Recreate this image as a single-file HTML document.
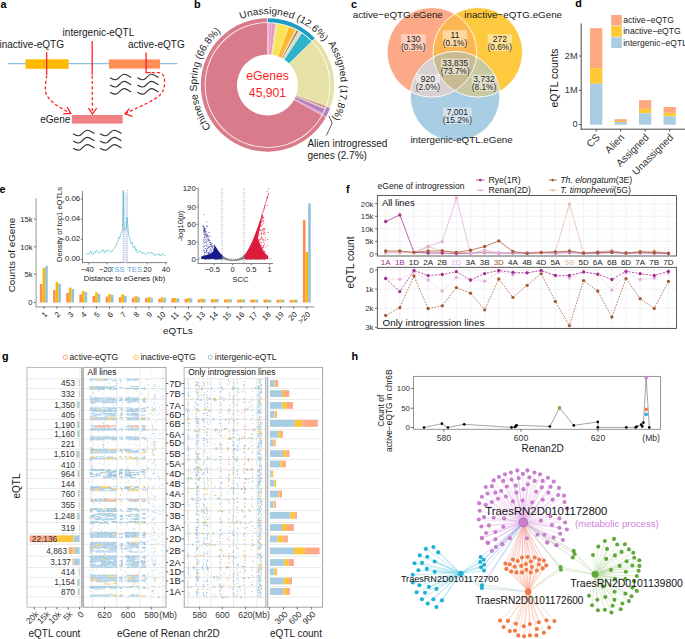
<!DOCTYPE html>
<html><head><meta charset="utf-8"><style>
html,body{margin:0;padding:0;background:#fff;}
svg{display:block;font-family:"Liberation Sans", sans-serif;}
</style></head><body>
<svg width="685" height="639" viewBox="0 0 685 639">
<rect width="685" height="639" fill="#fff"/>
<text x="0.60" y="7.90" font-size="10.8" font-weight="bold" fill="#000">a</text>
<line x1="8.00" y1="63.70" x2="177.50" y2="63.70" stroke="#8fbfdf" stroke-width="1.2"/>
<rect x="25.50" y="59.30" width="43.10" height="9.50" fill="#ffb901"/>
<rect x="109.00" y="59.40" width="51.00" height="9.20" fill="#ff8d55"/>
<text x="-0.50" y="48.00" font-size="10" fill="#1a1a1a">inactive-eQTG</text>
<text x="62.60" y="36.20" font-size="10" fill="#1a1a1a">intergenic-eQTL</text>
<text x="128.00" y="48.30" font-size="10" fill="#1a1a1a">active-eQTG</text>
<rect x="71.80" y="115.00" width="50.90" height="8.60" fill="#f08283"/>
<text x="70.30" y="122.80" font-size="10" text-anchor="end" fill="#1a1a1a">eGene</text>
<line x1="46.70" y1="52.30" x2="46.70" y2="74.80" stroke="#ff2222" stroke-width="1.3"/>
<line x1="92.20" y1="41.00" x2="92.20" y2="74.80" stroke="#ff2222" stroke-width="1.3"/>
<path d="M146.1,52.5 L146.1,72.6 L150.5,72.6" stroke="#ff2222" fill="none" stroke-width="1.3"/>
<path d="M46.7,75.5 C46.2,80 44.8,87 45.6,92 C47.5,100 58,107 70.2,113.2" stroke="#ff2222" fill="none" stroke-width="1.3" stroke-dasharray="3.2,2.2"/>
<path d="M63.2,113.8 L70.8,113.5 L67.1,107.0" stroke="#ff2222" fill="none" stroke-width="1.3"/>
<path d="M92.2,75.5 L92.4,113.5" stroke="#ff2222" fill="none" stroke-width="1.3" stroke-dasharray="3.2,2.2"/>
<path d="M88.4,108.0 L92.5,114.2 L96.7,108.0" stroke="#ff2222" fill="none" stroke-width="1.3"/>
<path d="M151.5,72.6 L158,72.6 C163,72.8 164.6,76 164.6,82 C164.6,88 163.5,92 159,96 C150,103 136,108 125.5,113.6" stroke="#ff2222" fill="none" stroke-width="1.3" stroke-dasharray="3.2,2.2"/>
<path d="M129.4,108.7 L125.0,113.8 L132.5,116.3" stroke="#ff2222" fill="none" stroke-width="1.3"/>
<path d="M110.00,77.80 C112.94,79.30 114.91,81.30 117.85,78.80 C119.81,76.80 121.78,74.20 124.23,74.20 C126.69,74.20 128.65,76.20 131.20,77.60" stroke="#333" fill="none" stroke-width="1.15"/>
<path d="M110.00,85.00 C112.94,86.50 114.91,88.50 117.85,86.00 C119.81,84.00 121.78,81.40 124.23,81.40 C126.69,81.40 128.65,83.40 131.20,84.80" stroke="#333" fill="none" stroke-width="1.15"/>
<path d="M110.00,92.20 C112.94,93.70 114.91,95.70 117.85,93.20 C119.81,91.20 121.78,88.60 124.23,88.60 C126.69,88.60 128.65,90.60 131.20,92.00" stroke="#333" fill="none" stroke-width="1.15"/>
<path d="M137.30,77.80 C140.24,79.30 142.21,81.30 145.15,78.80 C147.11,76.80 149.08,74.20 151.53,74.20 C153.99,74.20 155.95,76.20 158.50,77.60" stroke="#333" fill="none" stroke-width="1.15"/>
<path d="M137.30,85.00 C140.24,86.50 142.21,88.50 145.15,86.00 C147.11,84.00 149.08,81.40 151.53,81.40 C153.99,81.40 155.95,83.40 158.50,84.80" stroke="#333" fill="none" stroke-width="1.15"/>
<path d="M137.30,92.20 C140.24,93.70 142.21,95.70 145.15,93.20 C147.11,91.20 149.08,88.60 151.53,88.60 C153.99,88.60 155.95,90.60 158.50,92.00" stroke="#333" fill="none" stroke-width="1.15"/>
<path d="M73.00,133.80 C75.99,135.30 77.98,137.30 80.96,134.80 C82.95,132.80 84.94,130.20 87.43,130.20 C89.92,130.20 91.91,132.20 94.50,133.60" stroke="#333" fill="none" stroke-width="1.15"/>
<path d="M73.00,141.00 C75.99,142.50 77.98,144.50 80.96,142.00 C82.95,140.00 84.94,137.40 87.43,137.40 C89.92,137.40 91.91,139.40 94.50,140.80" stroke="#333" fill="none" stroke-width="1.15"/>
<path d="M73.00,148.20 C75.99,149.70 77.98,151.70 80.96,149.20 C82.95,147.20 84.94,144.60 87.43,144.60 C89.92,144.60 91.91,146.60 94.50,148.00" stroke="#333" fill="none" stroke-width="1.15"/>
<path d="M100.00,133.80 C102.99,135.30 104.98,137.30 107.96,134.80 C109.95,132.80 111.94,130.20 114.43,130.20 C116.92,130.20 118.91,132.20 121.50,133.60" stroke="#333" fill="none" stroke-width="1.15"/>
<path d="M100.00,141.00 C102.99,142.50 104.98,144.50 107.96,142.00 C109.95,140.00 111.94,137.40 114.43,137.40 C116.92,137.40 118.91,139.40 121.50,140.80" stroke="#333" fill="none" stroke-width="1.15"/>
<path d="M100.00,148.20 C102.99,149.70 104.98,151.70 107.96,149.20 C109.95,147.20 111.94,144.60 114.43,144.60 C116.92,144.60 118.91,146.60 121.50,148.00" stroke="#333" fill="none" stroke-width="1.15"/>
<text x="193.90" y="7.90" font-size="10.8" font-weight="bold" fill="#000">b</text>
<path d="M267.50,23.00 A62.0,62.0 0 0 1 269.23,23.02 L268.35,54.51 A30.5,30.5 0 0 0 267.50,54.50 Z" fill="#e9b7d3"/>
<path d="M269.23,23.02 A62.0,62.0 0 0 1 272.04,23.17 L269.73,54.58 A30.5,30.5 0 0 0 268.35,54.51 Z" fill="#f29bd0"/>
<path d="M272.04,23.17 A62.0,62.0 0 0 1 275.27,23.49 L271.32,54.74 A30.5,30.5 0 0 0 269.73,54.58 Z" fill="#e39ab6"/>
<path d="M275.27,23.49 A62.0,62.0 0 0 1 277.09,23.75 L272.22,54.87 A30.5,30.5 0 0 0 271.32,54.74 Z" fill="#e6d3b8"/>
<path d="M277.09,23.75 A62.0,62.0 0 0 1 288.81,26.78 L277.98,56.36 A30.5,30.5 0 0 0 272.22,54.87 Z" fill="#f8e45b"/>
<path d="M288.81,26.78 A62.0,62.0 0 0 1 295.45,29.66 L281.25,57.78 A30.5,30.5 0 0 0 277.98,56.36 Z" fill="#fdb92a"/>
<path d="M295.45,29.66 A62.0,62.0 0 0 1 296.61,30.26 L281.82,58.07 A30.5,30.5 0 0 0 281.25,57.78 Z" fill="#f3e2c2"/>
<path d="M296.61,30.26 A62.0,62.0 0 0 1 298.50,31.31 L282.75,58.59 A30.5,30.5 0 0 0 281.82,58.07 Z" fill="#a9793f"/>
<path d="M298.50,31.31 A62.0,62.0 0 0 1 301.72,33.30 L284.33,59.57 A30.5,30.5 0 0 0 282.75,58.59 Z" fill="#dcdcca"/>
<path d="M301.72,33.30 A62.0,62.0 0 0 1 311.65,41.47 L289.22,63.58 A30.5,30.5 0 0 0 284.33,59.57 Z" fill="#2cb3c7"/>
<path d="M311.65,41.47 A62.0,62.0 0 0 1 326.12,105.19 L296.34,94.93 A30.5,30.5 0 0 0 289.22,63.58 Z" fill="#e6e1a7"/>
<path d="M326.12,105.19 A62.0,62.0 0 0 1 325.54,106.81 L296.05,95.73 A30.5,30.5 0 0 0 296.34,94.93 Z" fill="#e4b7a3"/>
<path d="M325.54,106.81 A62.0,62.0 0 0 1 325.15,107.82 L295.86,96.23 A30.5,30.5 0 0 0 296.05,95.73 Z" fill="#a47b5c"/>
<path d="M325.15,107.82 A62.0,62.0 0 0 1 324.74,108.83 L295.66,96.72 A30.5,30.5 0 0 0 295.86,96.23 Z" fill="#e8c7b8"/>
<path d="M324.74,108.83 A62.0,62.0 0 0 1 322.74,113.15 L294.68,98.85 A30.5,30.5 0 0 0 295.66,96.72 Z" fill="#b681b8"/>
<path d="M322.74,113.15 A62.0,62.0 0 0 1 321.78,114.96 L294.20,99.74 A30.5,30.5 0 0 0 294.68,98.85 Z" fill="#d9a5d8"/>
<path d="M321.78,114.96 A62.0,62.0 0 1 1 267.50,23.00 L267.50,54.50 A30.5,30.5 0 1 0 294.20,99.74 Z" fill="#d97b8a"/>
<line x1="267.50" y1="54.50" x2="267.50" y2="23.00" stroke="#fff" stroke-width="0.35"/>
<line x1="272.22" y1="54.87" x2="277.09" y2="23.75" stroke="#fff" stroke-width="0.35"/>
<line x1="277.98" y1="56.36" x2="288.81" y2="26.78" stroke="#fff" stroke-width="0.35"/>
<line x1="281.82" y1="58.07" x2="296.61" y2="30.26" stroke="#fff" stroke-width="0.35"/>
<line x1="282.75" y1="58.59" x2="298.50" y2="31.31" stroke="#fff" stroke-width="0.35"/>
<line x1="284.33" y1="59.57" x2="301.72" y2="33.30" stroke="#fff" stroke-width="0.35"/>
<line x1="289.22" y1="63.58" x2="311.65" y2="41.47" stroke="#fff" stroke-width="0.35"/>
<line x1="296.34" y1="94.93" x2="326.12" y2="105.19" stroke="#fff" stroke-width="0.35"/>
<line x1="295.66" y1="96.72" x2="324.74" y2="108.83" stroke="#fff" stroke-width="0.35"/>
<line x1="294.20" y1="99.74" x2="321.78" y2="114.96" stroke="#fff" stroke-width="0.35"/>
<path d="M267.50,18.30 A66.7,66.7 0 0 1 314.99,38.17 L312.22,40.90 A62.8,62.8 0 0 0 267.50,22.20 Z" fill="#1c9dc5"/>
<path d="M314.99,38.17 A66.7,66.7 0 0 1 330.18,107.81 L326.51,106.48 A62.8,62.8 0 0 0 312.22,40.90 Z" fill="#e6e1a7"/>
<path d="M330.18,107.81 A66.7,66.7 0 0 1 325.89,117.23 L322.48,115.35 A62.8,62.8 0 0 0 326.51,106.48 Z" fill="#b681b8"/>
<path d="M325.89,117.23 A66.7,66.7 0 1 1 267.50,18.30 L267.50,22.20 A62.8,62.8 0 1 0 322.48,115.35 Z" fill="#d97b8a"/>
<line x1="267.50" y1="22.50" x2="267.50" y2="17.50" stroke="#fff" stroke-width="0.6"/>
<line x1="312.00" y1="41.12" x2="315.56" y2="37.60" stroke="#fff" stroke-width="0.6"/>
<line x1="326.23" y1="106.38" x2="330.93" y2="108.09" stroke="#fff" stroke-width="0.6"/>
<line x1="322.22" y1="115.21" x2="326.59" y2="117.62" stroke="#fff" stroke-width="0.6"/>
<text x="267.50" y="80.00" font-size="12.2" text-anchor="middle" fill="#ff1f1f">eGenes</text>
<text x="267.50" y="97.00" font-size="12.2" text-anchor="middle" fill="#ff1f1f">45,901</text>
<text x="0" y="0" font-size="10" text-anchor="middle" fill="#1a1a1a" transform="translate(208.86,124.67) rotate(235.92)">C</text><text x="0" y="0" font-size="10" text-anchor="middle" fill="#1a1a1a" transform="translate(205.52,119.22) rotate(241.09)">h</text><text x="0" y="0" font-size="10" text-anchor="middle" fill="#1a1a1a" transform="translate(203.73,115.77) rotate(244.24)">i</text><text x="0" y="0" font-size="10" text-anchor="middle" fill="#1a1a1a" transform="translate(202.14,112.22) rotate(247.39)">n</text><text x="0" y="0" font-size="10" text-anchor="middle" fill="#1a1a1a" transform="translate(200.21,107.00) rotate(251.89)">e</text><text x="0" y="0" font-size="10" text-anchor="middle" fill="#1a1a1a" transform="translate(198.75,101.93) rotate(256.17)">s</text><text x="0" y="0" font-size="10" text-anchor="middle" fill="#1a1a1a" transform="translate(197.68,96.76) rotate(260.44)">e</text><text x="0" y="0" font-size="10" text-anchor="middle" fill="#1a1a1a" transform="translate(196.76,87.92) rotate(267.64)">S</text><text x="0" y="0" font-size="10" text-anchor="middle" fill="#1a1a1a" transform="translate(196.77,81.81) rotate(272.59)">p</text><text x="0" y="0" font-size="10" text-anchor="middle" fill="#1a1a1a" transform="translate(197.11,77.37) rotate(276.18)">r</text><text x="0" y="0" font-size="10" text-anchor="middle" fill="#1a1a1a" transform="translate(197.46,74.62) rotate(278.43)">i</text><text x="0" y="0" font-size="10" text-anchor="middle" fill="#1a1a1a" transform="translate(198.14,70.79) rotate(281.58)">n</text><text x="0" y="0" font-size="10" text-anchor="middle" fill="#1a1a1a" transform="translate(199.47,65.39) rotate(286.08)">g</text><text x="0" y="0" font-size="10" text-anchor="middle" fill="#1a1a1a" transform="translate(201.82,58.56) rotate(291.93)">(</text><text x="0" y="0" font-size="10" text-anchor="middle" fill="#1a1a1a" transform="translate(203.61,54.49) rotate(295.52)">6</text><text x="0" y="0" font-size="10" text-anchor="middle" fill="#1a1a1a" transform="translate(206.20,49.58) rotate(300.02)">6</text><text x="0" y="0" font-size="10" text-anchor="middle" fill="#1a1a1a" transform="translate(208.39,46.03) rotate(303.40)">.</text><text x="0" y="0" font-size="10" text-anchor="middle" fill="#1a1a1a" transform="translate(210.79,42.62) rotate(306.77)">8</text><text x="0" y="0" font-size="10" text-anchor="middle" fill="#1a1a1a" transform="translate(215.40,37.06) rotate(312.62)">%</text><text x="0" y="0" font-size="10" text-anchor="middle" fill="#1a1a1a" transform="translate(219.73,32.75) rotate(317.56)">)</text>
<text x="0" y="0" font-size="10" text-anchor="middle" fill="#1a1a1a" transform="translate(244.13,18.17) rotate(340.72)">U</text><text x="0" y="0" font-size="10" text-anchor="middle" fill="#1a1a1a" transform="translate(250.34,16.31) rotate(345.98)">n</text><text x="0" y="0" font-size="10" text-anchor="middle" fill="#1a1a1a" transform="translate(255.88,15.16) rotate(350.56)">a</text><text x="0" y="0" font-size="10" text-anchor="middle" fill="#1a1a1a" transform="translate(261.22,14.48) rotate(354.91)">s</text><text x="0" y="0" font-size="10" text-anchor="middle" fill="#1a1a1a" transform="translate(266.31,14.21) rotate(359.04)">s</text><text x="0" y="0" font-size="10" text-anchor="middle" fill="#1a1a1a" transform="translate(270.02,14.24) rotate(362.04)">i</text><text x="0" y="0" font-size="10" text-anchor="middle" fill="#1a1a1a" transform="translate(274.00,14.50) rotate(365.27)">g</text><text x="0" y="0" font-size="10" text-anchor="middle" fill="#1a1a1a" transform="translate(279.61,15.24) rotate(369.85)">n</text><text x="0" y="0" font-size="10" text-anchor="middle" fill="#1a1a1a" transform="translate(285.15,16.43) rotate(374.43)">e</text><text x="0" y="0" font-size="10" text-anchor="middle" fill="#1a1a1a" transform="translate(290.57,18.06) rotate(379.01)">d</text><text x="0" y="0" font-size="10" text-anchor="middle" fill="#1a1a1a" transform="translate(297.45,20.85) rotate(385.02)">(</text><text x="0" y="0" font-size="10" text-anchor="middle" fill="#1a1a1a" transform="translate(301.50,22.90) rotate(388.70)">1</text><text x="0" y="0" font-size="10" text-anchor="middle" fill="#1a1a1a" transform="translate(306.35,25.81) rotate(393.28)">2</text><text x="0" y="0" font-size="10" text-anchor="middle" fill="#1a1a1a" transform="translate(309.85,28.26) rotate(396.74)">.</text><text x="0" y="0" font-size="10" text-anchor="middle" fill="#1a1a1a" transform="translate(313.19,30.92) rotate(400.19)">6</text><text x="0" y="0" font-size="10" text-anchor="middle" fill="#1a1a1a" transform="translate(318.53,35.93) rotate(406.12)">%</text><text x="0" y="0" font-size="10" text-anchor="middle" fill="#1a1a1a" transform="translate(322.64,40.59) rotate(411.15)">)</text>
<text x="0" y="0" font-size="10" text-anchor="middle" fill="#1a1a1a" transform="translate(329.72,46.44) rotate(58.21)">A</text><text x="0" y="0" font-size="10" text-anchor="middle" fill="#1a1a1a" transform="translate(332.59,51.52) rotate(62.78)">s</text><text x="0" y="0" font-size="10" text-anchor="middle" fill="#1a1a1a" transform="translate(334.73,56.04) rotate(66.69)">s</text><text x="0" y="0" font-size="10" text-anchor="middle" fill="#1a1a1a" transform="translate(336.07,59.39) rotate(69.52)">i</text><text x="0" y="0" font-size="10" text-anchor="middle" fill="#1a1a1a" transform="translate(337.34,63.07) rotate(72.56)">g</text><text x="0" y="0" font-size="10" text-anchor="middle" fill="#1a1a1a" transform="translate(338.80,68.43) rotate(76.92)">n</text><text x="0" y="0" font-size="10" text-anchor="middle" fill="#1a1a1a" transform="translate(339.85,73.89) rotate(81.27)">e</text><text x="0" y="0" font-size="10" text-anchor="middle" fill="#1a1a1a" transform="translate(340.49,79.41) rotate(85.62)">d</text><text x="0" y="0" font-size="10" text-anchor="middle" fill="#1a1a1a" transform="translate(340.68,86.63) rotate(91.28)">(</text><text x="0" y="0" font-size="10" text-anchor="middle" fill="#1a1a1a" transform="translate(340.45,91.07) rotate(94.76)">1</text><text x="0" y="0" font-size="10" text-anchor="middle" fill="#1a1a1a" transform="translate(339.78,96.59) rotate(99.11)">7</text><text x="0" y="0" font-size="10" text-anchor="middle" fill="#1a1a1a" transform="translate(339.00,100.68) rotate(102.37)">.</text><text x="0" y="0" font-size="10" text-anchor="middle" fill="#1a1a1a" transform="translate(337.99,104.73) rotate(105.64)">8</text><text x="0" y="0" font-size="10" text-anchor="middle" fill="#1a1a1a" transform="translate(335.70,111.58) rotate(111.29)">%</text><text x="0" y="0" font-size="10" text-anchor="middle" fill="#1a1a1a" transform="translate(333.25,117.17) rotate(116.08)">)</text>
<path d="M328.9,115.9 L332.2,123.1 L326.3,135.6" stroke="#333" fill="none" stroke-width="0.8"/>
<text x="307.40" y="147.00" font-size="10" fill="#1a1a1a">Alien introgressed</text>
<text x="307.40" y="158.80" font-size="10" fill="#1a1a1a">genes (2.7%)</text>
<text x="351.00" y="7.90" font-size="10.8" font-weight="bold" fill="#000">c</text>
<defs><clipPath id="cO"><circle cx="431.9" cy="52.3" r="44.8"/></clipPath><clipPath id="cY"><circle cx="477.8" cy="52.3" r="44.8"/></clipPath><clipPath id="cB"><circle cx="455.1" cy="96.2" r="44.8"/></clipPath></defs>
<circle cx="431.90" cy="52.30" r="44.80" fill="#fca987"/>
<circle cx="477.80" cy="52.30" r="44.80" fill="#fdc93f"/>
<circle cx="455.10" cy="96.20" r="44.80" fill="#a9cde3"/>
<g clip-path="url(#cO)"><circle cx="477.80" cy="52.30" r="44.80" fill="#fcb752"/></g>
<g clip-path="url(#cO)"><circle cx="455.10" cy="96.20" r="44.80" fill="#d7cfd0"/></g>
<g clip-path="url(#cY)"><circle cx="455.10" cy="96.20" r="44.80" fill="#c9c9a1"/></g>
<g clip-path="url(#cO)"><g clip-path="url(#cY)"><circle cx="455.10" cy="96.20" r="44.80" fill="#c8bb91"/></g></g>
<circle cx="431.90" cy="52.30" r="44.80" fill="none" stroke="#fff" stroke-width="0.9"/>
<circle cx="477.80" cy="52.30" r="44.80" fill="none" stroke="#fff" stroke-width="0.9"/>
<circle cx="455.10" cy="96.20" r="44.80" fill="none" stroke="#fff" stroke-width="0.9"/>
<rect x="401.05" y="34.30" width="24.50" height="16.60" fill="#ffffff" fill-opacity="0.45" rx="1.2"/><text x="413.30" y="41.70" font-size="8.5" text-anchor="middle" fill="#222">130</text><text x="413.30" y="49.50" font-size="8.3" text-anchor="middle" fill="#222">(0.3%)</text>
<rect x="442.75" y="30.30" width="24.50" height="16.60" fill="#ffffff" fill-opacity="0.45" rx="1.2"/><text x="455.00" y="37.70" font-size="8.5" text-anchor="middle" fill="#222">11</text><text x="455.00" y="45.50" font-size="8.3" text-anchor="middle" fill="#222">(0.1%)</text>
<rect x="487.55" y="34.30" width="24.50" height="16.60" fill="#ffffff" fill-opacity="0.45" rx="1.2"/><text x="499.80" y="41.70" font-size="8.5" text-anchor="middle" fill="#222">272</text><text x="499.80" y="49.50" font-size="8.3" text-anchor="middle" fill="#222">(0.6%)</text>
<rect x="440.95" y="58.50" width="28.50" height="16.60" fill="#ffffff" fill-opacity="0.45" rx="1.2"/><text x="455.20" y="65.90" font-size="8.5" text-anchor="middle" fill="#222">33,835</text><text x="455.20" y="73.70" font-size="8.3" text-anchor="middle" fill="#222">(73.7%)</text>
<rect x="415.65" y="74.30" width="24.50" height="16.60" fill="#ffffff" fill-opacity="0.45" rx="1.2"/><text x="427.90" y="81.70" font-size="8.5" text-anchor="middle" fill="#222">920</text><text x="427.90" y="89.50" font-size="8.3" text-anchor="middle" fill="#222">(2.0%)</text>
<rect x="471.75" y="74.40" width="24.50" height="16.60" fill="#ffffff" fill-opacity="0.45" rx="1.2"/><text x="484.00" y="81.80" font-size="8.5" text-anchor="middle" fill="#222">3,732</text><text x="484.00" y="89.60" font-size="8.3" text-anchor="middle" fill="#222">(8.1%)</text>
<rect x="443.15" y="107.50" width="28.50" height="16.60" fill="#ffffff" fill-opacity="0.45" rx="1.2"/><text x="457.40" y="114.90" font-size="8.5" text-anchor="middle" fill="#222">7,001</text><text x="457.40" y="122.70" font-size="8.3" text-anchor="middle" fill="#222">(15.2%)</text>
<text x="352.70" y="17.50" font-size="9.8" fill="#1a1a1a">active−eQTG.eGene</text>
<text x="464.30" y="17.50" font-size="9.8" fill="#1a1a1a">inactive−eQTG.eGene</text>
<text x="410.40" y="142.80" font-size="9.8" fill="#1a1a1a">intergenic-eQTL.eGene</text>
<text x="575.20" y="7.20" font-size="10.8" font-weight="bold" fill="#000">d</text>
<line x1="581.20" y1="23.50" x2="581.20" y2="129.50" stroke="#333" stroke-width="0.9"/>
<line x1="580.80" y1="129.20" x2="685.00" y2="129.20" stroke="#333" stroke-width="0.9"/>
<line x1="578.80" y1="124.60" x2="581.20" y2="124.60" stroke="#333" stroke-width="0.8"/>
<text x="577.60" y="127.30" font-size="9.2" text-anchor="end" fill="#333">0</text>
<line x1="578.80" y1="90.30" x2="581.20" y2="90.30" stroke="#333" stroke-width="0.8"/>
<text x="577.60" y="93.00" font-size="9.2" text-anchor="end" fill="#333">1M</text>
<line x1="578.80" y1="56.00" x2="581.20" y2="56.00" stroke="#333" stroke-width="0.8"/>
<text x="577.60" y="58.70" font-size="9.2" text-anchor="end" fill="#333">2M</text>
<rect x="590.00" y="28.20" width="12.30" height="40.00" fill="#fca880"/>
<rect x="590.00" y="68.20" width="12.30" height="15.60" fill="#fdca35"/>
<rect x="590.00" y="83.80" width="12.30" height="40.90" fill="#a8cde2"/>
<rect x="614.50" y="119.20" width="12.30" height="1.80" fill="#fca880"/>
<rect x="614.50" y="121.00" width="12.30" height="1.00" fill="#fdca35"/>
<rect x="614.50" y="122.00" width="12.30" height="2.70" fill="#a8cde2"/>
<rect x="639.00" y="100.20" width="12.30" height="8.60" fill="#fca880"/>
<rect x="639.00" y="108.80" width="12.30" height="4.50" fill="#fdca35"/>
<rect x="639.00" y="113.30" width="12.30" height="11.40" fill="#a8cde2"/>
<rect x="663.50" y="107.00" width="12.30" height="5.80" fill="#fca880"/>
<rect x="663.50" y="112.80" width="12.30" height="3.60" fill="#fdca35"/>
<rect x="663.50" y="116.40" width="12.30" height="8.30" fill="#a8cde2"/>
<line x1="596.20" y1="129.20" x2="596.20" y2="131.60" stroke="#333" stroke-width="0.8"/>
<line x1="620.60" y1="129.20" x2="620.60" y2="131.60" stroke="#333" stroke-width="0.8"/>
<line x1="645.10" y1="129.20" x2="645.10" y2="131.60" stroke="#333" stroke-width="0.8"/>
<line x1="669.60" y1="129.20" x2="669.60" y2="131.60" stroke="#333" stroke-width="0.8"/>
<text x="0" y="0" font-size="10.1" text-anchor="end" fill="#333" transform="translate(600.60,138.00) rotate(-45)">CS</text>
<text x="0" y="0" font-size="10.1" text-anchor="end" fill="#333" transform="translate(625.00,138.00) rotate(-45)">Alien</text>
<text x="0" y="0" font-size="10.1" text-anchor="end" fill="#333" transform="translate(649.50,138.00) rotate(-45)">Assigned</text>
<text x="0" y="0" font-size="10.1" text-anchor="end" fill="#333" transform="translate(674.00,138.00) rotate(-45)">Unassigned</text>
<text x="0" y="0" font-size="10.4" text-anchor="middle" fill="#1a1a1a" transform="translate(557.80,78.00) rotate(-90)">eQTL counts</text>
<rect x="611.20" y="15.00" width="10.60" height="10.60" fill="#fca880"/>
<text x="623.20" y="23.20" font-size="8.6" fill="#222">active−eQTG</text>
<rect x="611.20" y="26.20" width="10.60" height="10.60" fill="#fdca35"/>
<text x="623.20" y="34.40" font-size="8.6" fill="#222">inactive−eQTG</text>
<rect x="611.20" y="37.40" width="10.60" height="10.60" fill="#a8cde2"/>
<text x="623.20" y="45.60" font-size="8.6" fill="#222">intergenic−eQTL</text>
<text x="-0.60" y="192.60" font-size="10.8" font-weight="bold" fill="#000">e</text>
<line x1="36.10" y1="198.20" x2="36.10" y2="307.40" stroke="#a8a8a8" stroke-width="1.2"/>
<line x1="35.40" y1="306.90" x2="314.50" y2="306.90" stroke="#a8a8a8" stroke-width="1.2"/>
<line x1="34.00" y1="302.40" x2="35.50" y2="302.40" stroke="#333" stroke-width="0.8"/>
<text x="32.60" y="305.20" font-size="7.6" text-anchor="end" fill="#222">0</text>
<line x1="34.00" y1="274.40" x2="35.50" y2="274.40" stroke="#333" stroke-width="0.8"/>
<text x="32.60" y="277.20" font-size="7.6" text-anchor="end" fill="#222">5k</text>
<line x1="34.00" y1="246.90" x2="35.50" y2="246.90" stroke="#333" stroke-width="0.8"/>
<text x="32.60" y="249.70" font-size="7.6" text-anchor="end" fill="#222">10k</text>
<line x1="34.00" y1="219.10" x2="35.50" y2="219.10" stroke="#333" stroke-width="0.8"/>
<text x="32.60" y="221.90" font-size="7.6" text-anchor="end" fill="#222">15k</text>
<text x="0" y="0" font-size="9.9" text-anchor="middle" fill="#1a1a1a" transform="translate(14.90,255.00) rotate(-90)">Counts of eGene</text>
<rect x="39.90" y="283.90" width="2.62" height="18.60" fill="#fd8e4f"/>
<rect x="42.52" y="268.10" width="2.62" height="34.40" fill="#fdb701"/>
<rect x="45.14" y="265.90" width="2.62" height="36.60" fill="#90c2dd"/>
<line x1="43.83" y1="306.60" x2="43.83" y2="308.60" stroke="#333" stroke-width="0.8"/>
<text x="0" y="0" font-size="7.8" text-anchor="end" fill="#222" transform="translate(47.73,315.00) rotate(-45)">1</text>
<rect x="53.05" y="290.20" width="2.62" height="12.30" fill="#fd8e4f"/>
<rect x="55.67" y="282.00" width="2.62" height="20.50" fill="#fdb701"/>
<rect x="58.29" y="283.90" width="2.62" height="18.60" fill="#90c2dd"/>
<line x1="56.98" y1="306.60" x2="56.98" y2="308.60" stroke="#333" stroke-width="0.8"/>
<text x="0" y="0" font-size="7.8" text-anchor="end" fill="#222" transform="translate(60.88,315.00) rotate(-45)">2</text>
<rect x="66.20" y="293.00" width="2.62" height="9.50" fill="#fd8e4f"/>
<rect x="68.82" y="287.60" width="2.62" height="14.90" fill="#fdb701"/>
<rect x="71.44" y="289.00" width="2.62" height="13.50" fill="#90c2dd"/>
<line x1="70.13" y1="306.60" x2="70.13" y2="308.60" stroke="#333" stroke-width="0.8"/>
<text x="0" y="0" font-size="7.8" text-anchor="end" fill="#222" transform="translate(74.03,315.00) rotate(-45)">3</text>
<rect x="79.35" y="294.40" width="2.62" height="8.10" fill="#fd8e4f"/>
<rect x="81.97" y="290.80" width="2.62" height="11.70" fill="#fdb701"/>
<rect x="84.59" y="291.90" width="2.62" height="10.60" fill="#90c2dd"/>
<line x1="83.28" y1="306.60" x2="83.28" y2="308.60" stroke="#333" stroke-width="0.8"/>
<text x="0" y="0" font-size="7.8" text-anchor="end" fill="#222" transform="translate(87.18,315.00) rotate(-45)">4</text>
<rect x="92.50" y="295.90" width="2.62" height="6.60" fill="#fd8e4f"/>
<rect x="95.12" y="292.20" width="2.62" height="10.30" fill="#fdb701"/>
<rect x="97.74" y="294.00" width="2.62" height="8.50" fill="#90c2dd"/>
<line x1="96.43" y1="306.60" x2="96.43" y2="308.60" stroke="#333" stroke-width="0.8"/>
<text x="0" y="0" font-size="7.8" text-anchor="end" fill="#222" transform="translate(100.33,315.00) rotate(-45)">5</text>
<rect x="105.65" y="296.60" width="2.62" height="5.90" fill="#fd8e4f"/>
<rect x="108.27" y="294.00" width="2.62" height="8.50" fill="#fdb701"/>
<rect x="110.89" y="294.90" width="2.62" height="7.60" fill="#90c2dd"/>
<line x1="109.58" y1="306.60" x2="109.58" y2="308.60" stroke="#333" stroke-width="0.8"/>
<text x="0" y="0" font-size="7.8" text-anchor="end" fill="#222" transform="translate(113.48,315.00) rotate(-45)">6</text>
<rect x="118.80" y="297.00" width="2.62" height="5.50" fill="#fd8e4f"/>
<rect x="121.42" y="294.40" width="2.62" height="8.10" fill="#fdb701"/>
<rect x="124.04" y="295.90" width="2.62" height="6.60" fill="#90c2dd"/>
<line x1="122.73" y1="306.60" x2="122.73" y2="308.60" stroke="#333" stroke-width="0.8"/>
<text x="0" y="0" font-size="7.8" text-anchor="end" fill="#222" transform="translate(126.63,315.00) rotate(-45)">7</text>
<rect x="131.95" y="297.80" width="2.62" height="4.70" fill="#fd8e4f"/>
<rect x="134.57" y="296.00" width="2.62" height="6.50" fill="#fdb701"/>
<rect x="137.19" y="297.00" width="2.62" height="5.50" fill="#90c2dd"/>
<line x1="135.88" y1="306.60" x2="135.88" y2="308.60" stroke="#333" stroke-width="0.8"/>
<text x="0" y="0" font-size="7.8" text-anchor="end" fill="#222" transform="translate(139.78,315.00) rotate(-45)">8</text>
<rect x="145.10" y="298.20" width="2.62" height="4.30" fill="#fd8e4f"/>
<rect x="147.72" y="297.00" width="2.62" height="5.50" fill="#fdb701"/>
<rect x="150.34" y="297.80" width="2.62" height="4.70" fill="#90c2dd"/>
<line x1="149.03" y1="306.60" x2="149.03" y2="308.60" stroke="#333" stroke-width="0.8"/>
<text x="0" y="0" font-size="7.8" text-anchor="end" fill="#222" transform="translate(152.93,315.00) rotate(-45)">9</text>
<rect x="158.25" y="298.70" width="2.62" height="3.80" fill="#fd8e4f"/>
<rect x="160.87" y="297.20" width="2.62" height="5.30" fill="#fdb701"/>
<rect x="163.49" y="297.80" width="2.62" height="4.70" fill="#90c2dd"/>
<line x1="162.18" y1="306.60" x2="162.18" y2="308.60" stroke="#333" stroke-width="0.8"/>
<text x="0" y="0" font-size="7.8" text-anchor="end" fill="#222" transform="translate(166.08,315.00) rotate(-45)">10</text>
<rect x="171.40" y="298.30" width="2.62" height="4.20" fill="#fd8e4f"/>
<rect x="174.02" y="298.00" width="2.62" height="4.50" fill="#fdb701"/>
<rect x="176.64" y="298.30" width="2.62" height="4.20" fill="#90c2dd"/>
<line x1="175.33" y1="306.60" x2="175.33" y2="308.60" stroke="#333" stroke-width="0.8"/>
<text x="0" y="0" font-size="7.8" text-anchor="end" fill="#222" transform="translate(179.23,315.00) rotate(-45)">11</text>
<rect x="184.55" y="299.00" width="2.62" height="3.50" fill="#fd8e4f"/>
<rect x="187.17" y="298.00" width="2.62" height="4.50" fill="#fdb701"/>
<rect x="189.79" y="298.30" width="2.62" height="4.20" fill="#90c2dd"/>
<line x1="188.48" y1="306.60" x2="188.48" y2="308.60" stroke="#333" stroke-width="0.8"/>
<text x="0" y="0" font-size="7.8" text-anchor="end" fill="#222" transform="translate(192.38,315.00) rotate(-45)">12</text>
<rect x="197.70" y="299.40" width="2.62" height="3.10" fill="#fd8e4f"/>
<rect x="200.32" y="298.50" width="2.62" height="4.00" fill="#fdb701"/>
<rect x="202.94" y="299.00" width="2.62" height="3.50" fill="#90c2dd"/>
<line x1="201.63" y1="306.60" x2="201.63" y2="308.60" stroke="#333" stroke-width="0.8"/>
<text x="0" y="0" font-size="7.8" text-anchor="end" fill="#222" transform="translate(205.53,315.00) rotate(-45)">13</text>
<rect x="210.85" y="299.40" width="2.62" height="3.10" fill="#fd8e4f"/>
<rect x="213.47" y="299.00" width="2.62" height="3.50" fill="#fdb701"/>
<rect x="216.09" y="299.00" width="2.62" height="3.50" fill="#90c2dd"/>
<line x1="214.78" y1="306.60" x2="214.78" y2="308.60" stroke="#333" stroke-width="0.8"/>
<text x="0" y="0" font-size="7.8" text-anchor="end" fill="#222" transform="translate(218.68,315.00) rotate(-45)">14</text>
<rect x="224.00" y="299.60" width="2.62" height="2.90" fill="#fd8e4f"/>
<rect x="226.62" y="299.10" width="2.62" height="3.40" fill="#fdb701"/>
<rect x="229.24" y="299.30" width="2.62" height="3.20" fill="#90c2dd"/>
<line x1="227.93" y1="306.60" x2="227.93" y2="308.60" stroke="#333" stroke-width="0.8"/>
<text x="0" y="0" font-size="7.8" text-anchor="end" fill="#222" transform="translate(231.83,315.00) rotate(-45)">15</text>
<rect x="237.15" y="299.70" width="2.62" height="2.80" fill="#fd8e4f"/>
<rect x="239.77" y="299.30" width="2.62" height="3.20" fill="#fdb701"/>
<rect x="242.39" y="299.40" width="2.62" height="3.10" fill="#90c2dd"/>
<line x1="241.08" y1="306.60" x2="241.08" y2="308.60" stroke="#333" stroke-width="0.8"/>
<text x="0" y="0" font-size="7.8" text-anchor="end" fill="#222" transform="translate(244.98,315.00) rotate(-45)">16</text>
<rect x="250.30" y="299.80" width="2.62" height="2.70" fill="#fd8e4f"/>
<rect x="252.92" y="299.40" width="2.62" height="3.10" fill="#fdb701"/>
<rect x="255.54" y="299.60" width="2.62" height="2.90" fill="#90c2dd"/>
<line x1="254.23" y1="306.60" x2="254.23" y2="308.60" stroke="#333" stroke-width="0.8"/>
<text x="0" y="0" font-size="7.8" text-anchor="end" fill="#222" transform="translate(258.13,315.00) rotate(-45)">17</text>
<rect x="263.45" y="299.80" width="2.62" height="2.70" fill="#fd8e4f"/>
<rect x="266.07" y="299.50" width="2.62" height="3.00" fill="#fdb701"/>
<rect x="268.69" y="299.70" width="2.62" height="2.80" fill="#90c2dd"/>
<line x1="267.38" y1="306.60" x2="267.38" y2="308.60" stroke="#333" stroke-width="0.8"/>
<text x="0" y="0" font-size="7.8" text-anchor="end" fill="#222" transform="translate(271.28,315.00) rotate(-45)">18</text>
<rect x="276.60" y="299.90" width="2.62" height="2.60" fill="#fd8e4f"/>
<rect x="279.22" y="299.60" width="2.62" height="2.90" fill="#fdb701"/>
<rect x="281.84" y="299.70" width="2.62" height="2.80" fill="#90c2dd"/>
<line x1="280.53" y1="306.60" x2="280.53" y2="308.60" stroke="#333" stroke-width="0.8"/>
<text x="0" y="0" font-size="7.8" text-anchor="end" fill="#222" transform="translate(284.43,315.00) rotate(-45)">19</text>
<rect x="289.75" y="300.00" width="2.62" height="2.50" fill="#fd8e4f"/>
<rect x="292.37" y="299.70" width="2.62" height="2.80" fill="#fdb701"/>
<rect x="294.99" y="299.80" width="2.62" height="2.70" fill="#90c2dd"/>
<line x1="293.68" y1="306.60" x2="293.68" y2="308.60" stroke="#333" stroke-width="0.8"/>
<text x="0" y="0" font-size="7.8" text-anchor="end" fill="#222" transform="translate(297.58,315.00) rotate(-45)">20</text>
<rect x="302.90" y="219.80" width="2.62" height="82.70" fill="#fd8e4f"/>
<rect x="305.52" y="252.10" width="2.62" height="50.40" fill="#fdb701"/>
<rect x="308.14" y="203.40" width="2.62" height="99.10" fill="#90c2dd"/>
<line x1="306.83" y1="306.60" x2="306.83" y2="308.60" stroke="#333" stroke-width="0.8"/>
<text x="0" y="0" font-size="7.8" text-anchor="end" fill="#222" transform="translate(310.73,315.00) rotate(-45)">&gt;20</text>
<text x="177.90" y="334.20" font-size="9.9" text-anchor="middle" fill="#1a1a1a">eQTLs</text>
<line x1="82.50" y1="191.00" x2="82.50" y2="263.20" stroke="#777" stroke-width="0.9"/>
<line x1="82.00" y1="262.60" x2="167.20" y2="262.60" stroke="#777" stroke-width="0.9"/>
<line x1="80.80" y1="259.50" x2="82.00" y2="259.50" stroke="#333" stroke-width="0.7"/>
<text x="80.20" y="261.20" font-size="7.8" text-anchor="end" fill="#222">0.00</text>
<line x1="80.80" y1="239.30" x2="82.00" y2="239.30" stroke="#333" stroke-width="0.7"/>
<text x="80.20" y="241.00" font-size="7.8" text-anchor="end" fill="#222">0.02</text>
<line x1="80.80" y1="219.20" x2="82.00" y2="219.20" stroke="#333" stroke-width="0.7"/>
<text x="80.20" y="220.90" font-size="7.8" text-anchor="end" fill="#222">0.04</text>
<line x1="80.80" y1="199.00" x2="82.00" y2="199.00" stroke="#333" stroke-width="0.7"/>
<text x="80.20" y="200.70" font-size="7.8" text-anchor="end" fill="#222">0.06</text>
<line x1="88.80" y1="263.20" x2="88.80" y2="264.40" stroke="#333" stroke-width="0.7"/>
<text x="87.20" y="272.40" font-size="7.6" text-anchor="middle" fill="#222">−40</text>
<line x1="107.00" y1="263.20" x2="107.00" y2="264.40" stroke="#333" stroke-width="0.7"/>
<text x="105.40" y="272.40" font-size="7.6" text-anchor="middle" fill="#222">−20</text>
<line x1="147.40" y1="263.20" x2="147.40" y2="264.40" stroke="#333" stroke-width="0.7"/>
<text x="147.40" y="272.40" font-size="7.6" text-anchor="middle" fill="#222">20</text>
<line x1="165.90" y1="263.20" x2="165.90" y2="264.40" stroke="#333" stroke-width="0.7"/>
<text x="165.90" y="272.40" font-size="7.6" text-anchor="middle" fill="#222">40</text>
<text x="117.20" y="272.40" font-size="7.6" text-anchor="middle" fill="#5d9fd3">TSS</text>
<text x="134.60" y="272.40" font-size="7.6" text-anchor="middle" fill="#5d9fd3">TES</text>
<text x="124.50" y="280.60" font-size="7.55" text-anchor="middle" fill="#1a1a1a">Distance to eGenes (kb)</text>
<text x="0" y="0" font-size="7.55" text-anchor="middle" fill="#1a1a1a" transform="translate(61.90,224.50) rotate(-90)">Density of top1 eQTLs</text>
<rect x="123.30" y="193.00" width="3.90" height="69.60" fill="#e9ebf2"/>
<path d="M86.50,253.79 L87.85,254.34 L89.31,253.96 L90.76,250.96 L91.94,254.49 L93.23,254.18 L94.20,252.35 L95.25,252.54 L96.49,250.28 L97.52,251.24 L98.97,253.03 L99.97,253.05 L100.95,252.22 L101.93,249.65 L103.35,250.33 L104.38,253.31 L105.80,250.39 L107.28,251.23 L108.59,249.75 L110.05,251.54 L111.53,252.19 L112.61,249.95 L113.61,248.98 L115.00,247.60 L116.00,246.00 L117.00,242.50 L118.00,241.50 L118.80,237.60 L119.60,238.50 L120.50,234.00 L121.30,233.50 L121.90,231.40 L122.60,228.50 L123.20,191.00 L123.80,222.00 L124.40,229.00 L125.00,230.50 L125.70,229.00 L126.30,227.50 L127.00,217.00 L127.60,222.00 L128.20,231.00 L129.00,236.00 L129.60,237.60 L130.40,240.00 L131.20,243.50 L132.00,242.00 L133.00,246.50 L133.80,247.60 L134.60,246.00 L135.60,250.50 L136.60,249.00 L137.60,252.70 L138.60,251.66 L139.92,250.88 L141.30,252.13 L142.41,253.81 L143.65,252.37 L144.89,253.77 L145.83,254.76 L146.74,254.15 L148.23,252.01 L149.69,253.31 L150.99,252.34 L151.92,253.01 L153.49,253.26 L154.92,255.79 L156.48,254.12 L157.63,254.85 L159.07,253.70 L160.50,256.09 L162.00,253.85 L163.56,254.23 L164.70,256.04" stroke="#62c4dc" fill="none" stroke-width="0.8"/>
<line x1="123.30" y1="190.00" x2="123.30" y2="262.60" stroke="#4a78b0" stroke-width="0.6" stroke-dasharray="1.0,1.3"/>
<line x1="127.20" y1="190.00" x2="127.20" y2="262.60" stroke="#4a78b0" stroke-width="0.6" stroke-dasharray="1.0,1.3"/>
<line x1="198.20" y1="187.50" x2="198.20" y2="264.00" stroke="#777" stroke-width="0.9"/>
<line x1="197.70" y1="263.50" x2="273.20" y2="263.50" stroke="#777" stroke-width="0.9"/>
<line x1="196.50" y1="259.70" x2="197.70" y2="259.70" stroke="#333" stroke-width="0.7"/>
<text x="195.80" y="262.30" font-size="7.8" text-anchor="end" fill="#222">0</text>
<line x1="196.50" y1="242.00" x2="197.70" y2="242.00" stroke="#333" stroke-width="0.7"/>
<text x="195.80" y="244.60" font-size="7.8" text-anchor="end" fill="#222">30</text>
<line x1="196.50" y1="224.40" x2="197.70" y2="224.40" stroke="#333" stroke-width="0.7"/>
<text x="195.80" y="227.00" font-size="7.8" text-anchor="end" fill="#222">60</text>
<line x1="196.50" y1="207.00" x2="197.70" y2="207.00" stroke="#333" stroke-width="0.7"/>
<text x="195.80" y="209.60" font-size="7.8" text-anchor="end" fill="#222">90</text>
<line x1="196.50" y1="188.60" x2="197.70" y2="188.60" stroke="#333" stroke-width="0.7"/>
<text x="195.80" y="191.20" font-size="7.8" text-anchor="end" fill="#222">120</text>
<line x1="214.20" y1="264.00" x2="214.20" y2="265.20" stroke="#333" stroke-width="0.7"/>
<text x="212.40" y="272.40" font-size="7.6" text-anchor="middle" fill="#222">−0.5</text>
<line x1="232.70" y1="264.00" x2="232.70" y2="265.20" stroke="#333" stroke-width="0.7"/>
<text x="232.70" y="272.40" font-size="7.6" text-anchor="middle" fill="#222">0</text>
<line x1="251.20" y1="264.00" x2="251.20" y2="265.20" stroke="#333" stroke-width="0.7"/>
<text x="251.20" y="272.40" font-size="7.6" text-anchor="middle" fill="#222">0.5</text>
<line x1="269.70" y1="264.00" x2="269.70" y2="265.20" stroke="#333" stroke-width="0.7"/>
<text x="269.70" y="272.40" font-size="7.6" text-anchor="middle" fill="#222">1</text>
<text x="240.40" y="282.40" font-size="7.6" text-anchor="middle" fill="#1a1a1a">SCC</text>
<text x="0" y="0" font-size="7.6" text-anchor="middle" fill="#1a1a1a" transform="translate(182.80,226.00) rotate(-90)">-log10(<tspan font-style="italic">p</tspan>)</text>
<path d="M222.4,255.2 C226,258.6 230,259.6 233.6,259.6 C237,259.6 241,258.4 244.4,254.6 L244.4,259.0 C240,260.4 237,261.0 233.6,261.0 C230,261.0 226,260.4 222.4,259.0 Z" stroke="none" fill="#8c8c8c" stroke-width="1"/>
<path d="M244.2,259.0 L244.2,255.2 C247,252 250,246.5 253,239.5 C255.5,233.5 257.5,228 259.5,222 C260.5,219 261.5,215 262.2,212 C262.0,220 259.5,230 257.8,238 C259.5,243 261.5,247 262.5,249.5 C264,252 265.5,254 268.2,256.0 L268.2,259.0 Z" stroke="none" fill="#dc1a3c" stroke-width="1"/>
<path d="M222.5,259.0 L222.5,255.6 C220.8,254.0 219.0,252.0 217.2,249.0 C216.0,247.2 215.0,245.5 214.2,244.0 C214.6,247.5 214.0,250.5 212.2,252.6 C209.5,254.6 205.0,255.6 201.2,256.4 L201.2,259.0 Z" stroke="none" fill="#17188a" stroke-width="1"/>
<path d="M259.1,250.6h0.8v0.8h-0.8zM264.5,205.2h0.8v0.8h-0.8zM260.0,247.7h0.8v0.8h-0.8zM256.2,258.2h0.8v0.8h-0.8zM263.3,239.2h0.8v0.8h-0.8zM251.4,258.9h0.8v0.8h-0.8zM261.6,258.9h0.8v0.8h-0.8zM255.9,233.5h0.8v0.8h-0.8zM267.4,196.0h0.8v0.8h-0.8zM261.4,237.1h0.8v0.8h-0.8zM245.1,258.5h0.8v0.8h-0.8zM251.8,246.4h0.8v0.8h-0.8zM250.6,258.1h0.8v0.8h-0.8zM254.6,259.0h0.8v0.8h-0.8zM263.7,251.2h0.8v0.8h-0.8zM260.9,247.0h0.8v0.8h-0.8zM261.1,248.1h0.8v0.8h-0.8zM254.4,250.4h0.8v0.8h-0.8zM268.1,193.4h0.8v0.8h-0.8zM262.4,217.0h0.8v0.8h-0.8zM251.6,255.7h0.8v0.8h-0.8zM247.8,256.4h0.8v0.8h-0.8zM260.6,226.0h0.8v0.8h-0.8zM261.8,216.2h0.8v0.8h-0.8zM266.2,200.0h0.8v0.8h-0.8zM249.2,259.0h0.8v0.8h-0.8zM263.9,207.3h0.8v0.8h-0.8zM267.0,196.3h0.8v0.8h-0.8zM258.0,258.9h0.8v0.8h-0.8zM260.1,224.6h0.8v0.8h-0.8zM252.0,258.9h0.8v0.8h-0.8zM266.5,199.0h0.8v0.8h-0.8zM250.3,258.7h0.8v0.8h-0.8zM245.9,258.8h0.8v0.8h-0.8zM260.0,222.4h0.8v0.8h-0.8zM258.5,244.4h0.8v0.8h-0.8zM260.5,258.1h0.8v0.8h-0.8zM258.5,258.7h0.8v0.8h-0.8zM254.0,258.8h0.8v0.8h-0.8zM251.4,257.8h0.8v0.8h-0.8zM266.8,197.9h0.8v0.8h-0.8zM263.9,256.0h0.8v0.8h-0.8zM254.0,257.8h0.8v0.8h-0.8zM262.2,215.2h0.8v0.8h-0.8zM265.1,258.8h0.8v0.8h-0.8zM251.2,257.8h0.8v0.8h-0.8zM260.3,225.2h0.8v0.8h-0.8zM248.0,256.2h0.8v0.8h-0.8zM257.2,258.9h0.8v0.8h-0.8zM258.3,257.3h0.8v0.8h-0.8zM256.5,254.0h0.8v0.8h-0.8zM266.1,199.8h0.8v0.8h-0.8zM264.2,243.4h0.8v0.8h-0.8zM248.7,258.2h0.8v0.8h-0.8zM264.0,207.6h0.8v0.8h-0.8zM250.0,257.2h0.8v0.8h-0.8zM264.1,228.9h0.8v0.8h-0.8zM264.7,258.0h0.8v0.8h-0.8zM262.8,211.4h0.8v0.8h-0.8zM250.5,252.0h0.8v0.8h-0.8zM264.5,259.0h0.8v0.8h-0.8zM260.3,257.4h0.8v0.8h-0.8zM262.6,257.1h0.8v0.8h-0.8zM256.9,241.8h0.8v0.8h-0.8zM260.2,258.3h0.8v0.8h-0.8zM249.7,258.9h0.8v0.8h-0.8zM264.0,244.4h0.8v0.8h-0.8zM257.0,240.4h0.8v0.8h-0.8zM264.1,206.3h0.8v0.8h-0.8zM250.5,259.0h0.8v0.8h-0.8zM250.1,250.9h0.8v0.8h-0.8zM253.2,258.3h0.8v0.8h-0.8zM254.0,243.5h0.8v0.8h-0.8zM264.3,254.3h0.8v0.8h-0.8zM267.2,196.3h0.8v0.8h-0.8zM261.3,233.7h0.8v0.8h-0.8zM245.5,258.6h0.8v0.8h-0.8zM263.4,259.0h0.8v0.8h-0.8zM264.7,232.8h0.8v0.8h-0.8zM258.1,259.0h0.8v0.8h-0.8zM262.1,249.1h0.8v0.8h-0.8zM266.0,255.6h0.8v0.8h-0.8zM256.4,258.9h0.8v0.8h-0.8zM263.9,229.1h0.8v0.8h-0.8zM262.5,229.1h0.8v0.8h-0.8zM263.4,222.9h0.8v0.8h-0.8zM260.6,254.6h0.8v0.8h-0.8zM263.7,208.7h0.8v0.8h-0.8zM262.8,252.2h0.8v0.8h-0.8zM262.2,213.9h0.8v0.8h-0.8zM258.5,239.6h0.8v0.8h-0.8zM260.9,242.8h0.8v0.8h-0.8zM258.3,258.9h0.8v0.8h-0.8zM267.9,194.1h0.8v0.8h-0.8zM260.0,230.1h0.8v0.8h-0.8zM261.6,229.4h0.8v0.8h-0.8zM263.6,251.2h0.8v0.8h-0.8zM260.5,258.9h0.8v0.8h-0.8zM257.4,259.0h0.8v0.8h-0.8zM253.9,249.2h0.8v0.8h-0.8zM260.6,233.1h0.8v0.8h-0.8zM264.8,240.4h0.8v0.8h-0.8zM245.9,257.1h0.8v0.8h-0.8zM260.1,256.1h0.8v0.8h-0.8zM249.2,258.0h0.8v0.8h-0.8zM263.8,208.0h0.8v0.8h-0.8zM264.5,251.1h0.8v0.8h-0.8zM260.1,255.4h0.8v0.8h-0.8zM254.6,258.0h0.8v0.8h-0.8zM263.2,221.3h0.8v0.8h-0.8zM262.6,211.6h0.8v0.8h-0.8zM257.0,242.8h0.8v0.8h-0.8zM255.6,258.6h0.8v0.8h-0.8zM262.7,217.4h0.8v0.8h-0.8zM264.5,231.8h0.8v0.8h-0.8zM249.9,256.7h0.8v0.8h-0.8zM254.3,250.7h0.8v0.8h-0.8zM254.4,257.8h0.8v0.8h-0.8zM259.8,239.5h0.8v0.8h-0.8zM263.2,255.7h0.8v0.8h-0.8zM267.1,196.0h0.8v0.8h-0.8zM245.1,258.9h0.8v0.8h-0.8zM262.1,212.7h0.8v0.8h-0.8zM261.3,232.0h0.8v0.8h-0.8zM262.3,255.9h0.8v0.8h-0.8zM247.5,259.0h0.8v0.8h-0.8zM249.5,250.5h0.8v0.8h-0.8zM261.1,218.4h0.8v0.8h-0.8zM245.8,258.6h0.8v0.8h-0.8zM259.3,239.2h0.8v0.8h-0.8zM261.7,239.1h0.8v0.8h-0.8zM263.4,221.2h0.8v0.8h-0.8zM257.4,234.4h0.8v0.8h-0.8zM252.9,249.5h0.8v0.8h-0.8zM254.8,259.0h0.8v0.8h-0.8zM257.9,231.5h0.8v0.8h-0.8zM253.5,256.8h0.8v0.8h-0.8zM260.8,233.2h0.8v0.8h-0.8zM262.9,240.4h0.8v0.8h-0.8zM262.7,253.2h0.8v0.8h-0.8zM263.5,207.9h0.8v0.8h-0.8zM265.0,204.0h0.8v0.8h-0.8zM254.7,258.7h0.8v0.8h-0.8zM264.6,239.5h0.8v0.8h-0.8zM258.7,253.8h0.8v0.8h-0.8zM262.8,211.8h0.8v0.8h-0.8zM265.4,202.1h0.8v0.8h-0.8zM256.8,237.4h0.8v0.8h-0.8zM263.4,230.7h0.8v0.8h-0.8zM262.5,238.2h0.8v0.8h-0.8zM263.8,257.8h0.8v0.8h-0.8zM267.3,196.3h0.8v0.8h-0.8zM263.2,245.9h0.8v0.8h-0.8zM264.4,255.6h0.8v0.8h-0.8zM261.8,215.0h0.8v0.8h-0.8zM254.3,258.9h0.8v0.8h-0.8zM262.9,245.0h0.8v0.8h-0.8zM250.3,248.8h0.8v0.8h-0.8zM259.8,220.9h0.8v0.8h-0.8zM260.1,222.1h0.8v0.8h-0.8zM262.3,255.2h0.8v0.8h-0.8zM248.2,258.6h0.8v0.8h-0.8zM262.1,247.2h0.8v0.8h-0.8zM262.3,217.1h0.8v0.8h-0.8zM265.5,201.9h0.8v0.8h-0.8zM265.4,201.4h0.8v0.8h-0.8zM256.7,257.7h0.8v0.8h-0.8zM261.0,256.4h0.8v0.8h-0.8zM260.3,238.4h0.8v0.8h-0.8zM262.1,216.6h0.8v0.8h-0.8zM254.6,255.8h0.8v0.8h-0.8zM262.7,216.4h0.8v0.8h-0.8zM262.9,257.9h0.8v0.8h-0.8zM266.5,198.3h0.8v0.8h-0.8zM255.1,243.5h0.8v0.8h-0.8zM259.0,246.0h0.8v0.8h-0.8zM253.2,241.1h0.8v0.8h-0.8zM266.6,198.1h0.8v0.8h-0.8zM262.9,252.9h0.8v0.8h-0.8zM259.1,244.2h0.8v0.8h-0.8zM256.1,233.8h0.8v0.8h-0.8zM257.7,245.8h0.8v0.8h-0.8zM266.2,200.1h0.8v0.8h-0.8zM256.0,256.8h0.8v0.8h-0.8zM254.3,258.7h0.8v0.8h-0.8zM263.1,220.1h0.8v0.8h-0.8zM255.4,249.4h0.8v0.8h-0.8zM258.3,258.1h0.8v0.8h-0.8zM264.3,205.1h0.8v0.8h-0.8zM258.6,224.5h0.8v0.8h-0.8zM250.4,258.1h0.8v0.8h-0.8zM258.8,234.1h0.8v0.8h-0.8zM259.4,254.5h0.8v0.8h-0.8zM260.1,258.8h0.8v0.8h-0.8zM255.8,258.7h0.8v0.8h-0.8zM250.2,257.2h0.8v0.8h-0.8zM258.0,246.3h0.8v0.8h-0.8zM255.8,253.8h0.8v0.8h-0.8zM253.6,246.4h0.8v0.8h-0.8zM258.7,257.9h0.8v0.8h-0.8zM260.4,238.4h0.8v0.8h-0.8zM262.2,215.6h0.8v0.8h-0.8zM261.7,214.8h0.8v0.8h-0.8zM263.2,228.8h0.8v0.8h-0.8zM263.5,208.4h0.8v0.8h-0.8zM264.7,255.7h0.8v0.8h-0.8zM265.7,257.7h0.8v0.8h-0.8zM262.7,210.6h0.8v0.8h-0.8zM260.7,257.4h0.8v0.8h-0.8zM248.1,257.0h0.8v0.8h-0.8zM261.6,218.1h0.8v0.8h-0.8zM259.5,223.2h0.8v0.8h-0.8zM260.9,252.8h0.8v0.8h-0.8zM249.0,259.0h0.8v0.8h-0.8zM264.4,234.6h0.8v0.8h-0.8zM266.3,198.3h0.8v0.8h-0.8zM262.6,247.8h0.8v0.8h-0.8zM261.5,248.0h0.8v0.8h-0.8zM246.8,258.1h0.8v0.8h-0.8zM245.4,258.8h0.8v0.8h-0.8zM259.4,244.9h0.8v0.8h-0.8zM254.2,243.8h0.8v0.8h-0.8zM249.8,258.2h0.8v0.8h-0.8zM262.9,217.0h0.8v0.8h-0.8zM264.4,204.8h0.8v0.8h-0.8zM264.3,259.0h0.8v0.8h-0.8zM262.5,250.1h0.8v0.8h-0.8zM256.4,255.4h0.8v0.8h-0.8zM257.7,247.2h0.8v0.8h-0.8zM252.8,241.4h0.8v0.8h-0.8zM263.7,232.8h0.8v0.8h-0.8zM255.0,258.2h0.8v0.8h-0.8zM260.3,228.9h0.8v0.8h-0.8zM249.0,258.1h0.8v0.8h-0.8zM250.6,247.4h0.8v0.8h-0.8zM263.4,209.8h0.8v0.8h-0.8zM263.8,232.4h0.8v0.8h-0.8zM258.8,239.2h0.8v0.8h-0.8zM259.7,241.5h0.8v0.8h-0.8zM267.3,195.9h0.8v0.8h-0.8zM264.2,257.0h0.8v0.8h-0.8zM263.0,228.4h0.8v0.8h-0.8zM261.4,220.3h0.8v0.8h-0.8zM263.5,209.3h0.8v0.8h-0.8zM263.0,233.4h0.8v0.8h-0.8zM260.7,226.1h0.8v0.8h-0.8zM257.1,230.6h0.8v0.8h-0.8zM256.5,255.0h0.8v0.8h-0.8zM252.3,259.0h0.8v0.8h-0.8zM261.4,238.4h0.8v0.8h-0.8zM264.7,257.5h0.8v0.8h-0.8zM258.6,236.1h0.8v0.8h-0.8zM261.0,236.6h0.8v0.8h-0.8zM257.3,246.1h0.8v0.8h-0.8zM268.1,193.0h0.8v0.8h-0.8zM262.9,232.8h0.8v0.8h-0.8zM266.7,196.4h0.8v0.8h-0.8zM262.7,240.3h0.8v0.8h-0.8zM254.5,257.1h0.8v0.8h-0.8zM248.9,259.0h0.8v0.8h-0.8zM249.7,253.8h0.8v0.8h-0.8zM264.1,257.2h0.8v0.8h-0.8zM259.2,245.0h0.8v0.8h-0.8zM266.5,198.5h0.8v0.8h-0.8zM267.8,193.8h0.8v0.8h-0.8zM259.9,220.9h0.8v0.8h-0.8zM262.9,241.7h0.8v0.8h-0.8zM263.9,259.0h0.8v0.8h-0.8zM255.2,258.4h0.8v0.8h-0.8zM255.8,258.4h0.8v0.8h-0.8zM253.8,240.7h0.8v0.8h-0.8zM265.4,202.0h0.8v0.8h-0.8zM260.3,246.5h0.8v0.8h-0.8zM253.3,254.2h0.8v0.8h-0.8zM260.8,237.0h0.8v0.8h-0.8zM260.7,256.5h0.8v0.8h-0.8zM246.5,256.2h0.8v0.8h-0.8zM246.6,257.3h0.8v0.8h-0.8zM260.8,258.5h0.8v0.8h-0.8zM264.5,253.3h0.8v0.8h-0.8zM257.7,227.9h0.8v0.8h-0.8zM267.7,194.9h0.8v0.8h-0.8zM263.4,258.9h0.8v0.8h-0.8zM257.5,251.7h0.8v0.8h-0.8zM266.6,197.5h0.8v0.8h-0.8zM265.2,246.7h0.8v0.8h-0.8zM260.6,230.6h0.8v0.8h-0.8zM267.2,196.6h0.8v0.8h-0.8zM254.5,241.2h0.8v0.8h-0.8zM259.3,239.6h0.8v0.8h-0.8zM246.4,257.9h0.8v0.8h-0.8zM253.0,246.5h0.8v0.8h-0.8zM260.9,251.1h0.8v0.8h-0.8zM254.1,250.5h0.8v0.8h-0.8zM258.4,242.8h0.8v0.8h-0.8zM261.5,224.6h0.8v0.8h-0.8zM268.1,193.4h0.8v0.8h-0.8zM258.9,229.4h0.8v0.8h-0.8zM263.3,258.8h0.8v0.8h-0.8zM262.1,223.9h0.8v0.8h-0.8zM253.0,254.4h0.8v0.8h-0.8zM261.1,234.3h0.8v0.8h-0.8zM261.3,242.1h0.8v0.8h-0.8zM259.0,227.4h0.8v0.8h-0.8zM265.4,257.2h0.8v0.8h-0.8zM264.4,206.5h0.8v0.8h-0.8zM245.7,259.0h0.8v0.8h-0.8zM255.1,256.8h0.8v0.8h-0.8zM254.8,239.7h0.8v0.8h-0.8zM252.4,245.6h0.8v0.8h-0.8zM259.0,258.9h0.8v0.8h-0.8zM261.0,245.0h0.8v0.8h-0.8zM257.0,253.9h0.8v0.8h-0.8zM252.9,257.8h0.8v0.8h-0.8zM263.4,228.3h0.8v0.8h-0.8zM247.3,258.9h0.8v0.8h-0.8zM262.1,220.9h0.8v0.8h-0.8zM259.5,225.7h0.8v0.8h-0.8zM253.6,251.9h0.8v0.8h-0.8zM261.1,220.9h0.8v0.8h-0.8zM265.3,237.1h0.8v0.8h-0.8zM257.9,255.4h0.8v0.8h-0.8zM263.9,228.2h0.8v0.8h-0.8zM255.6,251.7h0.8v0.8h-0.8zM262.9,258.8h0.8v0.8h-0.8zM246.4,258.9h0.8v0.8h-0.8zM259.1,244.1h0.8v0.8h-0.8zM258.5,234.3h0.8v0.8h-0.8zM258.8,224.9h0.8v0.8h-0.8zM259.3,257.8h0.8v0.8h-0.8zM251.4,258.9h0.8v0.8h-0.8zM262.4,230.4h0.8v0.8h-0.8zM249.4,256.5h0.8v0.8h-0.8zM261.3,254.4h0.8v0.8h-0.8zM249.9,254.1h0.8v0.8h-0.8zM261.3,232.0h0.8v0.8h-0.8zM264.5,206.1h0.8v0.8h-0.8zM264.0,206.9h0.8v0.8h-0.8zM260.8,221.7h0.8v0.8h-0.8zM255.0,255.7h0.8v0.8h-0.8zM265.2,203.6h0.8v0.8h-0.8zM253.6,257.2h0.8v0.8h-0.8zM254.8,254.2h0.8v0.8h-0.8zM255.6,253.1h0.8v0.8h-0.8zM257.3,258.1h0.8v0.8h-0.8zM261.7,222.4h0.8v0.8h-0.8zM262.0,217.5h0.8v0.8h-0.8zM261.0,258.3h0.8v0.8h-0.8zM262.5,211.5h0.8v0.8h-0.8zM255.7,259.0h0.8v0.8h-0.8zM260.0,245.4h0.8v0.8h-0.8zM266.5,198.6h0.8v0.8h-0.8zM259.7,221.5h0.8v0.8h-0.8zM263.2,245.3h0.8v0.8h-0.8zM246.4,258.9h0.8v0.8h-0.8zM263.9,229.1h0.8v0.8h-0.8zM258.2,258.9h0.8v0.8h-0.8zM260.6,258.6h0.8v0.8h-0.8zM257.2,237.6h0.8v0.8h-0.8zM261.3,257.7h0.8v0.8h-0.8zM262.8,246.9h0.8v0.8h-0.8zM254.6,253.1h0.8v0.8h-0.8zM266.6,198.3h0.8v0.8h-0.8zM259.1,248.5h0.8v0.8h-0.8zM262.5,230.8h0.8v0.8h-0.8zM264.1,206.6h0.8v0.8h-0.8zM262.3,218.8h0.8v0.8h-0.8zM262.4,215.3h0.8v0.8h-0.8zM262.8,217.9h0.8v0.8h-0.8zM266.1,200.0h0.8v0.8h-0.8zM262.0,246.7h0.8v0.8h-0.8zM261.2,221.8h0.8v0.8h-0.8zM251.4,252.1h0.8v0.8h-0.8zM264.5,228.7h0.8v0.8h-0.8zM251.1,253.8h0.8v0.8h-0.8zM254.6,257.9h0.8v0.8h-0.8zM265.4,256.3h0.8v0.8h-0.8zM251.4,259.0h0.8v0.8h-0.8zM258.6,258.8h0.8v0.8h-0.8zM259.5,224.9h0.8v0.8h-0.8zM266.5,191.0h0.9v0.9h-0.9zM268.0,188.6h0.9v0.9h-0.9zM266.9,205.0h0.9v0.9h-0.9zM267.6,232.0h0.9v0.9h-0.9zM267.1,239.0h0.9v0.9h-0.9zM266.9,245.0h0.9v0.9h-0.9z" fill="#e01f40" fill-opacity="0.85"/>
<path d="M214.5,258.7h0.8v0.8h-0.8zM203.6,245.4h0.8v0.8h-0.8zM220.7,258.9h0.8v0.8h-0.8zM217.4,257.1h0.8v0.8h-0.8zM208.4,256.1h0.8v0.8h-0.8zM211.0,244.9h0.8v0.8h-0.8zM216.4,257.1h0.8v0.8h-0.8zM208.1,257.3h0.8v0.8h-0.8zM210.6,254.3h0.8v0.8h-0.8zM205.5,234.9h0.8v0.8h-0.8zM205.2,255.5h0.8v0.8h-0.8zM204.5,229.8h0.8v0.8h-0.8zM203.1,246.8h0.8v0.8h-0.8zM213.0,249.1h0.8v0.8h-0.8zM205.2,258.8h0.8v0.8h-0.8zM206.2,235.7h0.8v0.8h-0.8zM208.7,247.5h0.8v0.8h-0.8zM203.4,255.2h0.8v0.8h-0.8zM209.7,242.3h0.8v0.8h-0.8zM214.5,259.0h0.8v0.8h-0.8zM206.1,252.7h0.8v0.8h-0.8zM205.9,239.9h0.8v0.8h-0.8zM218.7,257.5h0.8v0.8h-0.8zM215.0,254.1h0.8v0.8h-0.8zM204.7,232.2h0.8v0.8h-0.8zM202.6,243.2h0.8v0.8h-0.8zM211.3,255.4h0.8v0.8h-0.8zM208.0,257.6h0.8v0.8h-0.8zM207.9,259.0h0.8v0.8h-0.8zM203.7,233.4h0.8v0.8h-0.8zM217.7,258.5h0.8v0.8h-0.8zM209.6,239.7h0.8v0.8h-0.8zM209.9,249.2h0.8v0.8h-0.8zM203.6,227.5h0.8v0.8h-0.8zM205.7,232.8h0.8v0.8h-0.8zM206.2,236.3h0.8v0.8h-0.8zM205.0,229.7h0.8v0.8h-0.8zM206.6,234.4h0.8v0.8h-0.8zM208.4,246.9h0.8v0.8h-0.8zM206.8,257.5h0.8v0.8h-0.8zM214.3,254.3h0.8v0.8h-0.8zM217.1,258.6h0.8v0.8h-0.8zM206.7,249.7h0.8v0.8h-0.8zM207.9,253.0h0.8v0.8h-0.8zM215.3,258.3h0.8v0.8h-0.8zM203.2,249.9h0.8v0.8h-0.8zM204.5,234.2h0.8v0.8h-0.8zM216.3,259.0h0.8v0.8h-0.8zM208.7,240.0h0.8v0.8h-0.8zM209.0,246.2h0.8v0.8h-0.8zM204.5,259.0h0.8v0.8h-0.8zM207.2,235.8h0.8v0.8h-0.8zM210.0,244.1h0.8v0.8h-0.8zM210.1,252.6h0.8v0.8h-0.8zM214.1,254.7h0.8v0.8h-0.8zM208.0,252.1h0.8v0.8h-0.8zM216.8,255.6h0.8v0.8h-0.8zM207.7,239.0h0.8v0.8h-0.8zM203.7,228.1h0.8v0.8h-0.8zM207.8,239.4h0.8v0.8h-0.8zM207.1,234.4h0.8v0.8h-0.8zM219.9,257.8h0.8v0.8h-0.8zM205.3,241.5h0.8v0.8h-0.8zM214.4,257.2h0.8v0.8h-0.8zM204.7,233.9h0.8v0.8h-0.8zM218.3,258.4h0.8v0.8h-0.8zM219.3,257.5h0.8v0.8h-0.8zM216.1,251.6h0.8v0.8h-0.8zM204.3,229.5h0.8v0.8h-0.8zM207.2,248.1h0.8v0.8h-0.8zM203.9,237.3h0.8v0.8h-0.8zM213.0,252.3h0.8v0.8h-0.8zM216.7,251.5h0.8v0.8h-0.8zM207.4,251.8h0.8v0.8h-0.8zM202.7,226.0h0.8v0.8h-0.8zM206.3,242.2h0.8v0.8h-0.8zM217.1,259.0h0.8v0.8h-0.8zM208.7,253.5h0.8v0.8h-0.8zM215.6,258.2h0.8v0.8h-0.8zM205.4,248.2h0.8v0.8h-0.8zM204.8,234.5h0.8v0.8h-0.8zM208.1,257.5h0.8v0.8h-0.8zM204.2,230.4h0.8v0.8h-0.8zM210.9,253.2h0.8v0.8h-0.8zM209.2,257.8h0.8v0.8h-0.8zM202.8,225.8h0.8v0.8h-0.8zM204.0,239.8h0.8v0.8h-0.8zM204.5,256.8h0.8v0.8h-0.8zM210.6,243.6h0.8v0.8h-0.8zM218.1,258.5h0.8v0.8h-0.8zM206.1,245.7h0.8v0.8h-0.8zM204.2,253.9h0.8v0.8h-0.8zM211.4,253.0h0.8v0.8h-0.8zM204.3,258.0h0.8v0.8h-0.8zM205.6,257.9h0.8v0.8h-0.8zM208.0,246.9h0.8v0.8h-0.8zM211.2,246.3h0.8v0.8h-0.8zM203.1,230.1h0.8v0.8h-0.8zM204.9,234.9h0.8v0.8h-0.8zM207.2,258.0h0.8v0.8h-0.8zM204.9,254.9h0.8v0.8h-0.8zM210.9,256.0h0.8v0.8h-0.8zM206.6,234.2h0.8v0.8h-0.8zM213.3,246.8h0.8v0.8h-0.8zM219.6,258.9h0.8v0.8h-0.8zM202.5,225.7h0.8v0.8h-0.8zM209.1,242.3h0.8v0.8h-0.8zM205.0,241.7h0.8v0.8h-0.8zM209.2,252.4h0.8v0.8h-0.8zM208.0,235.5h0.8v0.8h-0.8zM213.1,256.8h0.8v0.8h-0.8zM215.1,257.8h0.8v0.8h-0.8zM211.9,245.9h0.8v0.8h-0.8zM211.8,247.8h0.8v0.8h-0.8zM210.3,246.0h0.8v0.8h-0.8zM211.7,243.0h0.8v0.8h-0.8zM210.2,241.7h0.8v0.8h-0.8zM203.5,227.3h0.8v0.8h-0.8zM210.8,249.6h0.8v0.8h-0.8zM205.8,243.8h0.8v0.8h-0.8zM204.4,237.8h0.8v0.8h-0.8zM202.7,249.0h0.8v0.8h-0.8zM203.5,233.8h0.8v0.8h-0.8zM211.2,251.6h0.8v0.8h-0.8zM203.7,246.1h0.8v0.8h-0.8zM208.6,247.6h0.8v0.8h-0.8zM204.2,250.8h0.8v0.8h-0.8zM217.8,254.1h0.8v0.8h-0.8zM203.4,239.3h0.8v0.8h-0.8zM205.7,239.0h0.8v0.8h-0.8zM207.5,238.1h0.8v0.8h-0.8zM212.5,245.0h0.8v0.8h-0.8zM214.2,258.0h0.8v0.8h-0.8zM210.5,248.4h0.8v0.8h-0.8zM210.1,258.8h0.8v0.8h-0.8zM212.0,247.6h0.8v0.8h-0.8zM213.1,254.5h0.8v0.8h-0.8zM219.0,256.1h0.8v0.8h-0.8zM203.2,230.0h0.8v0.8h-0.8zM203.9,242.0h0.8v0.8h-0.8zM205.7,251.2h0.8v0.8h-0.8zM208.0,256.4h0.8v0.8h-0.8zM203.7,246.0h0.8v0.8h-0.8zM208.0,258.3h0.8v0.8h-0.8zM212.5,258.0h0.8v0.8h-0.8zM204.2,227.8h0.8v0.8h-0.8zM215.4,255.9h0.8v0.8h-0.8zM217.7,254.0h0.8v0.8h-0.8zM203.6,230.8h0.8v0.8h-0.8zM212.5,251.9h0.8v0.8h-0.8zM212.8,245.3h0.8v0.8h-0.8zM206.3,258.9h0.8v0.8h-0.8zM211.4,254.4h0.8v0.8h-0.8zM203.2,228.7h0.8v0.8h-0.8zM213.3,249.5h0.8v0.8h-0.8zM204.5,254.7h0.8v0.8h-0.8zM205.2,230.7h0.8v0.8h-0.8zM205.8,233.8h0.8v0.8h-0.8zM213.7,249.5h0.8v0.8h-0.8zM203.0,231.7h0.8v0.8h-0.8zM210.2,256.8h0.8v0.8h-0.8zM205.7,257.0h0.8v0.8h-0.8zM220.7,258.8h0.8v0.8h-0.8zM207.9,239.3h0.8v0.8h-0.8zM203.4,230.6h0.8v0.8h-0.8zM209.4,239.9h0.8v0.8h-0.8zM203.2,240.6h0.8v0.8h-0.8zM215.3,250.4h0.8v0.8h-0.8zM215.5,256.3h0.8v0.8h-0.8zM209.0,240.0h0.8v0.8h-0.8zM217.2,257.1h0.8v0.8h-0.8zM204.6,242.0h0.8v0.8h-0.8zM208.2,252.7h0.8v0.8h-0.8zM204.3,231.4h0.8v0.8h-0.8zM215.5,256.2h0.8v0.8h-0.8zM203.7,229.1h0.8v0.8h-0.8zM209.4,255.2h0.8v0.8h-0.8zM204.3,258.4h0.8v0.8h-0.8zM209.5,250.6h0.8v0.8h-0.8zM214.0,247.4h0.8v0.8h-0.8zM210.3,244.7h0.8v0.8h-0.8zM206.8,255.8h0.8v0.8h-0.8zM217.4,258.5h0.8v0.8h-0.8zM207.8,237.9h0.8v0.8h-0.8zM210.9,255.1h0.8v0.8h-0.8zM205.5,257.0h0.8v0.8h-0.8zM203.2,225.7h0.8v0.8h-0.8zM206.2,249.9h0.8v0.8h-0.8zM204.0,252.3h0.8v0.8h-0.8zM213.2,248.5h0.8v0.8h-0.8zM206.9,246.5h0.8v0.8h-0.8zM208.4,253.0h0.8v0.8h-0.8zM205.7,236.6h0.8v0.8h-0.8zM204.7,248.3h0.8v0.8h-0.8zM206.9,241.2h0.8v0.8h-0.8zM204.0,227.8h0.8v0.8h-0.8zM207.8,236.7h0.8v0.8h-0.8zM210.6,244.4h0.8v0.8h-0.8zM206.1,250.6h0.8v0.8h-0.8zM204.0,236.4h0.8v0.8h-0.8zM212.3,256.1h0.8v0.8h-0.8zM210.9,256.4h0.8v0.8h-0.8zM214.7,248.6h0.8v0.8h-0.8zM205.8,244.9h0.8v0.8h-0.8zM204.1,245.8h0.8v0.8h-0.8zM218.5,257.2h0.8v0.8h-0.8zM214.0,259.0h0.8v0.8h-0.8zM210.8,250.8h0.8v0.8h-0.8zM206.8,255.5h0.8v0.8h-0.8zM205.9,258.6h0.8v0.8h-0.8zM207.9,246.0h0.8v0.8h-0.8zM207.2,236.1h0.8v0.8h-0.8zM216.3,257.7h0.8v0.8h-0.8zM217.2,258.8h0.8v0.8h-0.8zM207.5,243.9h0.8v0.8h-0.8zM210.4,255.5h0.8v0.8h-0.8zM207.5,258.4h0.8v0.8h-0.8zM217.0,257.3h0.8v0.8h-0.8zM209.4,257.5h0.8v0.8h-0.8zM203.9,234.2h0.8v0.8h-0.8zM215.3,258.7h0.8v0.8h-0.8zM214.9,252.9h0.8v0.8h-0.8zM203.7,226.7h0.8v0.8h-0.8zM205.9,248.9h0.8v0.8h-0.8zM203.2,225.8h0.8v0.8h-0.8zM206.4,250.1h0.8v0.8h-0.8zM218.5,258.9h0.8v0.8h-0.8zM205.5,231.1h0.8v0.8h-0.8zM213.4,252.1h0.8v0.8h-0.8zM215.7,251.1h0.8v0.8h-0.8zM204.3,258.9h0.8v0.8h-0.8zM204.5,237.5h0.8v0.8h-0.8zM216.3,256.2h0.8v0.8h-0.8zM211.5,246.6h0.8v0.8h-0.8zM203.7,249.9h0.8v0.8h-0.8zM213.2,252.9h0.8v0.8h-0.8zM202.9,226.1h0.8v0.8h-0.8zM215.6,258.9h0.8v0.8h-0.8zM211.3,242.7h0.8v0.8h-0.8zM208.0,253.5h0.8v0.8h-0.8zM204.5,232.5h0.8v0.8h-0.8zM204.7,231.3h0.8v0.8h-0.8zM205.3,252.1h0.8v0.8h-0.8zM206.3,252.4h0.8v0.8h-0.8zM214.9,256.5h0.8v0.8h-0.8zM211.8,257.1h0.8v0.8h-0.8zM217.9,257.4h0.8v0.8h-0.8zM212.9,256.5h0.8v0.8h-0.8zM212.2,254.4h0.8v0.8h-0.8zM202.5,225.4h0.8v0.8h-0.8zM205.9,232.5h0.8v0.8h-0.8zM216.5,252.3h0.8v0.8h-0.8zM208.1,240.8h0.8v0.8h-0.8zM219.1,255.2h0.8v0.8h-0.8zM216.7,257.1h0.8v0.8h-0.8zM204.0,252.1h0.8v0.8h-0.8zM208.4,239.8h0.8v0.8h-0.8zM215.9,253.0h0.8v0.8h-0.8zM204.1,228.6h0.8v0.8h-0.8zM204.6,237.4h0.8v0.8h-0.8zM203.4,214.2h0.9v0.9h-0.9zM206.6,221.7h0.9v0.9h-0.9zM206.2,225.6h0.9v0.9h-0.9zM207.3,226.0h0.9v0.9h-0.9zM205.4,228.2h0.9v0.9h-0.9zM208.5,232.0h0.9v0.9h-0.9zM207.0,234.5h0.9v0.9h-0.9zM209.6,236.0h0.9v0.9h-0.9z" fill="#1c2090" fill-opacity="0.8"/>
<line x1="222.00" y1="188.00" x2="222.00" y2="263.00" stroke="#555" stroke-width="0.6" stroke-dasharray="0.8,1.2"/>
<line x1="244.00" y1="188.00" x2="244.00" y2="263.00" stroke="#555" stroke-width="0.6" stroke-dasharray="0.8,1.2"/>
<line x1="199.00" y1="258.90" x2="273.00" y2="258.90" stroke="#555" stroke-width="0.6" stroke-dasharray="0.8,1.2"/>
<text x="345.90" y="193.40" font-size="10.8" font-weight="bold" fill="#000">f</text>
<text x="377.50" y="189.00" font-size="8.6" fill="#1a1a1a">eGene of introgression</text>
<line x1="476.20" y1="180.10" x2="484.40" y2="180.10" stroke="#a3308f" stroke-width="0.8"/>
<circle cx="480.30" cy="180.10" r="1.30" fill="#a3308f"/>
<text x="488.40" y="183.20" font-size="8.7" fill="#1a1a1a">Rye(1R)</text>
<line x1="476.20" y1="190.20" x2="484.40" y2="190.20" stroke="#dfaedd" stroke-width="0.8"/>
<circle cx="480.30" cy="190.20" r="1.30" fill="#dfaedd"/>
<text x="488.40" y="193.30" font-size="8.7" fill="#1a1a1a">Renan(2D)</text>
<line x1="548.60" y1="180.10" x2="556.80" y2="180.10" stroke="#a55a34" stroke-width="0.8"/>
<circle cx="552.70" cy="180.10" r="1.30" fill="#a55a34"/>
<text x="560.3" y="183.20" font-size="8.7" fill="#1a1a1a"><tspan font-style="italic">Th. elongatum</tspan>(3E)</text>
<line x1="548.60" y1="190.20" x2="556.80" y2="190.20" stroke="#e6bca6" stroke-width="0.8"/>
<circle cx="552.70" cy="190.20" r="1.30" fill="#e6bca6"/>
<text x="560.3" y="193.30" font-size="8.7" fill="#1a1a1a"><tspan font-style="italic">T. timopheevii</tspan>(5G)</text>
<line x1="377.30" y1="253.90" x2="676.60" y2="253.90" stroke="#ececec" stroke-width="0.7"/>
<line x1="377.30" y1="247.62" x2="676.60" y2="247.62" stroke="#f5f5f5" stroke-width="0.5"/>
<line x1="377.30" y1="241.35" x2="676.60" y2="241.35" stroke="#ececec" stroke-width="0.7"/>
<line x1="377.30" y1="235.07" x2="676.60" y2="235.07" stroke="#f5f5f5" stroke-width="0.5"/>
<line x1="377.30" y1="228.80" x2="676.60" y2="228.80" stroke="#ececec" stroke-width="0.7"/>
<line x1="377.30" y1="222.53" x2="676.60" y2="222.53" stroke="#f5f5f5" stroke-width="0.5"/>
<line x1="377.30" y1="216.25" x2="676.60" y2="216.25" stroke="#ececec" stroke-width="0.7"/>
<line x1="377.30" y1="209.97" x2="676.60" y2="209.97" stroke="#f5f5f5" stroke-width="0.5"/>
<line x1="377.30" y1="203.70" x2="676.60" y2="203.70" stroke="#ececec" stroke-width="0.7"/>
<line x1="385.70" y1="195.60" x2="385.70" y2="256.00" stroke="#ececec" stroke-width="0.7"/>
<line x1="399.83" y1="195.60" x2="399.83" y2="256.00" stroke="#ececec" stroke-width="0.7"/>
<line x1="413.97" y1="195.60" x2="413.97" y2="256.00" stroke="#ececec" stroke-width="0.7"/>
<line x1="428.11" y1="195.60" x2="428.11" y2="256.00" stroke="#ececec" stroke-width="0.7"/>
<line x1="442.24" y1="195.60" x2="442.24" y2="256.00" stroke="#ececec" stroke-width="0.7"/>
<line x1="456.38" y1="195.60" x2="456.38" y2="256.00" stroke="#ececec" stroke-width="0.7"/>
<line x1="470.51" y1="195.60" x2="470.51" y2="256.00" stroke="#ececec" stroke-width="0.7"/>
<line x1="484.64" y1="195.60" x2="484.64" y2="256.00" stroke="#ececec" stroke-width="0.7"/>
<line x1="498.78" y1="195.60" x2="498.78" y2="256.00" stroke="#ececec" stroke-width="0.7"/>
<line x1="512.91" y1="195.60" x2="512.91" y2="256.00" stroke="#ececec" stroke-width="0.7"/>
<line x1="527.05" y1="195.60" x2="527.05" y2="256.00" stroke="#ececec" stroke-width="0.7"/>
<line x1="541.18" y1="195.60" x2="541.18" y2="256.00" stroke="#ececec" stroke-width="0.7"/>
<line x1="555.32" y1="195.60" x2="555.32" y2="256.00" stroke="#ececec" stroke-width="0.7"/>
<line x1="569.45" y1="195.60" x2="569.45" y2="256.00" stroke="#ececec" stroke-width="0.7"/>
<line x1="583.59" y1="195.60" x2="583.59" y2="256.00" stroke="#ececec" stroke-width="0.7"/>
<line x1="597.73" y1="195.60" x2="597.73" y2="256.00" stroke="#ececec" stroke-width="0.7"/>
<line x1="611.86" y1="195.60" x2="611.86" y2="256.00" stroke="#ececec" stroke-width="0.7"/>
<line x1="626.00" y1="195.60" x2="626.00" y2="256.00" stroke="#ececec" stroke-width="0.7"/>
<line x1="640.13" y1="195.60" x2="640.13" y2="256.00" stroke="#ececec" stroke-width="0.7"/>
<line x1="654.26" y1="195.60" x2="654.26" y2="256.00" stroke="#ececec" stroke-width="0.7"/>
<line x1="668.40" y1="195.60" x2="668.40" y2="256.00" stroke="#ececec" stroke-width="0.7"/>
<line x1="377.30" y1="270.00" x2="676.60" y2="270.00" stroke="#ececec" stroke-width="0.7"/>
<line x1="377.30" y1="279.56" x2="676.60" y2="279.56" stroke="#f5f5f5" stroke-width="0.5"/>
<line x1="377.30" y1="289.13" x2="676.60" y2="289.13" stroke="#ececec" stroke-width="0.7"/>
<line x1="377.30" y1="298.69" x2="676.60" y2="298.69" stroke="#f5f5f5" stroke-width="0.5"/>
<line x1="377.30" y1="308.26" x2="676.60" y2="308.26" stroke="#ececec" stroke-width="0.7"/>
<line x1="377.30" y1="317.82" x2="676.60" y2="317.82" stroke="#f5f5f5" stroke-width="0.5"/>
<line x1="377.30" y1="327.39" x2="676.60" y2="327.39" stroke="#ececec" stroke-width="0.7"/>
<line x1="385.70" y1="267.30" x2="385.70" y2="328.40" stroke="#ececec" stroke-width="0.7"/>
<line x1="399.83" y1="267.30" x2="399.83" y2="328.40" stroke="#ececec" stroke-width="0.7"/>
<line x1="413.97" y1="267.30" x2="413.97" y2="328.40" stroke="#ececec" stroke-width="0.7"/>
<line x1="428.11" y1="267.30" x2="428.11" y2="328.40" stroke="#ececec" stroke-width="0.7"/>
<line x1="442.24" y1="267.30" x2="442.24" y2="328.40" stroke="#ececec" stroke-width="0.7"/>
<line x1="456.38" y1="267.30" x2="456.38" y2="328.40" stroke="#ececec" stroke-width="0.7"/>
<line x1="470.51" y1="267.30" x2="470.51" y2="328.40" stroke="#ececec" stroke-width="0.7"/>
<line x1="484.64" y1="267.30" x2="484.64" y2="328.40" stroke="#ececec" stroke-width="0.7"/>
<line x1="498.78" y1="267.30" x2="498.78" y2="328.40" stroke="#ececec" stroke-width="0.7"/>
<line x1="512.91" y1="267.30" x2="512.91" y2="328.40" stroke="#ececec" stroke-width="0.7"/>
<line x1="527.05" y1="267.30" x2="527.05" y2="328.40" stroke="#ececec" stroke-width="0.7"/>
<line x1="541.18" y1="267.30" x2="541.18" y2="328.40" stroke="#ececec" stroke-width="0.7"/>
<line x1="555.32" y1="267.30" x2="555.32" y2="328.40" stroke="#ececec" stroke-width="0.7"/>
<line x1="569.45" y1="267.30" x2="569.45" y2="328.40" stroke="#ececec" stroke-width="0.7"/>
<line x1="583.59" y1="267.30" x2="583.59" y2="328.40" stroke="#ececec" stroke-width="0.7"/>
<line x1="597.73" y1="267.30" x2="597.73" y2="328.40" stroke="#ececec" stroke-width="0.7"/>
<line x1="611.86" y1="267.30" x2="611.86" y2="328.40" stroke="#ececec" stroke-width="0.7"/>
<line x1="626.00" y1="267.30" x2="626.00" y2="328.40" stroke="#ececec" stroke-width="0.7"/>
<line x1="640.13" y1="267.30" x2="640.13" y2="328.40" stroke="#ececec" stroke-width="0.7"/>
<line x1="654.26" y1="267.30" x2="654.26" y2="328.40" stroke="#ececec" stroke-width="0.7"/>
<line x1="668.40" y1="267.30" x2="668.40" y2="328.40" stroke="#ececec" stroke-width="0.7"/>
<line x1="375.00" y1="253.90" x2="377.30" y2="253.90" stroke="#333" stroke-width="0.7"/>
<text x="373.60" y="256.80" font-size="8.0" text-anchor="end" fill="#333">0</text>
<line x1="375.00" y1="241.35" x2="377.30" y2="241.35" stroke="#333" stroke-width="0.7"/>
<text x="373.60" y="244.25" font-size="8.0" text-anchor="end" fill="#333">5k</text>
<line x1="375.00" y1="228.80" x2="377.30" y2="228.80" stroke="#333" stroke-width="0.7"/>
<text x="373.60" y="231.70" font-size="8.0" text-anchor="end" fill="#333">10k</text>
<line x1="375.00" y1="216.25" x2="377.30" y2="216.25" stroke="#333" stroke-width="0.7"/>
<text x="373.60" y="219.15" font-size="8.0" text-anchor="end" fill="#333">15k</text>
<line x1="375.00" y1="203.70" x2="377.30" y2="203.70" stroke="#333" stroke-width="0.7"/>
<text x="373.60" y="206.60" font-size="8.0" text-anchor="end" fill="#333">20k</text>
<line x1="375.00" y1="270.00" x2="377.30" y2="270.00" stroke="#333" stroke-width="0.7"/>
<text x="373.60" y="272.90" font-size="8.0" text-anchor="end" fill="#333">0</text>
<line x1="375.00" y1="289.13" x2="377.30" y2="289.13" stroke="#333" stroke-width="0.7"/>
<text x="373.60" y="292.03" font-size="8.0" text-anchor="end" fill="#333">1k</text>
<line x1="375.00" y1="308.26" x2="377.30" y2="308.26" stroke="#333" stroke-width="0.7"/>
<text x="373.60" y="311.16" font-size="8.0" text-anchor="end" fill="#333">2k</text>
<line x1="375.00" y1="327.39" x2="377.30" y2="327.39" stroke="#333" stroke-width="0.7"/>
<text x="373.60" y="330.29" font-size="8.0" text-anchor="end" fill="#333">3k</text>
<text x="385.70" y="265.30" font-size="8.0" text-anchor="middle" fill="#a3308f">1A</text>
<text x="399.83" y="265.30" font-size="8.0" text-anchor="middle" fill="#a3308f">1B</text>
<text x="413.97" y="265.30" font-size="8.0" text-anchor="middle" fill="#222">1D</text>
<text x="428.11" y="265.30" font-size="8.0" text-anchor="middle" fill="#222">2A</text>
<text x="442.24" y="265.30" font-size="8.0" text-anchor="middle" fill="#222">2B</text>
<text x="456.38" y="265.30" font-size="8.0" text-anchor="middle" fill="#dfaedd">2D</text>
<text x="470.51" y="265.30" font-size="8.0" text-anchor="middle" fill="#222">3A</text>
<text x="484.64" y="265.30" font-size="8.0" text-anchor="middle" fill="#222">3B</text>
<text x="498.78" y="265.30" font-size="8.0" text-anchor="middle" fill="#a55a34">3D</text>
<text x="512.91" y="265.30" font-size="8.0" text-anchor="middle" fill="#222">4A</text>
<text x="527.05" y="265.30" font-size="8.0" text-anchor="middle" fill="#222">4B</text>
<text x="541.18" y="265.30" font-size="8.0" text-anchor="middle" fill="#222">4D</text>
<text x="555.32" y="265.30" font-size="8.0" text-anchor="middle" fill="#222">5A</text>
<text x="569.45" y="265.30" font-size="8.0" text-anchor="middle" fill="#e6bca6">5B</text>
<text x="583.59" y="265.30" font-size="8.0" text-anchor="middle" fill="#222">5D</text>
<text x="597.73" y="265.30" font-size="8.0" text-anchor="middle" fill="#222">6A</text>
<text x="611.86" y="265.30" font-size="8.0" text-anchor="middle" fill="#222">6B</text>
<text x="626.00" y="265.30" font-size="8.0" text-anchor="middle" fill="#222">6D</text>
<text x="640.13" y="265.30" font-size="8.0" text-anchor="middle" fill="#222">7A</text>
<text x="654.26" y="265.30" font-size="8.0" text-anchor="middle" fill="#222">7B</text>
<text x="668.40" y="265.30" font-size="8.0" text-anchor="middle" fill="#222">7D</text>
<text x="0" y="0" font-size="10.0" text-anchor="middle" fill="#1a1a1a" transform="translate(353.60,262.50) rotate(-90)">eQTL count</text>
<path d="M385.70,221.50 L399.83,214.90 L413.97,252.30 L428.11,253.00 L442.24,253.00 L456.38,253.50 L470.51,253.00 L484.64,252.50 L498.78,253.00 L512.91,253.00 L527.05,253.00 L541.18,252.60 L555.32,253.00 L569.45,252.50 L583.59,253.20 L597.73,253.00 L611.86,252.50 L626.00,253.30 L640.13,252.80 L654.26,253.00 L668.40,253.50" stroke="#a3308f" fill="none" stroke-width="0.75"/>
<circle cx="385.70" cy="221.50" r="1.65" fill="#a3308f"/><circle cx="399.83" cy="214.90" r="1.65" fill="#a3308f"/><circle cx="413.97" cy="252.30" r="1.65" fill="#a3308f"/><circle cx="428.11" cy="253.00" r="1.65" fill="#a3308f"/><circle cx="442.24" cy="253.00" r="1.65" fill="#a3308f"/><circle cx="456.38" cy="253.50" r="1.65" fill="#a3308f"/><circle cx="470.51" cy="253.00" r="1.65" fill="#a3308f"/><circle cx="484.64" cy="252.50" r="1.65" fill="#a3308f"/><circle cx="498.78" cy="253.00" r="1.65" fill="#a3308f"/><circle cx="512.91" cy="253.00" r="1.65" fill="#a3308f"/><circle cx="527.05" cy="253.00" r="1.65" fill="#a3308f"/><circle cx="541.18" cy="252.60" r="1.65" fill="#a3308f"/><circle cx="555.32" cy="253.00" r="1.65" fill="#a3308f"/><circle cx="569.45" cy="252.50" r="1.65" fill="#a3308f"/><circle cx="583.59" cy="253.20" r="1.65" fill="#a3308f"/><circle cx="597.73" cy="253.00" r="1.65" fill="#a3308f"/><circle cx="611.86" cy="252.50" r="1.65" fill="#a3308f"/><circle cx="626.00" cy="253.30" r="1.65" fill="#a3308f"/><circle cx="640.13" cy="252.80" r="1.65" fill="#a3308f"/><circle cx="654.26" cy="253.00" r="1.65" fill="#a3308f"/><circle cx="668.40" cy="253.50" r="1.65" fill="#a3308f"/>
<path d="M385.70,252.30 L399.83,252.00 L413.97,252.50 L428.11,247.00 L442.24,250.50 L456.38,252.50 L470.51,252.50 L484.64,252.00 L498.78,253.00 L512.91,252.50 L527.05,252.50 L541.18,252.50 L555.32,251.80 L569.45,204.10 L583.59,253.00 L597.73,251.50 L611.86,250.50 L626.00,253.00 L640.13,251.50 L654.26,251.00 L668.40,253.00" stroke="#e6bca6" fill="none" stroke-width="0.75"/>
<circle cx="385.70" cy="252.30" r="1.65" fill="#e6bca6"/><circle cx="399.83" cy="252.00" r="1.65" fill="#e6bca6"/><circle cx="413.97" cy="252.50" r="1.65" fill="#e6bca6"/><circle cx="428.11" cy="247.00" r="1.65" fill="#e6bca6"/><circle cx="442.24" cy="250.50" r="1.65" fill="#e6bca6"/><circle cx="456.38" cy="252.50" r="1.65" fill="#e6bca6"/><circle cx="470.51" cy="252.50" r="1.65" fill="#e6bca6"/><circle cx="484.64" cy="252.00" r="1.65" fill="#e6bca6"/><circle cx="498.78" cy="253.00" r="1.65" fill="#e6bca6"/><circle cx="512.91" cy="252.50" r="1.65" fill="#e6bca6"/><circle cx="527.05" cy="252.50" r="1.65" fill="#e6bca6"/><circle cx="541.18" cy="252.50" r="1.65" fill="#e6bca6"/><circle cx="555.32" cy="251.80" r="1.65" fill="#e6bca6"/><circle cx="569.45" cy="204.10" r="1.65" fill="#e6bca6"/><circle cx="583.59" cy="253.00" r="1.65" fill="#e6bca6"/><circle cx="597.73" cy="251.50" r="1.65" fill="#e6bca6"/><circle cx="611.86" cy="250.50" r="1.65" fill="#e6bca6"/><circle cx="626.00" cy="253.00" r="1.65" fill="#e6bca6"/><circle cx="640.13" cy="251.50" r="1.65" fill="#e6bca6"/><circle cx="654.26" cy="251.00" r="1.65" fill="#e6bca6"/><circle cx="668.40" cy="253.00" r="1.65" fill="#e6bca6"/>
<path d="M385.70,252.80 L399.83,252.60 L413.97,252.30 L428.11,246.20 L442.24,241.70 L456.38,198.00 L470.51,253.40 L484.64,250.20 L498.78,252.80 L512.91,252.50 L527.05,252.50 L541.18,252.00 L555.32,252.50 L569.45,252.00 L583.59,253.00 L597.73,252.00 L611.86,251.50 L626.00,253.00 L640.13,252.00 L654.26,252.50 L668.40,253.00" stroke="#dfaedd" fill="none" stroke-width="0.75"/>
<circle cx="385.70" cy="252.80" r="1.65" fill="#dfaedd"/><circle cx="399.83" cy="252.60" r="1.65" fill="#dfaedd"/><circle cx="413.97" cy="252.30" r="1.65" fill="#dfaedd"/><circle cx="428.11" cy="246.20" r="1.65" fill="#dfaedd"/><circle cx="442.24" cy="241.70" r="1.65" fill="#dfaedd"/><circle cx="456.38" cy="198.00" r="1.65" fill="#dfaedd"/><circle cx="470.51" cy="253.40" r="1.65" fill="#dfaedd"/><circle cx="484.64" cy="250.20" r="1.65" fill="#dfaedd"/><circle cx="498.78" cy="252.80" r="1.65" fill="#dfaedd"/><circle cx="512.91" cy="252.50" r="1.65" fill="#dfaedd"/><circle cx="527.05" cy="252.50" r="1.65" fill="#dfaedd"/><circle cx="541.18" cy="252.00" r="1.65" fill="#dfaedd"/><circle cx="555.32" cy="252.50" r="1.65" fill="#dfaedd"/><circle cx="569.45" cy="252.00" r="1.65" fill="#dfaedd"/><circle cx="583.59" cy="253.00" r="1.65" fill="#dfaedd"/><circle cx="597.73" cy="252.00" r="1.65" fill="#dfaedd"/><circle cx="611.86" cy="251.50" r="1.65" fill="#dfaedd"/><circle cx="626.00" cy="253.00" r="1.65" fill="#dfaedd"/><circle cx="640.13" cy="252.00" r="1.65" fill="#dfaedd"/><circle cx="654.26" cy="252.50" r="1.65" fill="#dfaedd"/><circle cx="668.40" cy="253.00" r="1.65" fill="#dfaedd"/>
<path d="M385.70,251.00 L399.83,251.00 L413.97,252.30 L428.11,251.00 L442.24,251.00 L456.38,252.30 L470.51,250.20 L484.64,246.50 L498.78,240.90 L512.91,251.50 L527.05,253.40 L541.18,252.60 L555.32,251.80 L569.45,251.00 L583.59,253.00 L597.73,252.50 L611.86,252.00 L626.00,253.00 L640.13,252.00 L654.26,252.50 L668.40,253.30" stroke="#a55a34" fill="none" stroke-width="0.75"/>
<circle cx="385.70" cy="251.00" r="1.65" fill="#a55a34"/><circle cx="399.83" cy="251.00" r="1.65" fill="#a55a34"/><circle cx="413.97" cy="252.30" r="1.65" fill="#a55a34"/><circle cx="428.11" cy="251.00" r="1.65" fill="#a55a34"/><circle cx="442.24" cy="251.00" r="1.65" fill="#a55a34"/><circle cx="456.38" cy="252.30" r="1.65" fill="#a55a34"/><circle cx="470.51" cy="250.20" r="1.65" fill="#a55a34"/><circle cx="484.64" cy="246.50" r="1.65" fill="#a55a34"/><circle cx="498.78" cy="240.90" r="1.65" fill="#a55a34"/><circle cx="512.91" cy="251.50" r="1.65" fill="#a55a34"/><circle cx="527.05" cy="253.40" r="1.65" fill="#a55a34"/><circle cx="541.18" cy="252.60" r="1.65" fill="#a55a34"/><circle cx="555.32" cy="251.80" r="1.65" fill="#a55a34"/><circle cx="569.45" cy="251.00" r="1.65" fill="#a55a34"/><circle cx="583.59" cy="253.00" r="1.65" fill="#a55a34"/><circle cx="597.73" cy="252.50" r="1.65" fill="#a55a34"/><circle cx="611.86" cy="252.00" r="1.65" fill="#a55a34"/><circle cx="626.00" cy="253.00" r="1.65" fill="#a55a34"/><circle cx="640.13" cy="252.00" r="1.65" fill="#a55a34"/><circle cx="654.26" cy="252.50" r="1.65" fill="#a55a34"/><circle cx="668.40" cy="253.30" r="1.65" fill="#a55a34"/>
<path d="M385.70,315.40 L399.83,307.70 L413.97,276.00 L428.11,308.50 L442.24,305.80 L456.38,287.60 L470.51,293.20 L484.64,309.80 L498.78,279.00 L512.91,297.30 L527.05,285.40 L541.18,273.60 L555.32,301.40 L569.45,325.60 L583.59,280.60 L597.73,291.00 L611.86,317.10 L626.00,278.60 L640.13,298.70 L654.26,308.40 L668.40,281.40" stroke="#a55a34" fill="none" stroke-width="0.8" stroke-dasharray="1.6,1.3"/>
<circle cx="385.70" cy="315.40" r="1.65" fill="#a55a34"/><circle cx="399.83" cy="307.70" r="1.65" fill="#a55a34"/><circle cx="413.97" cy="276.00" r="1.65" fill="#a55a34"/><circle cx="428.11" cy="308.50" r="1.65" fill="#a55a34"/><circle cx="442.24" cy="305.80" r="1.65" fill="#a55a34"/><circle cx="456.38" cy="287.60" r="1.65" fill="#a55a34"/><circle cx="470.51" cy="293.20" r="1.65" fill="#a55a34"/><circle cx="484.64" cy="309.80" r="1.65" fill="#a55a34"/><circle cx="498.78" cy="279.00" r="1.65" fill="#a55a34"/><circle cx="512.91" cy="297.30" r="1.65" fill="#a55a34"/><circle cx="527.05" cy="285.40" r="1.65" fill="#a55a34"/><circle cx="541.18" cy="273.60" r="1.65" fill="#a55a34"/><circle cx="555.32" cy="301.40" r="1.65" fill="#a55a34"/><circle cx="569.45" cy="325.60" r="1.65" fill="#a55a34"/><circle cx="583.59" cy="280.60" r="1.65" fill="#a55a34"/><circle cx="597.73" cy="291.00" r="1.65" fill="#a55a34"/><circle cx="611.86" cy="317.10" r="1.65" fill="#a55a34"/><circle cx="626.00" cy="278.60" r="1.65" fill="#a55a34"/><circle cx="640.13" cy="298.70" r="1.65" fill="#a55a34"/><circle cx="654.26" cy="308.40" r="1.65" fill="#a55a34"/><circle cx="668.40" cy="281.40" r="1.65" fill="#a55a34"/>
<path d="M385.70,278.50 L399.83,279.30 L413.97,272.00 L428.11,280.00 L442.24,291.00 L456.38,277.30 L470.51,280.00 L484.64,281.20 L498.78,272.00 L512.91,274.80 L527.05,272.80 L541.18,271.00 L555.32,276.00 L569.45,277.90 L583.59,271.90 L597.73,274.50 L611.86,290.10 L626.00,272.80 L640.13,279.50 L654.26,278.20 L668.40,273.10" stroke="#dfaedd" fill="none" stroke-width="0.8" stroke-dasharray="1.0,1.2"/>
<circle cx="385.70" cy="278.50" r="1.65" fill="#dfaedd"/><circle cx="399.83" cy="279.30" r="1.65" fill="#dfaedd"/><circle cx="413.97" cy="272.00" r="1.65" fill="#dfaedd"/><circle cx="428.11" cy="280.00" r="1.65" fill="#dfaedd"/><circle cx="442.24" cy="291.00" r="1.65" fill="#dfaedd"/><circle cx="456.38" cy="277.30" r="1.65" fill="#dfaedd"/><circle cx="470.51" cy="280.00" r="1.65" fill="#dfaedd"/><circle cx="484.64" cy="281.20" r="1.65" fill="#dfaedd"/><circle cx="498.78" cy="272.00" r="1.65" fill="#dfaedd"/><circle cx="512.91" cy="274.80" r="1.65" fill="#dfaedd"/><circle cx="527.05" cy="272.80" r="1.65" fill="#dfaedd"/><circle cx="541.18" cy="271.00" r="1.65" fill="#dfaedd"/><circle cx="555.32" cy="276.00" r="1.65" fill="#dfaedd"/><circle cx="569.45" cy="277.90" r="1.65" fill="#dfaedd"/><circle cx="583.59" cy="271.90" r="1.65" fill="#dfaedd"/><circle cx="597.73" cy="274.50" r="1.65" fill="#dfaedd"/><circle cx="611.86" cy="290.10" r="1.65" fill="#dfaedd"/><circle cx="626.00" cy="272.80" r="1.65" fill="#dfaedd"/><circle cx="640.13" cy="279.50" r="1.65" fill="#dfaedd"/><circle cx="654.26" cy="278.20" r="1.65" fill="#dfaedd"/><circle cx="668.40" cy="273.10" r="1.65" fill="#dfaedd"/>
<path d="M385.70,278.50 L399.83,291.60 L413.97,270.40 L428.11,275.60 L442.24,274.50 L456.38,271.70 L470.51,280.00 L484.64,273.60 L498.78,270.40 L512.91,272.50 L527.05,272.80 L541.18,270.40 L555.32,275.30 L569.45,275.50 L583.59,271.90 L597.73,274.20 L611.86,279.50 L626.00,271.30 L640.13,273.70 L654.26,275.50 L668.40,271.30" stroke="#a3308f" fill="none" stroke-width="0.8" stroke-dasharray="2.2,1.3"/>
<circle cx="385.70" cy="278.50" r="1.65" fill="#a3308f"/><circle cx="399.83" cy="291.60" r="1.65" fill="#a3308f"/><circle cx="413.97" cy="270.40" r="1.65" fill="#a3308f"/><circle cx="428.11" cy="275.60" r="1.65" fill="#a3308f"/><circle cx="442.24" cy="274.50" r="1.65" fill="#a3308f"/><circle cx="456.38" cy="271.70" r="1.65" fill="#a3308f"/><circle cx="470.51" cy="280.00" r="1.65" fill="#a3308f"/><circle cx="484.64" cy="273.60" r="1.65" fill="#a3308f"/><circle cx="498.78" cy="270.40" r="1.65" fill="#a3308f"/><circle cx="512.91" cy="272.50" r="1.65" fill="#a3308f"/><circle cx="527.05" cy="272.80" r="1.65" fill="#a3308f"/><circle cx="541.18" cy="270.40" r="1.65" fill="#a3308f"/><circle cx="555.32" cy="275.30" r="1.65" fill="#a3308f"/><circle cx="569.45" cy="275.50" r="1.65" fill="#a3308f"/><circle cx="583.59" cy="271.90" r="1.65" fill="#a3308f"/><circle cx="597.73" cy="274.20" r="1.65" fill="#a3308f"/><circle cx="611.86" cy="279.50" r="1.65" fill="#a3308f"/><circle cx="626.00" cy="271.30" r="1.65" fill="#a3308f"/><circle cx="640.13" cy="273.70" r="1.65" fill="#a3308f"/><circle cx="654.26" cy="275.50" r="1.65" fill="#a3308f"/><circle cx="668.40" cy="271.30" r="1.65" fill="#a3308f"/>
<rect x="377.30" y="195.60" width="299.30" height="60.40" fill="none" stroke="#333" stroke-width="0.8"/>
<rect x="377.30" y="267.30" width="299.30" height="61.10" fill="none" stroke="#333" stroke-width="0.8"/>
<text x="381.90" y="205.70" font-size="9.5" fill="#111">All lines</text>
<text x="382.60" y="326.40" font-size="9.8" fill="#111">Only introgression lines</text>
<text x="2.00" y="359.70" font-size="10.8" font-weight="bold" fill="#000">g</text>
<circle cx="65.20" cy="357.30" r="2.20" fill="none" stroke="#f7996f" stroke-width="0.9"/>
<text x="69.60" y="360.30" font-size="8.6" fill="#222">active-eQTG</text>
<circle cx="136.00" cy="357.30" r="2.20" fill="none" stroke="#fcc53a" stroke-width="0.9"/>
<text x="140.40" y="360.30" font-size="8.6" fill="#222">inactive-eQTG</text>
<circle cx="210.40" cy="357.30" r="2.20" fill="none" stroke="#93bfdc" stroke-width="0.9"/>
<text x="214.80" y="360.30" font-size="8.6" fill="#222">intergenic-eQTL</text>
<line x1="27.00" y1="378.75" x2="81.40" y2="378.75" stroke="#e3e3e3" stroke-width="0.7"/>
<line x1="27.00" y1="388.50" x2="81.40" y2="388.50" stroke="#e3e3e3" stroke-width="0.7"/>
<line x1="27.00" y1="399.40" x2="81.40" y2="399.40" stroke="#e3e3e3" stroke-width="0.7"/>
<line x1="27.00" y1="410.00" x2="81.40" y2="410.00" stroke="#e3e3e3" stroke-width="0.7"/>
<line x1="27.00" y1="419.40" x2="81.40" y2="419.40" stroke="#e3e3e3" stroke-width="0.7"/>
<line x1="27.00" y1="429.75" x2="81.40" y2="429.75" stroke="#e3e3e3" stroke-width="0.7"/>
<line x1="27.00" y1="438.75" x2="81.40" y2="438.75" stroke="#e3e3e3" stroke-width="0.7"/>
<line x1="27.00" y1="448.75" x2="81.40" y2="448.75" stroke="#e3e3e3" stroke-width="0.7"/>
<line x1="27.00" y1="459.40" x2="81.40" y2="459.40" stroke="#e3e3e3" stroke-width="0.7"/>
<line x1="27.00" y1="469.75" x2="81.40" y2="469.75" stroke="#e3e3e3" stroke-width="0.7"/>
<line x1="27.00" y1="478.50" x2="81.40" y2="478.50" stroke="#e3e3e3" stroke-width="0.7"/>
<line x1="27.00" y1="488.50" x2="81.40" y2="488.50" stroke="#e3e3e3" stroke-width="0.7"/>
<line x1="27.00" y1="499.10" x2="81.40" y2="499.10" stroke="#e3e3e3" stroke-width="0.7"/>
<line x1="27.00" y1="510.60" x2="81.40" y2="510.60" stroke="#e3e3e3" stroke-width="0.7"/>
<line x1="27.00" y1="522.50" x2="81.40" y2="522.50" stroke="#e3e3e3" stroke-width="0.7"/>
<line x1="27.00" y1="533.50" x2="81.40" y2="533.50" stroke="#e3e3e3" stroke-width="0.7"/>
<line x1="27.00" y1="544.40" x2="81.40" y2="544.40" stroke="#e3e3e3" stroke-width="0.7"/>
<line x1="27.00" y1="556.25" x2="81.40" y2="556.25" stroke="#e3e3e3" stroke-width="0.7"/>
<line x1="27.00" y1="567.50" x2="81.40" y2="567.50" stroke="#e3e3e3" stroke-width="0.7"/>
<line x1="27.00" y1="577.30" x2="81.40" y2="577.30" stroke="#e3e3e3" stroke-width="0.7"/>
<line x1="27.00" y1="586.80" x2="81.40" y2="586.80" stroke="#e3e3e3" stroke-width="0.7"/>
<line x1="27.00" y1="597.00" x2="81.40" y2="597.00" stroke="#e3e3e3" stroke-width="0.7"/>
<line x1="79.60" y1="367.40" x2="79.60" y2="607.20" stroke="#ececec" stroke-width="0.6"/>
<rect x="78.58" y="379.60" width="0.06" height="6.80" fill="#fba987"/>
<rect x="78.64" y="379.60" width="0.23" height="6.80" fill="#fcc53a"/>
<rect x="78.86" y="379.60" width="0.74" height="6.80" fill="#a8cde3"/>
<text x="74.90" y="386.00" font-size="8.3" text-anchor="end" fill="#333">453</text>
<rect x="78.85" y="390.60" width="0.05" height="6.80" fill="#fba987"/>
<rect x="78.89" y="390.60" width="0.17" height="6.80" fill="#fcc53a"/>
<rect x="79.06" y="390.60" width="0.54" height="6.80" fill="#a8cde3"/>
<text x="74.90" y="397.00" font-size="8.3" text-anchor="end" fill="#333">332</text>
<rect x="76.55" y="401.35" width="0.18" height="6.80" fill="#fba987"/>
<rect x="76.73" y="401.35" width="0.67" height="6.80" fill="#fcc53a"/>
<rect x="77.40" y="401.35" width="2.20" height="6.80" fill="#a8cde3"/>
<text x="74.90" y="407.75" font-size="8.3" text-anchor="end" fill="#333">1,350</text>
<rect x="78.68" y="411.35" width="0.05" height="6.80" fill="#fba987"/>
<rect x="78.74" y="411.35" width="0.20" height="6.80" fill="#fcc53a"/>
<rect x="78.94" y="411.35" width="0.66" height="6.80" fill="#a8cde3"/>
<text x="74.90" y="417.75" font-size="8.3" text-anchor="end" fill="#333">405</text>
<rect x="76.91" y="421.35" width="0.16" height="6.80" fill="#fba987"/>
<rect x="77.07" y="421.35" width="0.59" height="6.80" fill="#fcc53a"/>
<rect x="77.66" y="421.35" width="1.94" height="6.80" fill="#a8cde3"/>
<text x="74.90" y="427.75" font-size="8.3" text-anchor="end" fill="#333">1,190</text>
<rect x="76.98" y="430.35" width="0.16" height="6.80" fill="#fba987"/>
<rect x="77.14" y="430.35" width="0.58" height="6.80" fill="#fcc53a"/>
<rect x="77.71" y="430.35" width="1.89" height="6.80" fill="#a8cde3"/>
<text x="74.90" y="436.75" font-size="8.3" text-anchor="end" fill="#333">1,160</text>
<rect x="79.10" y="440.35" width="0.03" height="6.80" fill="#fba987"/>
<rect x="79.13" y="440.35" width="0.11" height="6.80" fill="#fcc53a"/>
<rect x="79.24" y="440.35" width="0.36" height="6.80" fill="#a8cde3"/>
<text x="74.90" y="446.75" font-size="8.3" text-anchor="end" fill="#333">221</text>
<rect x="76.19" y="451.00" width="0.20" height="6.80" fill="#fba987"/>
<rect x="76.39" y="451.00" width="0.75" height="6.80" fill="#fcc53a"/>
<rect x="77.14" y="451.00" width="2.46" height="6.80" fill="#a8cde3"/>
<text x="74.59" y="457.40" font-size="8.3" text-anchor="end" fill="#333">1,510</text>
<rect x="78.67" y="461.35" width="0.06" height="6.80" fill="#fba987"/>
<rect x="78.73" y="461.35" width="0.20" height="6.80" fill="#fcc53a"/>
<rect x="78.93" y="461.35" width="0.67" height="6.80" fill="#a8cde3"/>
<text x="74.90" y="467.75" font-size="8.3" text-anchor="end" fill="#333">410</text>
<rect x="77.42" y="470.35" width="0.13" height="6.80" fill="#fba987"/>
<rect x="77.55" y="470.35" width="0.48" height="6.80" fill="#fcc53a"/>
<rect x="78.03" y="470.35" width="1.57" height="6.80" fill="#a8cde3"/>
<text x="74.90" y="476.75" font-size="8.3" text-anchor="end" fill="#333">964</text>
<rect x="79.27" y="480.10" width="0.02" height="6.80" fill="#fba987"/>
<rect x="79.29" y="480.10" width="0.07" height="6.80" fill="#fcc53a"/>
<rect x="79.37" y="480.10" width="0.23" height="6.80" fill="#a8cde3"/>
<text x="74.90" y="486.50" font-size="8.3" text-anchor="end" fill="#333">144</text>
<rect x="77.88" y="490.10" width="0.10" height="6.80" fill="#fba987"/>
<rect x="77.99" y="490.10" width="0.38" height="6.80" fill="#fcc53a"/>
<rect x="78.36" y="490.10" width="1.24" height="6.80" fill="#a8cde3"/>
<text x="74.90" y="496.50" font-size="8.3" text-anchor="end" fill="#333">760</text>
<rect x="78.80" y="501.60" width="0.05" height="6.80" fill="#fba987"/>
<rect x="78.85" y="501.60" width="0.18" height="6.80" fill="#fcc53a"/>
<rect x="79.02" y="501.60" width="0.58" height="6.80" fill="#a8cde3"/>
<text x="74.90" y="508.00" font-size="8.3" text-anchor="end" fill="#333">355</text>
<rect x="76.78" y="512.85" width="0.17" height="6.80" fill="#fba987"/>
<rect x="76.95" y="512.85" width="0.62" height="6.80" fill="#fcc53a"/>
<rect x="77.57" y="512.85" width="2.03" height="6.80" fill="#a8cde3"/>
<text x="74.90" y="519.25" font-size="8.3" text-anchor="end" fill="#333">1,248</text>
<rect x="78.88" y="524.35" width="0.04" height="6.80" fill="#fba987"/>
<rect x="78.92" y="524.35" width="0.16" height="6.80" fill="#fcc53a"/>
<rect x="79.08" y="524.35" width="0.52" height="6.80" fill="#a8cde3"/>
<text x="74.90" y="530.75" font-size="8.3" text-anchor="end" fill="#333">319</text>
<rect x="29.57" y="535.35" width="26.01" height="6.80" fill="#fba987"/>
<rect x="55.59" y="535.35" width="18.01" height="6.80" fill="#fcc53a"/>
<rect x="73.60" y="535.35" width="6.00" height="6.80" fill="#a8cde3"/>
<text x="44.50" y="541.75" font-size="8.3" text-anchor="middle" fill="#333">22,136</text>
<rect x="68.61" y="547.20" width="3.85" height="6.80" fill="#fba987"/>
<rect x="72.46" y="547.20" width="2.20" height="6.80" fill="#fcc53a"/>
<rect x="74.65" y="547.20" width="4.95" height="6.80" fill="#a8cde3"/>
<text x="67.01" y="553.60" font-size="8.3" text-anchor="end" fill="#333">4,863</text>
<rect x="72.51" y="558.50" width="1.06" height="6.80" fill="#fba987"/>
<rect x="73.57" y="558.50" width="0.71" height="6.80" fill="#fcc53a"/>
<rect x="74.28" y="558.50" width="5.32" height="6.80" fill="#a8cde3"/>
<text x="70.91" y="564.90" font-size="8.3" text-anchor="end" fill="#333">3,137</text>
<rect x="78.66" y="568.50" width="0.06" height="6.80" fill="#fba987"/>
<rect x="78.72" y="568.50" width="0.21" height="6.80" fill="#fcc53a"/>
<rect x="78.93" y="568.50" width="0.67" height="6.80" fill="#a8cde3"/>
<text x="74.90" y="574.90" font-size="8.3" text-anchor="end" fill="#333">414</text>
<rect x="76.99" y="579.00" width="0.16" height="6.80" fill="#fba987"/>
<rect x="77.15" y="579.00" width="0.57" height="6.80" fill="#fcc53a"/>
<rect x="77.72" y="579.00" width="1.88" height="6.80" fill="#a8cde3"/>
<text x="74.90" y="585.40" font-size="8.3" text-anchor="end" fill="#333">1,154</text>
<rect x="77.63" y="588.20" width="0.12" height="6.80" fill="#fba987"/>
<rect x="77.75" y="588.20" width="0.43" height="6.80" fill="#fcc53a"/>
<rect x="78.18" y="588.20" width="1.42" height="6.80" fill="#a8cde3"/>
<text x="74.90" y="594.60" font-size="8.3" text-anchor="end" fill="#333">870</text>
<rect x="27.00" y="367.40" width="54.40" height="239.80" fill="none" stroke="#b5b5b5" stroke-width="0.9"/>
<line x1="82.00" y1="367.40" x2="82.00" y2="607.20" stroke="#b0b0b0" stroke-width="1.6"/>
<line x1="34.30" y1="607.20" x2="34.30" y2="609.40" stroke="#333" stroke-width="0.7"/>
<text x="0" y="0" font-size="8.6" text-anchor="end" fill="#333" transform="translate(39.20,614.80) rotate(-45)">20k</text>
<line x1="45.60" y1="607.20" x2="45.60" y2="609.40" stroke="#333" stroke-width="0.7"/>
<text x="0" y="0" font-size="8.6" text-anchor="end" fill="#333" transform="translate(50.50,614.80) rotate(-45)">15k</text>
<line x1="56.90" y1="607.20" x2="56.90" y2="609.40" stroke="#333" stroke-width="0.7"/>
<text x="0" y="0" font-size="8.6" text-anchor="end" fill="#333" transform="translate(61.80,614.80) rotate(-45)">10k</text>
<line x1="68.20" y1="607.20" x2="68.20" y2="609.40" stroke="#333" stroke-width="0.7"/>
<text x="0" y="0" font-size="8.6" text-anchor="end" fill="#333" transform="translate(73.10,614.80) rotate(-45)">5k</text>
<line x1="79.60" y1="607.20" x2="79.60" y2="609.40" stroke="#333" stroke-width="0.7"/>
<text x="0" y="0" font-size="8.6" text-anchor="end" fill="#333" transform="translate(84.50,614.80) rotate(-45)">0</text>
<text x="54.40" y="637.00" font-size="10.0" text-anchor="middle" fill="#1a1a1a">eQTL count</text>
<text x="0" y="0" font-size="10.0" text-anchor="middle" fill="#1a1a1a" transform="translate(19.60,486.00) rotate(-90)">eQTL</text>
<line x1="92.40" y1="367.40" x2="92.40" y2="607.20" stroke="#e4e4e4" stroke-width="0.7"/>
<line x1="116.70" y1="367.40" x2="116.70" y2="607.20" stroke="#e4e4e4" stroke-width="0.7"/>
<line x1="139.70" y1="367.40" x2="139.70" y2="607.20" stroke="#e4e4e4" stroke-width="0.7"/>
<line x1="163.00" y1="367.40" x2="163.00" y2="607.20" stroke="#e4e4e4" stroke-width="0.7"/>
<line x1="104.50" y1="367.40" x2="104.50" y2="607.20" stroke="#f0f0f0" stroke-width="0.5"/>
<line x1="128.00" y1="367.40" x2="128.00" y2="607.20" stroke="#f0f0f0" stroke-width="0.5"/>
<line x1="151.30" y1="367.40" x2="151.30" y2="607.20" stroke="#f0f0f0" stroke-width="0.5"/>
<line x1="83.40" y1="378.75" x2="166.00" y2="378.75" stroke="#e0e0e0" stroke-width="0.7"/>
<line x1="83.40" y1="388.50" x2="166.00" y2="388.50" stroke="#e0e0e0" stroke-width="0.7"/>
<line x1="83.40" y1="399.40" x2="166.00" y2="399.40" stroke="#e0e0e0" stroke-width="0.7"/>
<line x1="83.40" y1="410.00" x2="166.00" y2="410.00" stroke="#e0e0e0" stroke-width="0.7"/>
<line x1="83.40" y1="419.40" x2="166.00" y2="419.40" stroke="#e0e0e0" stroke-width="0.7"/>
<line x1="83.40" y1="429.75" x2="166.00" y2="429.75" stroke="#e0e0e0" stroke-width="0.7"/>
<line x1="83.40" y1="438.75" x2="166.00" y2="438.75" stroke="#e0e0e0" stroke-width="0.7"/>
<line x1="83.40" y1="448.75" x2="166.00" y2="448.75" stroke="#e0e0e0" stroke-width="0.7"/>
<line x1="83.40" y1="459.40" x2="166.00" y2="459.40" stroke="#e0e0e0" stroke-width="0.7"/>
<line x1="83.40" y1="469.75" x2="166.00" y2="469.75" stroke="#e0e0e0" stroke-width="0.7"/>
<line x1="83.40" y1="478.50" x2="166.00" y2="478.50" stroke="#e0e0e0" stroke-width="0.7"/>
<line x1="83.40" y1="488.50" x2="166.00" y2="488.50" stroke="#e0e0e0" stroke-width="0.7"/>
<line x1="83.40" y1="499.10" x2="166.00" y2="499.10" stroke="#e0e0e0" stroke-width="0.7"/>
<line x1="83.40" y1="510.60" x2="166.00" y2="510.60" stroke="#e0e0e0" stroke-width="0.7"/>
<line x1="83.40" y1="522.50" x2="166.00" y2="522.50" stroke="#e0e0e0" stroke-width="0.7"/>
<line x1="83.40" y1="533.50" x2="166.00" y2="533.50" stroke="#e0e0e0" stroke-width="0.7"/>
<line x1="83.40" y1="544.40" x2="166.00" y2="544.40" stroke="#e0e0e0" stroke-width="0.7"/>
<line x1="83.40" y1="556.25" x2="166.00" y2="556.25" stroke="#e0e0e0" stroke-width="0.7"/>
<line x1="83.40" y1="567.50" x2="166.00" y2="567.50" stroke="#e0e0e0" stroke-width="0.7"/>
<line x1="83.40" y1="577.30" x2="166.00" y2="577.30" stroke="#e0e0e0" stroke-width="0.7"/>
<line x1="83.40" y1="586.80" x2="166.00" y2="586.80" stroke="#e0e0e0" stroke-width="0.7"/>
<line x1="83.40" y1="597.00" x2="166.00" y2="597.00" stroke="#e0e0e0" stroke-width="0.7"/>
<path d="M90.2,379.1h5.5M102.9,379.1h5.4M108.7,379.1h2.8M127.0,379.1h4.4M132.0,379.1h6.9M145.5,379.1h0.2M90.0,380.2h1.7M94.4,380.2h6.1M100.9,380.2h6.8M112.4,380.2h4.5M119.2,380.2h2.8M122.8,380.2h0.1M126.6,380.2h4.2M131.5,380.2h2.3M134.2,380.2h3.4M89.9,386.7h5.1M95.4,386.7h2.1M97.8,386.7h2.6M100.8,386.7h4.3M105.5,386.7h3.5M109.5,386.7h5.9M116.0,386.7h0.9M130.4,386.7h5.0M135.7,386.7h1.8M137.7,386.7h1.2M144.6,386.7h1.1M92.9,387.6h5.5M99.0,387.6h6.1M109.0,387.6h4.0M119.5,387.6h2.4M122.3,387.6h0.6M90.5,388.4h2.5M97.6,388.4h4.2M102.3,388.4h4.1M106.8,388.4h4.2M113.4,388.4h3.5M122.8,388.4h0.1M125.2,388.4h6.7M132.2,388.4h3.2M136.2,388.4h2.3M141.3,388.4h4.4M90.2,389.3h3.2M94.1,389.3h5.3M99.7,389.3h5.0M109.2,389.3h2.9M112.7,389.3h4.2M134.0,389.3h2.9M137.3,389.3h1.6M143.7,389.3h2.0M90.4,397.9h2.4M93.5,397.9h6.0M99.8,397.9h2.2M102.5,397.9h2.2M105.2,397.9h6.9M112.7,397.9h2.0M118.6,397.9h4.3M125.7,397.9h6.6M132.8,397.9h2.1M135.1,397.9h3.8M143.5,397.9h2.2M90.2,398.9h1.7M92.7,398.9h2.5M95.8,398.9h4.2M100.4,398.9h4.2M105.4,398.9h1.9M107.9,398.9h6.9M125.6,398.9h5.7M131.9,398.9h5.4M137.6,398.9h1.3M90.1,399.8h2.5M93.0,399.8h4.0M97.2,399.8h2.4M105.7,399.8h3.8M110.1,399.8h2.2M112.5,399.8h3.5M116.4,399.8h0.5M119.7,399.8h3.2M125.0,399.8h5.5M131.1,399.8h5.9M137.4,399.8h1.5M142.9,399.8h2.2M145.3,399.8h0.4M92.8,400.8h6.5M99.9,400.8h6.4M106.6,400.8h2.3M109.2,400.8h1.6M111.0,400.8h3.3M115.1,400.8h1.8M118.4,400.8h4.5M124.5,400.8h6.1M130.8,400.8h6.5M138.1,400.8h0.8M142.1,400.8h3.6M89.9,401.9h4.1M94.7,401.9h2.6M97.8,401.9h3.7M102.1,401.9h1.9M104.6,401.9h5.7M111.0,401.9h4.4M116.0,401.9h0.9M128.7,401.9h5.6M134.6,401.9h1.6M137.0,401.9h1.9M142.8,401.9h2.9M90.2,402.8h6.4M102.3,402.8h4.4M107.4,402.8h6.9M114.9,402.8h2.0M127.0,402.8h3.5M138.4,402.8h0.5M145.2,402.8h0.5M90.2,407.9h3.1M93.9,407.9h3.4M97.5,407.9h2.5M100.6,407.9h5.0M105.8,407.9h5.3M111.6,407.9h5.3M118.4,407.9h2.4M121.1,407.9h1.8M125.5,407.9h5.7M138.0,407.9h0.9M143.5,407.9h2.2M90.0,408.8h3.2M93.9,408.8h3.4M107.7,408.8h5.3M113.5,408.8h3.2M120.6,408.8h2.0M129.1,408.8h5.2M135.0,408.8h3.9M140.7,408.8h4.4M145.4,408.8h0.3M89.9,409.8h2.8M93.0,409.8h4.2M97.9,409.8h2.5M100.9,409.8h1.8M103.4,409.8h4.0M107.8,409.8h3.9M115.1,409.8h1.8M120.8,409.8h2.1M127.3,409.8h6.0M133.9,409.8h5.0M89.8,410.7h3.0M93.4,410.7h6.9M101.0,410.7h6.3M107.8,410.7h4.9M113.2,410.7h2.5M116.4,410.7h0.5M125.6,410.7h4.2M130.1,410.7h4.8M135.2,410.7h3.1M138.7,410.7h0.2M143.8,410.7h1.9M93.2,411.6h4.2M98.2,411.6h4.6M103.2,411.6h2.7M106.2,411.6h6.6M113.2,411.6h1.6M115.3,411.6h1.6M121.6,411.6h1.3M127.1,411.6h1.8M129.7,411.6h6.7M137.1,411.6h1.8M140.7,411.6h2.7M143.6,411.6h2.1M90.3,413.4h4.2M101.5,413.4h6.3M108.6,413.4h3.7M112.5,413.4h4.4M119.9,413.4h3.0M131.2,413.4h6.9M138.8,413.4h0.1M95.9,414.2h5.9M105.2,414.2h6.6M112.4,414.2h2.1M125.7,414.2h6.4M132.3,414.2h6.3M93.2,415.1h3.7M97.3,415.1h3.8M110.2,415.1h5.9M119.7,415.1h3.2M127.0,415.1h7.0M134.5,415.1h4.4M140.7,415.1h4.9M90.2,416.0h1.7M92.5,416.0h4.5M104.2,416.0h6.0M111.0,416.0h3.6M115.1,416.0h1.8M133.9,416.0h5.0M92.6,417.7h2.5M95.3,417.7h3.4M99.3,417.7h6.5M118.9,417.7h4.0M125.4,417.7h4.8M130.5,417.7h3.5M134.4,417.7h4.5M141.1,417.7h2.2M143.7,417.7h2.0M89.9,418.7h2.1M96.0,418.7h1.8M98.3,418.7h4.1M102.9,418.7h6.3M109.8,418.7h2.8M112.9,418.7h1.9M115.2,418.7h1.7M127.1,418.7h4.7M132.1,418.7h1.6M134.4,418.7h2.6M137.3,418.7h1.6M145.4,418.7h0.3M90.0,419.8h2.1M92.8,419.8h3.8M97.0,419.8h3.7M101.4,419.8h1.6M103.3,419.8h3.7M111.5,419.8h5.4M127.2,419.8h5.1M132.8,419.8h6.0M141.5,419.8h4.2M90.2,425.8h6.5M127.5,425.8h2.5M130.8,425.8h2.3M141.3,425.8h4.4M125.5,426.7h4.0M135.4,426.7h3.5M90.6,428.2h2.7M93.9,428.2h5.3M99.5,428.2h6.5M106.5,428.2h3.0M110.1,428.2h1.9M112.7,428.2h3.6M122.1,428.2h0.8M128.8,428.2h4.3M136.2,428.2h2.7M141.5,428.2h4.2M90.4,429.2h5.7M96.5,429.2h2.4M99.7,429.2h3.8M104.1,429.2h2.2M107.1,429.2h4.1M112.0,429.2h4.9M119.0,429.2h3.9M125.3,429.2h4.4M130.3,429.2h6.9M137.9,429.2h1.0M142.0,429.2h3.7M90.4,430.0h2.4M93.3,430.0h3.3M97.0,430.0h5.2M102.4,430.0h4.7M107.4,430.0h2.9M110.8,430.0h1.8M113.3,430.0h3.6M122.1,430.0h0.8M128.1,430.0h2.5M131.4,430.0h4.9M136.5,430.0h2.4M141.7,430.0h4.0M90.3,436.9h4.4M95.2,436.9h2.2M98.1,436.9h4.5M102.9,436.9h6.0M109.7,436.9h5.6M115.9,436.9h1.0M120.9,436.9h2.0M125.8,436.9h6.9M133.3,436.9h5.6M89.9,437.9h4.5M94.9,437.9h4.9M100.5,437.9h3.6M104.8,437.9h6.3M111.5,437.9h4.2M116.0,437.9h0.9M122.7,437.9h0.2M125.6,437.9h3.3M129.2,437.9h4.3M134.0,437.9h4.9M140.9,437.9h4.8M89.9,438.9h5.3M95.7,438.9h5.7M101.9,438.9h5.0M107.4,438.9h1.9M109.7,438.9h1.8M111.8,438.9h4.8M119.6,438.9h1.8M121.9,438.9h1.0M126.2,438.9h2.9M129.4,438.9h2.9M132.9,438.9h4.5M137.7,438.9h1.2M144.5,438.9h1.2M90.0,439.8h5.4M96.2,439.8h4.5M101.1,439.8h2.9M111.1,439.8h5.8M121.6,439.8h1.3M129.3,439.8h2.3M132.1,439.8h4.7M137.1,439.8h1.8M144.2,439.8h1.5M90.1,449.5h6.9M97.7,449.5h4.4M102.4,449.5h6.1M115.4,449.5h1.5M124.2,449.5h6.7M138.7,449.5h0.2M141.7,449.5h2.3M144.5,449.5h1.2M90.0,450.6h5.1M95.6,450.6h5.5M101.9,450.6h4.8M107.3,450.6h2.4M110.4,450.6h1.9M112.6,450.6h4.3M118.4,450.6h4.5M124.2,450.6h5.4M129.9,450.6h3.1M133.4,450.6h1.8M135.8,450.6h3.1M142.3,450.6h2.1M145.0,450.6h0.7M90.2,451.7h2.6M99.3,451.7h4.6M104.6,451.7h4.1M109.4,451.7h4.8M114.5,451.7h2.4M120.4,451.7h2.5M125.7,451.7h1.7M128.0,451.7h1.5M129.9,451.7h2.8M133.2,451.7h5.7M90.0,452.8h4.2M94.5,452.8h5.4M100.7,452.8h2.6M103.7,452.8h5.7M109.6,452.8h6.1M122.0,452.8h0.9M131.5,452.8h5.1M137.1,452.8h1.8M145.1,452.8h0.6M95.9,456.9h2.0M98.4,456.9h5.5M107.5,456.9h2.2M110.3,456.9h2.5M118.7,456.9h3.1M124.6,456.9h2.4M129.1,456.9h2.7M143.5,456.9h2.2M89.8,457.9h3.4M93.6,457.9h3.1M104.3,457.9h6.2M113.0,457.9h3.9M133.3,457.9h5.6M141.8,457.9h3.9M90.4,458.7h4.5M95.5,458.7h1.8M97.9,458.7h6.8M115.4,458.7h1.5M137.9,458.7h1.0M140.9,458.7h1.7M143.0,458.7h2.0M89.9,469.5h6.8M97.1,469.5h7.0M107.0,469.5h3.4M119.6,469.5h3.3M125.6,469.5h3.8M141.4,469.5h3.0M145.1,469.5h0.6M89.9,470.6h2.3M92.6,470.6h6.9M100.3,470.6h5.5M106.2,470.6h3.8M114.6,470.6h2.3M121.5,470.6h1.4M125.7,470.6h5.4M131.7,470.6h4.3M136.4,470.6h2.5M143.1,470.6h2.6M105.7,471.6h4.2M110.5,471.6h6.4M140.5,471.6h4.2M90.3,472.6h1.6M100.1,472.6h4.7M105.4,472.6h3.3M109.4,472.6h4.6M119.2,472.6h3.7M128.8,472.6h6.5M136.0,472.6h2.9M141.6,472.6h4.1M89.9,473.6h3.4M96.2,473.6h5.6M108.2,473.6h3.1M118.5,473.6h2.2M138.1,473.6h0.8M89.9,474.6h4.1M94.3,474.6h3.4M105.2,474.6h4.4M109.7,474.6h2.3M112.7,474.6h4.2M124.6,474.6h1.9M126.7,474.6h5.8M133.1,474.6h5.8M142.5,474.6h2.7M96.4,475.5h4.5M107.6,475.5h4.1M112.4,475.5h2.9M116.1,475.5h0.8M126.7,475.5h5.6M90.4,476.6h6.8M102.8,476.6h3.2M106.3,476.6h5.5M114.3,476.6h2.6M128.1,476.6h3.5M144.2,476.6h1.5M103.0,477.7h3.2M106.4,477.7h5.0M115.8,477.7h1.1M121.1,477.7h1.8M130.7,477.7h4.9M89.9,486.7h3.8M94.4,486.7h5.2M113.0,486.7h1.5M115.3,486.7h1.6M122.5,486.7h0.4M124.7,486.7h4.2M134.6,486.7h4.2M90.4,487.5h5.8M96.5,487.5h4.5M107.8,487.5h3.2M124.6,487.5h6.1M134.5,487.5h4.3M144.3,487.5h1.4M90.3,488.6h4.3M98.7,488.6h3.1M102.3,488.6h2.5M105.5,488.6h2.1M108.2,488.6h4.2M120.4,488.6h2.5M124.4,488.6h4.7M132.2,488.6h2.8M145.4,488.6h0.3M90.3,489.7h7.0M97.8,489.7h6.6M111.0,489.7h4.3M126.9,489.7h5.1M132.6,489.7h2.7M141.9,489.7h2.1M144.5,489.7h1.2M89.9,490.7h4.4M99.2,490.7h4.5M104.2,490.7h2.5M107.5,490.7h6.2M114.2,490.7h2.7M121.8,490.7h1.1M138.9,490.7h0.0M144.9,490.7h0.8M90.4,499.2h2.8M93.9,499.2h4.2M98.8,499.2h4.2M118.3,499.2h4.6M125.8,499.2h2.5M128.6,499.2h5.2M134.2,499.2h4.7M140.3,499.2h5.4M95.0,500.3h2.5M98.2,500.3h4.4M109.7,500.3h5.7M115.9,500.3h1.0M138.7,500.3h0.2M143.8,500.3h1.9M90.5,501.3h2.5M93.6,501.3h4.9M99.0,501.3h3.0M102.4,501.3h5.2M129.7,501.3h1.9M132.4,501.3h4.3M137.0,501.3h1.9M90.1,508.6h2.2M93.0,508.6h6.9M100.4,508.6h1.8M106.3,508.6h6.5M113.0,508.6h3.7M127.0,508.6h5.8M133.3,508.6h4.2M144.9,508.6h0.8M90.3,509.6h6.3M96.8,509.6h1.9M99.2,509.6h3.3M105.9,509.6h4.7M111.1,509.6h5.8M120.0,509.6h2.0M128.0,509.6h6.8M135.2,509.6h3.7M140.6,509.6h1.5M142.9,509.6h2.8M90.0,510.6h2.3M96.3,510.6h2.6M99.6,510.6h2.9M103.0,510.6h2.1M105.9,510.6h6.0M112.6,510.6h2.2M135.1,510.6h2.1M138.0,510.6h0.9M90.0,511.5h2.3M97.2,511.5h3.9M101.9,511.5h3.3M106.0,511.5h3.6M110.0,511.5h4.4M114.7,511.5h2.2M121.6,511.5h1.3M126.4,511.5h2.3M129.2,511.5h2.2M138.0,511.5h0.9M97.3,513.3h6.4M104.3,513.3h2.0M106.8,513.3h6.7M142.7,513.3h3.0M94.3,514.3h6.5M101.4,514.3h1.9M103.6,514.3h6.4M110.6,514.3h6.0M129.2,514.3h4.0M133.8,514.3h4.7M142.1,514.3h2.4M144.8,514.3h0.9M89.9,515.4h5.6M101.0,515.4h6.9M108.5,515.4h2.6M111.6,515.4h5.1M119.9,515.4h3.0M125.0,515.4h4.7M135.8,515.4h3.1M90.3,516.3h5.3M96.1,516.3h4.7M106.3,516.3h5.0M111.6,516.3h5.3M119.6,516.3h3.2M127.8,516.3h5.6M133.9,516.3h3.6M137.8,516.3h1.1M90.0,517.9h6.4M96.8,517.9h6.4M103.7,517.9h4.2M113.8,517.9h3.1M135.5,517.9h3.4M142.1,517.9h3.6M96.2,518.8h5.2M106.6,518.8h6.5M113.7,518.8h3.2M120.2,518.8h2.7M126.4,518.8h1.7M130.2,518.8h1.7M132.5,518.8h3.9M136.6,518.8h2.3M142.2,518.8h3.5M94.4,519.6h6.8M101.7,519.6h6.2M108.5,519.6h5.8M121.8,519.6h1.1M133.1,519.6h5.8M90.5,521.5h3.0M94.0,521.5h4.1M104.3,521.5h2.8M111.2,521.5h4.4M116.1,521.5h0.8M129.2,521.5h7.0M136.7,521.5h2.2M140.9,521.5h2.2M143.7,521.5h2.0M90.3,522.3h3.0M93.6,522.3h1.9M95.8,522.3h6.5M102.8,522.3h3.8M112.6,522.3h4.3M118.7,522.3h4.2M124.1,522.3h2.1M126.5,522.3h2.4M129.3,522.3h1.8M133.9,522.3h1.7M143.6,522.3h2.1M90.4,523.1h4.7M99.9,523.1h4.8M105.3,523.1h3.3M115.9,523.1h1.0M134.5,523.1h4.4M143.2,523.1h1.8M145.3,523.1h0.4M90.4,532.4h2.9M93.5,532.4h3.3M97.0,532.4h5.8M103.4,532.4h6.4M110.5,532.4h6.1M124.4,532.4h5.7M130.4,532.4h6.9M137.9,532.4h1.0M143.7,532.4h2.0M95.2,533.3h1.5M97.0,533.3h5.0M102.3,533.3h3.0M106.0,533.3h6.1M112.5,533.3h1.9M115.0,533.3h1.9M121.5,533.3h1.4M124.8,533.3h6.9M132.2,533.3h5.7M138.4,533.3h0.5M142.4,533.3h3.3M89.9,534.4h7.0M97.1,534.4h6.0M103.4,534.4h5.1M108.8,534.4h4.1M118.5,534.4h4.4M125.5,534.4h3.0M129.2,534.4h3.6M133.6,534.4h2.9M137.1,534.4h1.8M142.9,534.4h2.8M90.1,535.4h4.0M94.6,535.4h1.7M96.7,535.4h3.0M100.3,535.4h2.1M102.9,535.4h1.6M104.7,535.4h3.2M108.3,535.4h4.5M113.2,535.4h3.2M124.2,535.4h4.8M129.7,535.4h1.7M131.7,535.4h5.8M138.0,535.4h0.9M141.9,535.4h3.8M90.0,536.4h5.1M95.6,536.4h5.0M101.0,536.4h3.6M105.2,536.4h2.1M107.7,536.4h6.4M114.6,536.4h1.8M122.2,536.4h0.7M125.1,536.4h5.5M131.0,536.4h6.7M138.4,536.4h0.5M144.9,536.4h0.8M90.0,537.3h4.1M94.4,537.3h5.7M100.8,537.3h2.3M103.7,537.3h3.4M107.9,537.3h4.7M112.8,537.3h4.1M119.3,537.3h3.6M124.9,537.3h5.2M130.8,537.3h2.0M138.3,537.3h0.6M142.0,537.3h3.7M90.1,542.3h3.6M94.3,542.3h4.7M99.7,542.3h5.3M105.4,542.3h5.4M111.2,542.3h5.2M126.6,542.3h4.0M137.7,542.3h1.2M140.1,542.3h5.6M90.4,543.4h7.0M97.7,543.4h4.1M102.4,543.4h6.9M109.8,543.4h6.3M116.7,543.4h0.2M120.3,543.4h2.6M126.8,543.4h3.6M131.0,543.4h5.1M136.8,543.4h2.1M143.3,543.4h2.4M90.5,544.3h5.1M103.1,544.3h2.2M105.6,544.3h2.9M108.7,544.3h5.6M120.9,544.3h2.0M128.1,544.3h2.1M130.6,544.3h2.8M133.7,544.3h4.5M138.8,544.3h0.1M143.4,544.3h2.3M90.1,545.2h6.1M96.9,545.2h4.8M102.3,545.2h3.4M106.2,545.2h5.7M112.1,545.2h4.4M116.8,545.2h0.1M120.7,545.2h1.8M122.7,545.2h0.2M129.8,545.2h6.7M136.8,545.2h2.1M90.2,546.1h3.1M93.6,546.1h6.6M101.0,546.1h6.3M107.7,546.1h3.5M111.8,546.1h5.1M119.3,546.1h3.6M125.2,546.1h5.2M130.8,546.1h4.7M136.3,546.1h2.3M90.2,547.2h3.5M94.3,547.2h4.7M101.9,547.2h6.3M108.5,547.2h1.6M110.5,547.2h5.8M116.6,547.2h0.3M129.2,547.2h2.7M132.6,547.2h4.8M137.7,547.2h1.2M144.4,547.2h1.3M90.0,547.3h1.9M100.2,547.3h6.5M114.9,547.3h2.0M135.7,547.3h3.2M141.3,547.3h4.4M90.4,548.2h4.4M95.2,548.2h6.3M104.5,548.2h4.3M109.5,548.2h4.9M115.0,548.2h1.9M119.5,548.2h3.4M124.8,548.2h2.8M128.0,548.2h5.0M142.8,548.2h2.9M90.5,549.1h1.7M108.2,549.1h1.6M110.5,549.1h3.5M114.7,549.1h2.1M121.8,549.1h1.1M124.3,549.1h2.9M89.8,549.9h3.7M97.1,549.9h1.9M110.0,549.9h1.9M112.6,549.9h3.7M116.9,549.9h0.0M90.0,550.9h2.5M93.1,550.9h5.3M99.0,550.9h6.2M105.8,550.9h5.0M111.5,550.9h1.6M113.7,550.9h2.1M116.0,550.9h0.9M128.5,550.9h3.9M144.1,550.9h1.6M90.2,552.0h2.4M96.0,552.0h5.8M102.3,552.0h3.3M106.2,552.0h6.9M113.5,552.0h3.4M121.1,552.0h1.8M130.1,552.0h3.6M134.0,552.0h4.9M140.7,552.0h2.9M90.2,555.9h3.4M94.3,555.9h4.1M99.1,555.9h5.1M104.6,555.9h2.6M107.9,555.9h3.6M111.9,555.9h2.4M114.7,555.9h2.2M125.0,555.9h5.3M131.0,555.9h2.1M133.7,555.9h2.1M136.3,555.9h2.6M142.7,555.9h3.0M89.9,556.8h3.5M94.1,556.8h6.3M100.6,556.8h3.4M104.7,556.8h2.9M108.1,556.8h2.7M111.6,556.8h1.8M113.7,556.8h3.2M120.7,556.8h2.2M124.4,556.8h5.7M130.5,556.8h6.8M137.7,556.8h1.2M144.7,556.8h1.0M90.6,557.6h2.3M93.5,557.6h3.6M97.9,557.6h4.7M103.0,557.6h5.0M108.5,557.6h6.3M115.3,557.6h1.6M122.8,557.6h0.1M127.0,557.6h4.2M131.5,557.6h5.6M137.5,557.6h1.4M141.2,557.6h4.5M90.4,558.7h6.6M97.2,558.7h4.1M101.9,558.7h5.9M108.1,558.7h4.7M113.1,558.7h1.7M115.2,558.7h1.7M122.4,558.7h0.5M126.5,558.7h4.0M131.2,558.7h3.3M138.4,558.7h0.5M143.8,558.7h1.9M90.3,559.7h4.5M95.0,559.7h6.1M104.9,559.7h5.1M110.5,559.7h5.7M116.8,559.7h0.1M129.2,559.7h3.6M133.2,559.7h3.8M137.7,559.7h1.2M90.2,560.7h2.8M93.4,560.7h2.4M96.4,560.7h2.3M99.4,560.7h6.6M106.8,560.7h2.7M113.4,560.7h3.5M119.6,560.7h3.3M126.6,560.7h1.9M128.7,560.7h2.8M132.0,560.7h2.5M138.5,560.7h0.4M140.7,560.7h2.7M144.1,560.7h1.6M90.1,561.6h3.4M94.0,561.6h6.3M100.8,561.6h5.0M106.2,561.6h2.6M109.3,561.6h2.8M112.8,561.6h2.4M115.9,561.6h1.0M120.9,561.6h2.0M125.9,561.6h2.1M128.6,561.6h4.5M133.9,561.6h5.0M140.6,561.6h2.6M143.8,561.6h1.5M89.9,562.4h5.0M101.6,562.4h5.3M107.7,562.4h4.6M112.6,562.4h4.3M121.3,562.4h1.6M132.2,562.4h3.4M135.8,562.4h1.8M137.9,562.4h1.0M140.5,562.4h5.1M101.0,563.3h3.4M104.8,563.3h6.9M112.0,563.3h2.1M114.6,563.3h2.3M120.5,563.3h2.4M127.8,563.3h4.1M132.2,563.3h4.1M136.5,563.3h2.4M141.9,563.3h3.8M90.4,564.3h1.7M92.4,564.3h3.1M100.4,564.3h6.2M106.9,564.3h4.3M111.4,564.3h4.7M116.8,564.3h0.1M120.7,564.3h2.2M124.7,564.3h5.5M130.8,564.3h3.9M135.2,564.3h3.1M138.5,564.3h0.4M141.7,564.3h2.6M145.1,564.3h0.6M89.9,565.2h7.0M97.3,565.2h5.2M102.9,565.2h5.8M112.5,565.2h2.7M115.6,565.2h1.3M118.7,565.2h4.2M130.7,565.2h6.9M144.6,565.2h1.1M90.5,566.1h3.5M94.5,566.1h5.1M100.0,566.1h1.6M101.9,566.1h6.2M108.5,566.1h4.6M113.9,566.1h3.0M121.0,566.1h1.9M127.6,566.1h2.5M130.9,566.1h1.7M133.3,566.1h5.6M140.6,566.1h5.1M90.5,567.2h6.1M97.2,567.2h6.1M103.9,567.2h4.1M108.4,567.2h4.4M113.6,567.2h3.2M126.5,567.2h4.3M131.2,567.2h5.7M137.6,567.2h1.3M140.8,567.2h4.9M90.2,575.2h6.7M97.3,575.2h4.5M102.5,575.2h7.0M109.9,575.2h6.3M116.7,575.2h0.2M122.1,575.2h0.8M128.2,575.2h1.9M130.3,575.2h4.1M138.6,575.2h0.3M142.1,575.2h3.6M90.3,576.0h5.5M96.4,576.0h3.2M100.4,576.0h4.1M104.9,576.0h3.1M114.8,576.0h2.1M125.0,576.0h4.6M130.1,576.0h4.6M135.2,576.0h3.6M141.9,576.0h3.8M90.3,577.2h2.4M93.1,577.2h2.8M96.6,577.2h4.5M101.3,577.2h6.9M108.9,577.2h5.8M115.0,577.2h1.9M118.5,577.2h3.9M122.6,577.2h0.3M132.6,577.2h5.8M138.7,577.2h0.2M90.6,578.1h6.5M97.6,578.1h6.3M104.6,578.1h5.8M113.3,578.1h3.6M119.7,578.1h2.2M122.5,578.1h0.4M127.6,578.1h3.0M131.1,578.1h3.7M145.1,578.1h0.6M96.0,579.0h6.5M102.8,579.0h1.7M104.7,579.0h1.6M107.0,579.0h3.8M111.1,579.0h5.3M116.7,579.0h0.2M118.8,579.0h4.1M124.2,579.0h2.2M132.1,579.0h6.5M138.8,579.0h0.1M144.0,579.0h1.7M90.5,580.0h5.1M96.2,580.0h4.4M101.4,580.0h1.8M103.8,580.0h1.8M106.0,580.0h3.5M110.2,580.0h4.2M115.2,580.0h1.5M128.2,580.0h2.6M131.1,580.0h6.6M137.9,580.0h1.0M141.0,580.0h3.9M90.5,580.9h2.9M102.7,580.9h2.7M105.7,580.9h6.6M112.7,580.9h4.2M118.8,580.9h4.1M125.5,580.9h3.4M129.3,580.9h6.9M136.9,580.9h2.0M141.9,580.9h3.8M95.8,581.9h4.2M100.3,581.9h5.0M105.9,581.9h2.1M115.5,581.9h1.4M121.7,581.9h1.2M127.8,581.9h4.1M132.4,581.9h6.1M144.4,581.9h1.3M115.9,584.0h1.0M90.3,586.4h2.8M93.4,586.4h6.6M100.7,586.4h6.0M106.9,586.4h6.7M114.4,586.4h2.5M122.4,586.4h0.5M129.8,586.4h5.0M135.7,586.4h3.2M89.8,587.3h4.9M95.3,587.3h5.7M101.8,587.3h3.6M105.7,587.3h2.2M108.6,587.3h4.9M113.8,587.3h3.1M118.5,587.3h4.4M124.7,587.3h4.1M129.0,587.3h2.9M142.9,587.3h2.8M89.8,588.2h5.2M95.5,588.2h1.7M97.9,588.2h4.2M102.5,588.2h3.0M110.0,588.2h3.5M113.8,588.2h3.1M119.6,588.2h2.9M137.5,588.2h1.4M142.3,588.2h3.4M90.2,595.0h2.4M93.0,595.0h4.2M97.8,595.0h2.9M101.1,595.0h4.2M105.8,595.0h6.1M119.8,595.0h3.0M130.9,595.0h4.2M135.7,595.0h3.2M90.1,596.0h6.4M97.1,596.0h6.7M104.3,596.0h6.1M113.2,596.0h2.0M115.6,596.0h1.3M118.8,596.0h3.8M127.9,596.0h2.0M130.5,596.0h3.5M134.7,596.0h4.2M109.7,470.5h1.3M113.5,470.5h1.4M114.1,471.4h1.3M111.3,472.3h1.6M113.5,472.3h1.9M115.7,472.3h0.3M109.7,473.2h1.9M109.7,474.1h1.8M114.9,474.1h1.1M109.7,475.0h1.1M111.3,475.0h1.4M113.0,475.0h1.9M115.3,475.0h0.7M111.6,475.9h0.9M112.9,475.9h1.7M115.0,475.9h1.0M111.4,476.8h1.6M113.4,476.8h1.8M115.7,476.8h0.3M119.2,470.5h1.9M121.6,470.5h0.7M119.2,471.4h1.5M120.9,472.3h1.3M119.2,473.2h1.1M120.7,473.2h1.1M122.1,473.2h0.2M119.2,474.1h1.4M121.2,474.1h0.6M119.2,475.0h0.9M121.4,475.9h0.9M119.2,476.8h1.8M121.5,476.8h0.8M124.8,470.5h1.9M130.6,470.5h0.9M124.8,471.4h1.6M127.8,471.4h0.7M129.3,471.4h0.8M124.8,472.3h1.7M126.9,472.3h0.8M128.3,472.3h1.5M130.6,472.3h1.0M124.8,473.2h1.3M126.4,473.2h1.2M128.0,473.2h1.6M130.1,473.2h0.8M124.8,474.1h1.6M126.8,474.1h1.4M128.9,474.1h1.8M131.3,474.1h0.3M124.8,475.0h0.9M126.2,475.0h1.3M129.9,475.0h1.2M124.8,475.9h1.6M127.0,475.9h0.6M128.4,475.9h1.5M124.8,476.8h1.0M126.4,476.8h1.3M130.3,476.8h0.9M131.5,476.8h0.1" stroke="#93bfdc" fill="none" stroke-width="0.95" stroke-opacity="0.85"/>
<path d="M90.5,576.7h0.9v0.9h-0.9zM90.5,553.2h0.9v0.9h-0.9zM90.2,476.4h0.9v0.9h-0.9zM89.8,386.5h0.9v0.9h-0.9zM90.2,410.4h0.9v0.9h-0.9zM90.1,431.5h0.9v0.9h-0.9zM90.4,406.7h0.9v0.9h-0.9zM89.3,570.1h0.9v0.9h-0.9zM89.3,387.0h0.9v0.9h-0.9zM89.6,556.1h0.9v0.9h-0.9zM89.2,446.9h0.9v0.9h-0.9zM89.5,573.3h0.9v0.9h-0.9zM90.0,496.7h0.9v0.9h-0.9zM90.5,473.7h0.9v0.9h-0.9zM90.3,527.8h0.9v0.9h-0.9zM90.5,397.4h0.9v0.9h-0.9zM89.9,440.8h0.9v0.9h-0.9zM90.4,379.9h0.9v0.9h-0.9zM89.9,512.2h0.9v0.9h-0.9zM90.5,493.7h0.9v0.9h-0.9zM89.2,471.9h0.9v0.9h-0.9zM90.1,395.9h0.9v0.9h-0.9zM90.3,508.3h0.9v0.9h-0.9zM89.4,461.4h0.9v0.9h-0.9zM89.2,546.5h0.9v0.9h-0.9zM90.5,547.3h0.9v0.9h-0.9zM90.3,560.6h0.9v0.9h-0.9zM90.2,544.1h0.9v0.9h-0.9zM89.7,532.9h0.9v0.9h-0.9zM89.5,429.5h0.9v0.9h-0.9zM89.4,517.0h0.9v0.9h-0.9zM89.3,481.1h0.9v0.9h-0.9zM90.4,400.8h0.9v0.9h-0.9zM90.3,408.4h0.9v0.9h-0.9zM90.2,519.3h0.9v0.9h-0.9zM89.9,388.3h0.9v0.9h-0.9zM89.8,522.5h0.9v0.9h-0.9zM89.9,580.2h0.9v0.9h-0.9zM90.2,440.4h0.9v0.9h-0.9zM90.3,556.7h0.9v0.9h-0.9zM89.5,553.0h0.9v0.9h-0.9zM90.6,587.1h0.9v0.9h-0.9zM89.6,529.6h0.9v0.9h-0.9zM89.6,395.8h0.9v0.9h-0.9zM90.4,460.3h0.9v0.9h-0.9zM89.6,416.3h0.9v0.9h-0.9zM89.6,565.7h0.9v0.9h-0.9zM90.0,458.6h0.9v0.9h-0.9zM90.5,459.6h0.9v0.9h-0.9zM89.7,463.4h0.9v0.9h-0.9zM89.3,523.5h0.9v0.9h-0.9zM89.9,466.0h0.9v0.9h-0.9zM89.9,596.3h0.9v0.9h-0.9zM90.3,379.5h0.9v0.9h-0.9zM147.7,407.5h0.9v0.9h-0.9zM147.5,430.0h0.9v0.9h-0.9zM147.9,540.7h0.9v0.9h-0.9zM147.4,575.7h0.9v0.9h-0.9zM148.1,487.3h0.9v0.9h-0.9zM148.0,393.6h0.9v0.9h-0.9zM147.0,446.9h0.9v0.9h-0.9zM147.5,511.7h0.9v0.9h-0.9zM147.6,508.1h0.9v0.9h-0.9zM147.0,379.3h0.9v0.9h-0.9zM146.8,437.8h0.9v0.9h-0.9zM147.8,389.9h0.9v0.9h-0.9zM147.3,397.4h0.9v0.9h-0.9zM146.7,578.8h0.9v0.9h-0.9zM148.0,502.5h0.9v0.9h-0.9zM147.7,553.5h0.9v0.9h-0.9zM147.8,467.7h0.9v0.9h-0.9zM146.8,488.9h0.9v0.9h-0.9zM147.2,442.1h0.9v0.9h-0.9zM146.8,451.5h0.9v0.9h-0.9zM147.6,420.5h0.9v0.9h-0.9zM147.4,496.5h0.9v0.9h-0.9zM147.8,516.0h0.9v0.9h-0.9zM147.6,501.2h0.9v0.9h-0.9zM147.1,490.9h0.9v0.9h-0.9zM147.1,542.2h0.9v0.9h-0.9zM146.8,467.4h0.9v0.9h-0.9zM147.5,498.7h0.9v0.9h-0.9zM147.7,477.6h0.9v0.9h-0.9zM146.8,548.9h0.9v0.9h-0.9zM147.8,509.3h0.9v0.9h-0.9zM147.8,497.4h0.9v0.9h-0.9zM147.9,425.9h0.9v0.9h-0.9zM147.2,416.4h0.9v0.9h-0.9zM148.1,499.6h0.9v0.9h-0.9zM147.1,469.1h0.9v0.9h-0.9zM147.5,468.5h0.9v0.9h-0.9zM146.9,407.1h0.9v0.9h-0.9zM147.6,573.2h0.9v0.9h-0.9zM147.3,445.3h0.9v0.9h-0.9zM146.8,440.7h0.9v0.9h-0.9zM147.8,428.9h0.9v0.9h-0.9zM146.9,467.8h0.9v0.9h-0.9zM147.6,575.2h0.9v0.9h-0.9zM147.1,492.0h0.9v0.9h-0.9zM147.1,451.5h0.9v0.9h-0.9zM148.0,418.3h0.9v0.9h-0.9zM148.1,414.2h0.9v0.9h-0.9zM147.1,508.8h0.9v0.9h-0.9zM147.5,384.4h0.9v0.9h-0.9zM147.3,487.8h0.9v0.9h-0.9zM147.5,540.5h0.9v0.9h-0.9zM146.7,524.2h0.9v0.9h-0.9zM147.3,560.4h0.9v0.9h-0.9zM147.3,583.4h0.9v0.9h-0.9zM146.8,489.8h0.9v0.9h-0.9zM147.4,461.1h0.9v0.9h-0.9zM147.5,384.0h0.9v0.9h-0.9zM153.3,531.6h0.9v0.9h-0.9zM153.1,506.1h0.9v0.9h-0.9zM152.7,453.1h0.9v0.9h-0.9zM152.1,557.8h0.9v0.9h-0.9zM153.2,468.9h0.9v0.9h-0.9zM153.5,410.1h0.9v0.9h-0.9zM152.7,486.4h0.9v0.9h-0.9zM152.1,573.2h0.9v0.9h-0.9zM152.7,472.6h0.9v0.9h-0.9zM152.6,488.7h0.9v0.9h-0.9zM152.4,590.1h0.9v0.9h-0.9zM152.7,397.8h0.9v0.9h-0.9zM153.3,564.5h0.9v0.9h-0.9zM153.4,585.8h0.9v0.9h-0.9zM153.0,537.9h0.9v0.9h-0.9zM153.4,395.6h0.9v0.9h-0.9zM152.6,570.1h0.9v0.9h-0.9zM152.3,518.2h0.9v0.9h-0.9zM152.9,535.0h0.9v0.9h-0.9zM152.7,540.1h0.9v0.9h-0.9zM153.2,517.7h0.9v0.9h-0.9zM152.2,591.3h0.9v0.9h-0.9zM152.5,564.2h0.9v0.9h-0.9zM152.3,433.1h0.9v0.9h-0.9zM152.2,406.7h0.9v0.9h-0.9zM152.2,561.6h0.9v0.9h-0.9zM152.5,449.3h0.9v0.9h-0.9zM152.5,463.4h0.9v0.9h-0.9zM152.7,519.6h0.9v0.9h-0.9zM153.1,544.3h0.9v0.9h-0.9zM152.3,561.5h0.9v0.9h-0.9zM152.1,450.0h0.9v0.9h-0.9zM152.2,527.5h0.9v0.9h-0.9zM153.4,532.5h0.9v0.9h-0.9zM152.4,503.5h0.9v0.9h-0.9zM152.4,452.2h0.9v0.9h-0.9zM152.7,596.7h0.9v0.9h-0.9zM152.8,473.8h0.9v0.9h-0.9zM153.0,575.2h0.9v0.9h-0.9zM152.3,408.4h0.9v0.9h-0.9zM153.4,559.8h0.9v0.9h-0.9zM152.3,586.3h0.9v0.9h-0.9zM152.4,511.3h0.9v0.9h-0.9zM153.2,433.7h0.9v0.9h-0.9zM153.1,453.7h0.9v0.9h-0.9zM153.3,554.2h0.9v0.9h-0.9zM152.6,442.3h0.9v0.9h-0.9zM152.2,570.2h0.9v0.9h-0.9zM152.7,409.5h0.9v0.9h-0.9zM152.5,410.7h0.9v0.9h-0.9zM152.3,388.9h0.9v0.9h-0.9zM153.2,469.1h0.9v0.9h-0.9zM153.4,460.1h0.9v0.9h-0.9zM152.8,427.7h0.9v0.9h-0.9zM153.4,510.7h0.9v0.9h-0.9zM152.4,385.7h0.9v0.9h-0.9zM152.4,425.7h0.9v0.9h-0.9zM153.1,486.3h0.9v0.9h-0.9zM152.5,429.4h0.9v0.9h-0.9zM153.4,404.2h0.9v0.9h-0.9zM152.7,453.4h0.9v0.9h-0.9zM152.8,551.9h0.9v0.9h-0.9zM152.4,546.9h0.9v0.9h-0.9zM153.2,454.7h0.9v0.9h-0.9zM152.8,486.5h0.9v0.9h-0.9zM152.3,519.5h0.9v0.9h-0.9zM153.5,388.0h0.9v0.9h-0.9zM153.4,384.8h0.9v0.9h-0.9zM153.5,521.9h0.9v0.9h-0.9zM153.0,381.2h0.9v0.9h-0.9zM154.7,397.1h0.9v0.9h-0.9zM154.2,562.9h0.9v0.9h-0.9zM154.1,518.9h0.9v0.9h-0.9zM154.5,441.2h0.9v0.9h-0.9zM155.1,523.9h0.9v0.9h-0.9zM154.1,408.2h0.9v0.9h-0.9zM154.2,565.4h0.9v0.9h-0.9zM154.7,406.0h0.9v0.9h-0.9zM155.1,569.0h0.9v0.9h-0.9zM153.9,592.8h0.9v0.9h-0.9zM154.8,397.0h0.9v0.9h-0.9zM154.2,555.2h0.9v0.9h-0.9zM154.1,512.4h0.9v0.9h-0.9zM153.9,413.5h0.9v0.9h-0.9zM155.0,394.8h0.9v0.9h-0.9zM154.7,430.0h0.9v0.9h-0.9zM154.6,411.2h0.9v0.9h-0.9zM154.2,470.2h0.9v0.9h-0.9zM154.9,398.4h0.9v0.9h-0.9zM155.1,578.1h0.9v0.9h-0.9zM155.0,441.8h0.9v0.9h-0.9zM155.0,579.2h0.9v0.9h-0.9zM155.0,500.4h0.9v0.9h-0.9zM154.2,447.0h0.9v0.9h-0.9zM153.7,401.7h0.9v0.9h-0.9zM154.1,473.0h0.9v0.9h-0.9zM154.7,441.0h0.9v0.9h-0.9zM153.9,530.6h0.9v0.9h-0.9zM154.9,508.2h0.9v0.9h-0.9zM154.5,564.3h0.9v0.9h-0.9zM154.7,394.3h0.9v0.9h-0.9zM155.1,384.1h0.9v0.9h-0.9zM154.9,445.4h0.9v0.9h-0.9zM154.8,551.3h0.9v0.9h-0.9zM154.8,460.8h0.9v0.9h-0.9zM154.6,516.6h0.9v0.9h-0.9zM154.8,496.1h0.9v0.9h-0.9zM154.0,577.2h0.9v0.9h-0.9zM154.9,581.4h0.9v0.9h-0.9zM154.4,458.7h0.9v0.9h-0.9zM155.0,544.9h0.9v0.9h-0.9zM154.9,505.4h0.9v0.9h-0.9zM154.3,448.5h0.9v0.9h-0.9zM153.7,444.4h0.9v0.9h-0.9zM155.0,539.7h0.9v0.9h-0.9zM154.2,497.1h0.9v0.9h-0.9zM154.1,478.7h0.9v0.9h-0.9zM154.2,565.6h0.9v0.9h-0.9zM155.0,512.1h0.9v0.9h-0.9zM154.5,563.1h0.9v0.9h-0.9zM154.4,443.8h0.9v0.9h-0.9zM154.8,392.9h0.9v0.9h-0.9zM155.0,559.5h0.9v0.9h-0.9zM154.7,448.5h0.9v0.9h-0.9zM154.6,539.7h0.9v0.9h-0.9zM154.7,564.8h0.9v0.9h-0.9zM154.9,561.5h0.9v0.9h-0.9zM154.6,548.0h0.9v0.9h-0.9zM158.2,513.3h0.9v0.9h-0.9zM158.6,535.8h0.9v0.9h-0.9zM157.9,391.0h0.9v0.9h-0.9zM158.4,563.8h0.9v0.9h-0.9zM158.8,385.5h0.9v0.9h-0.9zM158.5,587.0h0.9v0.9h-0.9zM158.6,419.4h0.9v0.9h-0.9zM158.0,528.8h0.9v0.9h-0.9zM158.0,596.8h0.9v0.9h-0.9zM158.8,406.4h0.9v0.9h-0.9zM157.7,509.5h0.9v0.9h-0.9zM158.9,596.8h0.9v0.9h-0.9zM158.9,478.2h0.9v0.9h-0.9zM162.0,396.1h0.9v0.9h-0.9zM161.1,404.8h0.9v0.9h-0.9zM161.6,535.1h0.9v0.9h-0.9zM161.2,484.5h0.9v0.9h-0.9zM161.7,550.3h0.9v0.9h-0.9zM161.9,572.1h0.9v0.9h-0.9zM162.2,378.0h0.9v0.9h-0.9zM161.5,447.4h0.9v0.9h-0.9zM161.9,389.1h0.9v0.9h-0.9zM162.3,453.7h0.9v0.9h-0.9zM161.1,540.9h0.9v0.9h-0.9zM161.0,567.3h0.9v0.9h-0.9zM119.9,519.0h0.9v0.9h-0.9zM120.1,381.5h0.9v0.9h-0.9zM120.6,477.2h0.9v0.9h-0.9zM120.5,588.7h0.9v0.9h-0.9zM120.2,486.8h0.9v0.9h-0.9zM121.1,549.1h0.9v0.9h-0.9zM120.9,413.8h0.9v0.9h-0.9zM120.9,515.3h0.9v0.9h-0.9zM120.4,522.5h0.9v0.9h-0.9zM120.9,556.2h0.9v0.9h-0.9zM120.8,519.6h0.9v0.9h-0.9zM120.9,473.2h0.9v0.9h-0.9zM119.9,436.8h0.9v0.9h-0.9zM121.0,397.4h0.9v0.9h-0.9zM120.0,510.4h0.9v0.9h-0.9zM120.6,569.3h0.9v0.9h-0.9zM121.1,430.9h0.9v0.9h-0.9zM103.2,532.6h0.9v0.9h-0.9zM103.4,424.5h0.9v0.9h-0.9zM103.1,405.7h0.9v0.9h-0.9zM102.3,453.2h0.9v0.9h-0.9zM102.7,444.0h0.9v0.9h-0.9zM102.8,414.7h0.9v0.9h-0.9zM103.4,414.4h0.9v0.9h-0.9zM102.7,496.4h0.9v0.9h-0.9zM102.7,431.6h0.9v0.9h-0.9zM102.7,441.7h0.9v0.9h-0.9zM103.4,422.6h0.9v0.9h-0.9zM102.4,519.6h0.9v0.9h-0.9zM152.8,495.3h0.9v0.9h-0.9zM121.4,405.2h0.9v0.9h-0.9zM127.4,413.7h0.9v0.9h-0.9zM102.1,464.2h0.9v0.9h-0.9zM125.0,482.7h0.9v0.9h-0.9zM136.1,460.0h0.9v0.9h-0.9zM157.2,476.1h0.9v0.9h-0.9zM158.7,479.6h0.9v0.9h-0.9zM112.1,407.8h0.9v0.9h-0.9zM114.0,509.0h0.9v0.9h-0.9zM112.4,460.4h0.9v0.9h-0.9zM153.5,578.9h0.9v0.9h-0.9zM98.5,424.7h0.9v0.9h-0.9zM151.9,425.3h0.9v0.9h-0.9zM145.9,577.6h0.9v0.9h-0.9zM120.1,524.7h0.9v0.9h-0.9zM98.1,527.9h0.9v0.9h-0.9zM146.1,473.3h0.9v0.9h-0.9zM141.6,431.1h0.9v0.9h-0.9zM152.9,441.8h0.9v0.9h-0.9zM95.7,589.1h0.9v0.9h-0.9zM135.4,433.4h0.9v0.9h-0.9zM141.8,419.0h0.9v0.9h-0.9zM108.5,556.2h0.9v0.9h-0.9zM155.8,464.5h0.9v0.9h-0.9zM115.2,381.3h0.9v0.9h-0.9zM136.0,399.2h0.9v0.9h-0.9zM91.3,465.6h0.9v0.9h-0.9zM107.9,567.3h0.9v0.9h-0.9zM90.9,550.4h0.9v0.9h-0.9zM106.9,424.1h0.9v0.9h-0.9zM141.8,465.4h0.9v0.9h-0.9zM92.5,514.8h0.9v0.9h-0.9zM134.7,474.5h0.9v0.9h-0.9zM140.5,381.9h0.9v0.9h-0.9zM113.6,405.1h0.9v0.9h-0.9zM135.8,445.5h0.9v0.9h-0.9zM158.3,542.8h0.9v0.9h-0.9zM127.9,480.3h0.9v0.9h-0.9zM118.6,585.8h0.9v0.9h-0.9zM151.1,477.7h0.9v0.9h-0.9zM159.1,412.8h0.9v0.9h-0.9zM119.6,386.8h0.9v0.9h-0.9zM133.0,594.5h0.9v0.9h-0.9zM109.8,529.6h0.9v0.9h-0.9zM127.5,419.9h0.9v0.9h-0.9zM151.6,590.4h0.9v0.9h-0.9zM103.1,445.0h0.9v0.9h-0.9zM103.3,520.2h0.9v0.9h-0.9zM107.1,434.7h0.9v0.9h-0.9zM95.5,405.3h0.9v0.9h-0.9zM154.6,436.1h0.9v0.9h-0.9zM121.2,517.1h0.9v0.9h-0.9zM99.5,463.2h0.9v0.9h-0.9zM98.2,390.8h0.9v0.9h-0.9zM133.4,532.9h0.9v0.9h-0.9zM151.3,412.8h0.9v0.9h-0.9zM158.8,486.3h0.9v0.9h-0.9zM142.7,398.9h0.9v0.9h-0.9zM133.6,475.0h0.9v0.9h-0.9zM130.2,551.4h0.9v0.9h-0.9zM91.3,447.7h0.9v0.9h-0.9zM93.8,503.0h0.9v0.9h-0.9zM108.1,520.1h0.9v0.9h-0.9zM108.6,533.9h0.9v0.9h-0.9zM90.1,459.4h0.9v0.9h-0.9zM159.2,476.8h0.9v0.9h-0.9zM113.9,507.6h0.9v0.9h-0.9zM112.1,380.3h0.9v0.9h-0.9zM147.3,449.0h0.9v0.9h-0.9zM126.5,412.7h0.9v0.9h-0.9zM134.9,500.0h0.9v0.9h-0.9zM94.4,589.2h0.9v0.9h-0.9zM143.6,435.5h0.9v0.9h-0.9zM108.3,383.0h0.9v0.9h-0.9zM126.8,466.8h0.9v0.9h-0.9zM115.3,384.9h0.9v0.9h-0.9zM92.5,501.1h0.9v0.9h-0.9zM155.5,421.3h0.9v0.9h-0.9zM140.5,542.5h0.9v0.9h-0.9zM126.3,572.9h0.9v0.9h-0.9zM103.5,560.7h0.9v0.9h-0.9zM99.5,389.5h0.9v0.9h-0.9zM92.1,403.1h0.9v0.9h-0.9zM95.6,508.7h0.9v0.9h-0.9zM153.3,563.8h0.9v0.9h-0.9zM138.4,419.0h0.9v0.9h-0.9zM154.5,466.6h0.9v0.9h-0.9zM131.5,564.9h0.9v0.9h-0.9zM121.1,516.3h0.9v0.9h-0.9zM132.1,416.4h0.9v0.9h-0.9zM96.7,386.5h0.9v0.9h-0.9zM108.4,464.7h0.9v0.9h-0.9zM127.5,550.8h0.9v0.9h-0.9zM120.2,591.2h0.9v0.9h-0.9zM100.5,559.3h0.9v0.9h-0.9zM157.0,471.7h0.9v0.9h-0.9zM108.4,414.4h0.9v0.9h-0.9zM151.7,581.4h0.9v0.9h-0.9zM155.2,407.9h0.9v0.9h-0.9zM99.2,523.1h0.9v0.9h-0.9zM98.4,588.5h0.9v0.9h-0.9zM141.4,433.4h0.9v0.9h-0.9zM136.5,386.6h0.9v0.9h-0.9zM92.8,392.8h0.9v0.9h-0.9zM91.4,447.2h0.9v0.9h-0.9zM116.7,445.2h0.9v0.9h-0.9zM103.0,447.0h0.9v0.9h-0.9zM159.7,510.9h0.9v0.9h-0.9zM105.2,498.6h0.9v0.9h-0.9zM115.5,479.2h0.9v0.9h-0.9zM99.2,503.1h0.9v0.9h-0.9zM153.8,579.4h0.9v0.9h-0.9zM100.1,450.4h0.9v0.9h-0.9zM137.6,510.5h0.9v0.9h-0.9zM98.1,445.4h0.9v0.9h-0.9zM104.4,454.7h0.9v0.9h-0.9zM124.8,476.3h0.9v0.9h-0.9zM100.5,563.6h0.9v0.9h-0.9zM113.1,479.0h0.9v0.9h-0.9zM115.1,493.0h0.9v0.9h-0.9zM114.6,595.3h0.9v0.9h-0.9zM158.7,506.4h0.9v0.9h-0.9zM126.7,525.4h0.9v0.9h-0.9zM155.8,542.4h0.9v0.9h-0.9zM107.2,441.8h0.9v0.9h-0.9zM110.5,578.0h0.9v0.9h-0.9zM92.4,448.0h0.9v0.9h-0.9zM111.1,486.4h0.9v0.9h-0.9zM95.3,412.9h0.9v0.9h-0.9zM92.0,556.1h0.9v0.9h-0.9zM137.1,548.8h0.9v0.9h-0.9zM140.5,471.2h0.9v0.9h-0.9zM127.0,523.8h0.9v0.9h-0.9zM91.8,577.7h0.9v0.9h-0.9zM120.7,596.1h0.9v0.9h-0.9zM157.8,592.9h0.9v0.9h-0.9zM90.9,467.3h0.9v0.9h-0.9zM140.2,517.1h0.9v0.9h-0.9zM96.2,568.7h0.9v0.9h-0.9zM132.6,437.2h0.9v0.9h-0.9zM153.7,402.2h0.9v0.9h-0.9zM103.2,557.7h0.9v0.9h-0.9zM135.5,540.8h0.9v0.9h-0.9zM90.0,472.7h0.9v0.9h-0.9zM118.8,436.5h0.9v0.9h-0.9zM126.6,564.4h0.9v0.9h-0.9zM137.3,461.0h0.9v0.9h-0.9zM92.5,516.0h0.9v0.9h-0.9zM110.7,592.9h0.9v0.9h-0.9zM97.7,426.0h0.9v0.9h-0.9zM116.6,383.1h0.9v0.9h-0.9zM144.3,478.0h0.9v0.9h-0.9zM136.2,481.0h0.9v0.9h-0.9zM90.1,564.4h0.9v0.9h-0.9zM120.3,565.4h0.9v0.9h-0.9zM89.9,380.4h0.9v0.9h-0.9zM102.9,511.3h0.9v0.9h-0.9zM95.2,561.6h0.9v0.9h-0.9zM125.1,547.4h0.9v0.9h-0.9zM147.4,420.5h0.9v0.9h-0.9zM137.9,513.4h0.9v0.9h-0.9zM92.9,586.6h0.9v0.9h-0.9zM157.2,403.0h0.9v0.9h-0.9zM119.2,536.8h0.9v0.9h-0.9zM93.7,522.8h0.9v0.9h-0.9zM115.0,580.7h0.9v0.9h-0.9zM148.4,486.1h0.9v0.9h-0.9zM98.3,525.0h0.9v0.9h-0.9zM106.9,509.4h0.9v0.9h-0.9zM124.2,576.2h0.9v0.9h-0.9zM125.8,388.3h0.9v0.9h-0.9zM109.0,544.8h0.9v0.9h-0.9zM129.8,560.2h0.9v0.9h-0.9zM153.8,433.0h0.9v0.9h-0.9zM103.3,533.0h0.9v0.9h-0.9zM144.0,544.0h0.9v0.9h-0.9zM120.3,504.4h0.9v0.9h-0.9zM128.0,556.3h0.9v0.9h-0.9zM125.9,461.5h0.9v0.9h-0.9zM92.3,524.8h0.9v0.9h-0.9zM112.6,399.2h0.9v0.9h-0.9zM121.2,416.9h0.9v0.9h-0.9zM141.7,393.6h0.9v0.9h-0.9zM102.5,485.9h0.9v0.9h-0.9zM147.3,440.4h0.9v0.9h-0.9zM155.1,522.9h0.9v0.9h-0.9zM97.9,400.9h0.9v0.9h-0.9zM138.6,479.1h0.9v0.9h-0.9zM134.5,521.0h0.9v0.9h-0.9zM95.1,397.8h0.9v0.9h-0.9zM146.9,406.4h0.9v0.9h-0.9zM159.9,582.7h0.9v0.9h-0.9zM115.5,580.3h0.9v0.9h-0.9zM159.5,433.5h0.9v0.9h-0.9zM133.0,528.1h0.9v0.9h-0.9zM89.1,459.0h0.9v0.9h-0.9zM156.8,414.5h0.9v0.9h-0.9zM147.4,407.0h0.9v0.9h-0.9zM149.9,535.8h0.9v0.9h-0.9zM158.6,573.5h0.9v0.9h-0.9zM151.4,594.9h0.9v0.9h-0.9zM107.7,523.5h0.9v0.9h-0.9zM101.4,586.6h0.9v0.9h-0.9zM138.9,524.1h0.9v0.9h-0.9zM132.6,476.7h0.9v0.9h-0.9zM142.1,418.1h0.9v0.9h-0.9zM147.4,510.5h0.9v0.9h-0.9zM122.4,545.1h0.9v0.9h-0.9zM153.4,462.6h0.9v0.9h-0.9zM96.3,530.4h0.9v0.9h-0.9zM144.0,455.2h0.9v0.9h-0.9zM98.0,431.3h0.9v0.9h-0.9zM149.0,417.7h0.9v0.9h-0.9zM115.8,422.1h0.9v0.9h-0.9zM102.7,532.6h0.9v0.9h-0.9zM103.9,554.1h0.9v0.9h-0.9zM126.2,494.2h0.9v0.9h-0.9zM111.9,594.8h0.9v0.9h-0.9zM135.8,391.1h0.9v0.9h-0.9zM151.2,544.5h0.9v0.9h-0.9zM112.1,457.8h0.9v0.9h-0.9zM97.0,385.8h0.9v0.9h-0.9zM92.8,392.6h0.9v0.9h-0.9zM127.6,558.5h0.9v0.9h-0.9zM146.0,465.0h0.9v0.9h-0.9zM101.2,529.6h0.9v0.9h-0.9zM143.7,567.2h0.9v0.9h-0.9zM101.2,589.0h0.9v0.9h-0.9zM133.8,474.7h0.9v0.9h-0.9zM97.8,590.1h0.9v0.9h-0.9zM134.3,528.8h0.9v0.9h-0.9zM147.0,429.2h0.9v0.9h-0.9zM138.8,437.9h0.9v0.9h-0.9zM103.8,508.7h0.9v0.9h-0.9zM122.3,423.7h0.9v0.9h-0.9zM104.0,498.0h0.9v0.9h-0.9zM150.7,559.5h0.9v0.9h-0.9zM159.8,513.6h0.9v0.9h-0.9zM147.3,587.9h0.9v0.9h-0.9zM91.0,453.1h0.9v0.9h-0.9zM152.9,537.7h0.9v0.9h-0.9zM98.6,541.3h0.9v0.9h-0.9zM128.2,396.5h0.9v0.9h-0.9z" fill="#93bfdc" fill-opacity="0.85"/>
<path d="M96.1,379.1h6.4M138.3,380.2h0.6M105.7,387.6h2.7M93.7,388.4h3.2M115.4,397.9h1.5M142.5,398.9h3.2M90.5,400.8h1.6M122.0,402.8h0.9M98.0,408.8h3.0M90.6,417.7h1.6M106.1,417.7h3.3M110.0,417.7h5.4M116.0,417.7h0.9M92.6,418.7h3.1M120.9,418.7h2.0M140.9,418.7h4.1M107.6,419.8h3.4M133.4,428.2h2.3M109.2,449.5h5.8M120.1,449.5h2.8M93.6,451.7h5.0M143.8,451.7h1.9M116.2,452.8h0.7M126.2,452.8h4.7M140.7,452.8h3.7M90.0,456.9h2.7M93.1,456.9h2.1M110.8,457.9h1.8M120.4,457.9h2.5M126.1,457.9h6.5M105.4,458.7h6.8M112.8,458.7h2.0M130.8,458.7h6.7M100.0,486.7h5.7M106.3,486.7h3.4M129.2,486.7h4.7M142.6,486.7h3.1M101.6,487.5h5.9M94.9,488.6h3.2M112.9,488.6h4.0M129.9,488.6h1.7M115.8,489.7h1.1M135.5,489.7h3.4M94.9,490.7h4.0M127.5,490.7h6.4M134.4,490.7h4.2M110.1,499.2h2.6M119.9,501.3h3.0M102.9,508.6h3.1M115.1,510.6h1.8M131.6,522.3h2.1M136.3,522.3h2.6M120.7,523.1h2.2M140.5,523.1h2.5M113.5,534.4h3.4M133.6,537.3h4.0M131.0,542.3h6.0M96.3,544.3h6.1M99.7,547.2h1.8M92.2,547.3h4.3M101.7,559.7h2.9M108.4,576.0h6.1M129.8,577.2h2.4M111.0,578.1h1.7M90.0,579.0h5.4M127.0,579.0h4.4M94.2,580.9h3.4M112.7,583.2h4.2M104.0,584.0h6.9M133.0,584.0h2.2M137.6,587.3h1.3M112.4,595.0h4.5M140.2,596.0h5.5" stroke="#fcc53a" fill="none" stroke-width="0.95" stroke-opacity="0.85"/>
<path d="M89.2,517.6h0.9v0.9h-0.9zM89.4,388.5h0.9v0.9h-0.9zM90.5,586.9h0.9v0.9h-0.9zM90.3,450.0h0.9v0.9h-0.9zM90.4,434.4h0.9v0.9h-0.9zM90.4,510.3h0.9v0.9h-0.9zM90.0,591.1h0.9v0.9h-0.9zM90.3,542.9h0.9v0.9h-0.9zM89.9,457.6h0.9v0.9h-0.9zM90.0,422.2h0.9v0.9h-0.9zM90.1,530.9h0.9v0.9h-0.9zM89.9,521.6h0.9v0.9h-0.9zM90.1,545.3h0.9v0.9h-0.9zM89.6,493.3h0.9v0.9h-0.9zM90.6,488.0h0.9v0.9h-0.9zM90.2,436.0h0.9v0.9h-0.9zM89.9,509.1h0.9v0.9h-0.9zM90.4,396.9h0.9v0.9h-0.9zM147.4,561.0h0.9v0.9h-0.9zM147.6,533.6h0.9v0.9h-0.9zM147.5,476.6h0.9v0.9h-0.9zM147.9,454.9h0.9v0.9h-0.9zM147.0,494.1h0.9v0.9h-0.9zM147.5,471.1h0.9v0.9h-0.9zM147.6,588.4h0.9v0.9h-0.9zM148.0,458.3h0.9v0.9h-0.9zM147.5,395.5h0.9v0.9h-0.9zM147.6,565.0h0.9v0.9h-0.9zM147.3,523.8h0.9v0.9h-0.9zM147.2,484.3h0.9v0.9h-0.9zM146.9,446.4h0.9v0.9h-0.9zM147.3,500.7h0.9v0.9h-0.9zM153.2,444.4h0.9v0.9h-0.9zM152.4,409.1h0.9v0.9h-0.9zM153.2,445.5h0.9v0.9h-0.9zM153.1,409.4h0.9v0.9h-0.9zM152.4,414.7h0.9v0.9h-0.9zM152.8,577.2h0.9v0.9h-0.9zM153.5,589.9h0.9v0.9h-0.9zM152.4,427.2h0.9v0.9h-0.9zM152.8,499.4h0.9v0.9h-0.9zM153.0,498.9h0.9v0.9h-0.9zM153.4,460.9h0.9v0.9h-0.9zM153.3,528.8h0.9v0.9h-0.9zM152.9,577.4h0.9v0.9h-0.9zM153.4,445.7h0.9v0.9h-0.9zM154.5,440.7h0.9v0.9h-0.9zM155.1,449.4h0.9v0.9h-0.9zM154.8,487.5h0.9v0.9h-0.9zM154.7,548.2h0.9v0.9h-0.9zM155.1,389.9h0.9v0.9h-0.9zM154.8,421.8h0.9v0.9h-0.9zM155.0,587.6h0.9v0.9h-0.9zM153.9,580.7h0.9v0.9h-0.9zM154.1,550.5h0.9v0.9h-0.9zM157.8,596.5h0.9v0.9h-0.9zM120.3,494.6h0.9v0.9h-0.9zM121.1,490.7h0.9v0.9h-0.9zM120.6,415.5h0.9v0.9h-0.9zM120.6,528.9h0.9v0.9h-0.9zM120.2,566.0h0.9v0.9h-0.9zM120.5,481.8h0.9v0.9h-0.9zM121.1,594.3h0.9v0.9h-0.9zM120.1,531.7h0.9v0.9h-0.9zM119.9,495.2h0.9v0.9h-0.9zM121.2,476.0h0.9v0.9h-0.9zM121.2,489.1h0.9v0.9h-0.9zM103.4,555.7h0.9v0.9h-0.9zM102.6,443.6h0.9v0.9h-0.9zM102.5,392.8h0.9v0.9h-0.9zM103.3,412.2h0.9v0.9h-0.9zM102.8,522.1h0.9v0.9h-0.9zM103.7,471.9h0.9v0.9h-0.9zM102.5,574.4h0.9v0.9h-0.9zM108.7,469.0h0.9v0.9h-0.9zM93.1,545.4h0.9v0.9h-0.9zM99.0,419.2h0.9v0.9h-0.9zM148.3,413.0h0.9v0.9h-0.9zM154.0,564.1h0.9v0.9h-0.9zM135.0,458.1h0.9v0.9h-0.9zM136.5,505.3h0.9v0.9h-0.9zM102.3,422.5h0.9v0.9h-0.9zM143.5,508.5h0.9v0.9h-0.9zM103.8,460.9h0.9v0.9h-0.9zM156.1,534.5h0.9v0.9h-0.9zM141.5,508.7h0.9v0.9h-0.9zM109.0,487.3h0.9v0.9h-0.9zM111.9,577.3h0.9v0.9h-0.9zM112.3,425.9h0.9v0.9h-0.9zM156.4,538.3h0.9v0.9h-0.9zM156.4,412.9h0.9v0.9h-0.9zM106.9,487.9h0.9v0.9h-0.9zM95.2,395.7h0.9v0.9h-0.9zM129.0,443.5h0.9v0.9h-0.9zM147.5,401.4h0.9v0.9h-0.9zM153.5,455.0h0.9v0.9h-0.9zM144.5,452.0h0.9v0.9h-0.9z" fill="#fcc53a" fill-opacity="0.85"/>
<path d="M97.4,425.8h4.6M102.6,425.8h2.1M105.0,425.8h5.1M110.8,425.8h2.1M113.1,425.8h3.8M133.9,425.8h5.0M94.2,426.7h4.6M99.3,426.7h6.7M106.7,426.7h3.9M130.1,426.7h4.5M142.0,426.7h3.7M103.6,499.2h6.0M113.0,499.2h3.9M90.2,500.3h4.3M103.2,500.3h5.9M128.3,500.3h3.3M132.1,500.3h6.5M108.4,501.3h2.4M111.1,501.3h5.1M141.4,501.3h4.3M134.8,575.2h3.5M145.4,577.2h0.3M98.1,580.9h4.0" stroke="#f7996f" fill="none" stroke-width="0.95" stroke-opacity="0.85"/>
<path d="M152.8,524.4h0.9v0.9h-0.9zM154.8,386.2h0.9v0.9h-0.9zM133.6,443.4h0.9v0.9h-0.9zM146.8,417.5h0.9v0.9h-0.9zM131.7,593.4h0.9v0.9h-0.9zM124.7,571.3h0.9v0.9h-0.9zM136.3,456.2h0.9v0.9h-0.9zM152.8,450.5h0.9v0.9h-0.9zM136.3,463.6h0.9v0.9h-0.9zM149.3,479.1h0.9v0.9h-0.9zM149.2,502.5h0.9v0.9h-0.9zM113.3,537.9h0.9v0.9h-0.9zM125.9,458.9h0.9v0.9h-0.9zM155.8,428.6h0.9v0.9h-0.9z" fill="#f7996f" fill-opacity="0.85"/>
<rect x="83.40" y="367.40" width="82.60" height="239.80" fill="none" stroke="#9a9a9a" stroke-width="0.9"/>
<rect x="83.90" y="367.90" width="40.00" height="10.20" fill="#fff"/>
<text x="87.60" y="375.00" font-size="8.4" fill="#111">All lines</text>
<line x1="166.00" y1="383.50" x2="168.20" y2="383.50" stroke="#333" stroke-width="0.7"/>
<text x="169.20" y="386.90" font-size="9.4" fill="#222">7D</text>
<line x1="166.00" y1="393.60" x2="168.20" y2="393.60" stroke="#333" stroke-width="0.7"/>
<text x="169.20" y="397.00" font-size="9.4" fill="#222">7B</text>
<line x1="166.00" y1="405.40" x2="168.20" y2="405.40" stroke="#333" stroke-width="0.7"/>
<text x="169.20" y="408.80" font-size="9.4" fill="#222">7A</text>
<line x1="166.00" y1="414.50" x2="168.20" y2="414.50" stroke="#333" stroke-width="0.7"/>
<text x="169.20" y="417.90" font-size="9.4" fill="#222">6D</text>
<line x1="166.00" y1="423.40" x2="168.20" y2="423.40" stroke="#333" stroke-width="0.7"/>
<text x="169.20" y="426.80" font-size="9.4" fill="#222">6B</text>
<line x1="166.00" y1="434.30" x2="168.20" y2="434.30" stroke="#333" stroke-width="0.7"/>
<text x="169.20" y="437.70" font-size="9.4" fill="#222">6A</text>
<line x1="166.00" y1="443.00" x2="168.20" y2="443.00" stroke="#333" stroke-width="0.7"/>
<text x="169.20" y="446.40" font-size="9.4" fill="#222">5D</text>
<line x1="166.00" y1="453.60" x2="168.20" y2="453.60" stroke="#333" stroke-width="0.7"/>
<text x="169.20" y="457.00" font-size="9.4" fill="#222">5B</text>
<line x1="166.00" y1="464.00" x2="168.20" y2="464.00" stroke="#333" stroke-width="0.7"/>
<text x="169.20" y="467.40" font-size="9.4" fill="#222">5A</text>
<line x1="166.00" y1="473.80" x2="168.20" y2="473.80" stroke="#333" stroke-width="0.7"/>
<text x="169.20" y="477.20" font-size="9.4" fill="#222">4D</text>
<line x1="166.00" y1="483.20" x2="168.20" y2="483.20" stroke="#333" stroke-width="0.7"/>
<text x="169.20" y="486.60" font-size="9.4" fill="#222">4B</text>
<line x1="166.00" y1="494.00" x2="168.20" y2="494.00" stroke="#333" stroke-width="0.7"/>
<text x="169.20" y="497.40" font-size="9.4" fill="#222">4A</text>
<line x1="166.00" y1="504.50" x2="168.20" y2="504.50" stroke="#333" stroke-width="0.7"/>
<text x="169.20" y="507.90" font-size="9.4" fill="#222">3D</text>
<line x1="166.00" y1="515.40" x2="168.20" y2="515.40" stroke="#333" stroke-width="0.7"/>
<text x="169.20" y="518.80" font-size="9.4" fill="#222">3B</text>
<line x1="166.00" y1="527.50" x2="168.20" y2="527.50" stroke="#333" stroke-width="0.7"/>
<text x="169.20" y="530.90" font-size="9.4" fill="#222">3A</text>
<line x1="166.00" y1="538.90" x2="168.20" y2="538.90" stroke="#333" stroke-width="0.7"/>
<text x="169.20" y="542.30" font-size="9.4" fill="#222">2D</text>
<line x1="166.00" y1="550.90" x2="168.20" y2="550.90" stroke="#333" stroke-width="0.7"/>
<text x="169.20" y="554.30" font-size="9.4" fill="#222">2B</text>
<line x1="166.00" y1="562.50" x2="168.20" y2="562.50" stroke="#333" stroke-width="0.7"/>
<text x="169.20" y="565.90" font-size="9.4" fill="#222">2A</text>
<line x1="166.00" y1="571.80" x2="168.20" y2="571.80" stroke="#333" stroke-width="0.7"/>
<text x="169.20" y="575.20" font-size="9.4" fill="#222">1D</text>
<line x1="166.00" y1="581.00" x2="168.20" y2="581.00" stroke="#333" stroke-width="0.7"/>
<text x="169.20" y="584.40" font-size="9.4" fill="#222">1B</text>
<line x1="166.00" y1="591.50" x2="168.20" y2="591.50" stroke="#333" stroke-width="0.7"/>
<text x="169.20" y="594.90" font-size="9.4" fill="#222">1A</text>
<line x1="104.50" y1="607.20" x2="104.50" y2="609.40" stroke="#333" stroke-width="0.7"/>
<text x="104.50" y="618.20" font-size="8.6" text-anchor="middle" fill="#333">620</text>
<line x1="128.00" y1="607.20" x2="128.00" y2="609.40" stroke="#333" stroke-width="0.7"/>
<text x="128.00" y="618.20" font-size="8.6" text-anchor="middle" fill="#333">600</text>
<line x1="151.30" y1="607.20" x2="151.30" y2="609.40" stroke="#333" stroke-width="0.7"/>
<text x="151.30" y="618.20" font-size="8.6" text-anchor="middle" fill="#333">580</text>
<text x="159.30" y="618.20" font-size="8.6" fill="#333">(Mb)</text>
<text x="168.30" y="637.00" font-size="10.0" text-anchor="middle" fill="#1a1a1a">eGene of Renan chr2D</text>
<line x1="188.20" y1="367.40" x2="188.20" y2="607.20" stroke="#e2e2e2" stroke-width="0.7"/>
<line x1="211.00" y1="367.40" x2="211.00" y2="607.20" stroke="#e2e2e2" stroke-width="0.7"/>
<line x1="233.50" y1="367.40" x2="233.50" y2="607.20" stroke="#e2e2e2" stroke-width="0.7"/>
<line x1="256.90" y1="367.40" x2="256.90" y2="607.20" stroke="#e2e2e2" stroke-width="0.7"/>
<line x1="199.60" y1="367.40" x2="199.60" y2="607.20" stroke="#efefef" stroke-width="0.5"/>
<line x1="222.30" y1="367.40" x2="222.30" y2="607.20" stroke="#efefef" stroke-width="0.5"/>
<line x1="245.40" y1="367.40" x2="245.40" y2="607.20" stroke="#efefef" stroke-width="0.5"/>
<line x1="184.20" y1="378.75" x2="265.60" y2="378.75" stroke="#d6d6d6" stroke-width="0.6"/>
<line x1="184.20" y1="388.50" x2="265.60" y2="388.50" stroke="#d6d6d6" stroke-width="0.6"/>
<line x1="184.20" y1="399.40" x2="265.60" y2="399.40" stroke="#d6d6d6" stroke-width="0.6"/>
<line x1="184.20" y1="410.00" x2="265.60" y2="410.00" stroke="#d6d6d6" stroke-width="0.6"/>
<line x1="184.20" y1="419.40" x2="265.60" y2="419.40" stroke="#d6d6d6" stroke-width="0.6"/>
<line x1="184.20" y1="429.75" x2="265.60" y2="429.75" stroke="#d6d6d6" stroke-width="0.6"/>
<line x1="184.20" y1="438.75" x2="265.60" y2="438.75" stroke="#d6d6d6" stroke-width="0.6"/>
<line x1="184.20" y1="448.75" x2="265.60" y2="448.75" stroke="#d6d6d6" stroke-width="0.6"/>
<line x1="184.20" y1="459.40" x2="265.60" y2="459.40" stroke="#d6d6d6" stroke-width="0.6"/>
<line x1="184.20" y1="469.75" x2="265.60" y2="469.75" stroke="#d6d6d6" stroke-width="0.6"/>
<line x1="184.20" y1="478.50" x2="265.60" y2="478.50" stroke="#d6d6d6" stroke-width="0.6"/>
<line x1="184.20" y1="488.50" x2="265.60" y2="488.50" stroke="#d6d6d6" stroke-width="0.6"/>
<line x1="184.20" y1="499.10" x2="265.60" y2="499.10" stroke="#d6d6d6" stroke-width="0.6"/>
<line x1="184.20" y1="510.60" x2="265.60" y2="510.60" stroke="#d6d6d6" stroke-width="0.6"/>
<line x1="184.20" y1="522.50" x2="265.60" y2="522.50" stroke="#d6d6d6" stroke-width="0.6"/>
<line x1="184.20" y1="533.50" x2="265.60" y2="533.50" stroke="#d6d6d6" stroke-width="0.6"/>
<line x1="184.20" y1="544.40" x2="265.60" y2="544.40" stroke="#d6d6d6" stroke-width="0.6"/>
<line x1="184.20" y1="556.25" x2="265.60" y2="556.25" stroke="#d6d6d6" stroke-width="0.6"/>
<line x1="184.20" y1="567.50" x2="265.60" y2="567.50" stroke="#d6d6d6" stroke-width="0.6"/>
<line x1="184.20" y1="577.30" x2="265.60" y2="577.30" stroke="#d6d6d6" stroke-width="0.6"/>
<line x1="184.20" y1="586.80" x2="265.60" y2="586.80" stroke="#d6d6d6" stroke-width="0.6"/>
<line x1="184.20" y1="597.00" x2="265.60" y2="597.00" stroke="#d6d6d6" stroke-width="0.6"/>
<path d="M209.5,383.6h0.95v0.95h-0.95zM211.6,387.2h0.95v0.95h-0.95zM201.2,385.7h0.95v0.95h-0.95zM199.1,386.0h0.95v0.95h-0.95zM232.0,386.5h0.95v0.95h-0.95zM254.6,388.5h0.95v0.95h-0.95zM254.8,387.1h0.95v0.95h-0.95zM202.0,388.7h0.95v0.95h-0.95zM202.2,388.8h0.95v0.95h-0.95zM201.0,388.2h0.95v0.95h-0.95zM221.9,388.1h0.95v0.95h-0.95zM222.4,389.2h0.95v0.95h-0.95zM238.0,389.2h0.95v0.95h-0.95zM237.6,387.2h0.95v0.95h-0.95zM234.1,388.0h0.95v0.95h-0.95zM233.6,387.9h0.95v0.95h-0.95zM232.5,388.5h0.95v0.95h-0.95zM208.5,388.4h0.95v0.95h-0.95zM210.8,388.9h0.95v0.95h-0.95zM235.0,388.0h0.95v0.95h-0.95zM234.0,387.6h0.95v0.95h-0.95zM188.4,387.6h0.95v0.95h-0.95zM188.0,383.7h0.95v0.95h-0.95zM187.3,383.2h0.95v0.95h-0.95zM187.9,379.9h0.95v0.95h-0.95zM196.1,381.9h0.95v0.95h-0.95zM196.6,385.1h0.95v0.95h-0.95zM195.4,385.5h0.95v0.95h-0.95zM196.6,384.6h0.95v0.95h-0.95zM195.8,385.1h0.95v0.95h-0.95zM195.6,384.0h0.95v0.95h-0.95zM195.4,381.1h0.95v0.95h-0.95zM196.7,382.0h0.95v0.95h-0.95zM197.3,382.4h0.95v0.95h-0.95zM197.6,382.5h0.95v0.95h-0.95zM198.0,382.6h0.95v0.95h-0.95zM197.9,380.9h0.95v0.95h-0.95zM198.1,385.9h0.95v0.95h-0.95zM197.9,384.9h0.95v0.95h-0.95zM196.8,382.3h0.95v0.95h-0.95zM204.0,383.2h0.95v0.95h-0.95zM203.7,386.6h0.95v0.95h-0.95zM203.0,382.4h0.95v0.95h-0.95zM203.4,385.8h0.95v0.95h-0.95zM203.4,381.8h0.95v0.95h-0.95zM207.1,382.3h0.95v0.95h-0.95zM207.3,382.0h0.95v0.95h-0.95zM206.8,388.3h0.95v0.95h-0.95zM219.3,382.9h0.95v0.95h-0.95zM220.4,379.3h0.95v0.95h-0.95zM220.8,386.9h0.95v0.95h-0.95zM219.6,381.6h0.95v0.95h-0.95zM219.7,384.0h0.95v0.95h-0.95zM219.2,386.9h0.95v0.95h-0.95zM220.6,386.0h0.95v0.95h-0.95zM228.4,379.9h0.95v0.95h-0.95zM233.8,387.4h0.95v0.95h-0.95zM233.6,382.7h0.95v0.95h-0.95zM233.1,387.7h0.95v0.95h-0.95zM232.9,386.6h0.95v0.95h-0.95zM233.4,383.6h0.95v0.95h-0.95zM232.9,386.9h0.95v0.95h-0.95zM237.2,388.3h0.95v0.95h-0.95zM236.4,382.5h0.95v0.95h-0.95zM237.0,379.2h0.95v0.95h-0.95zM236.2,382.6h0.95v0.95h-0.95zM243.5,385.0h0.95v0.95h-0.95zM251.5,387.4h0.95v0.95h-0.95zM252.1,387.9h0.95v0.95h-0.95zM259.9,379.1h0.95v0.95h-0.95zM258.3,386.1h0.95v0.95h-0.95zM257.5,388.0h0.95v0.95h-0.95zM259.0,382.2h0.95v0.95h-0.95zM259.7,387.6h0.95v0.95h-0.95zM257.6,385.4h0.95v0.95h-0.95zM258.6,387.7h0.95v0.95h-0.95zM257.2,380.2h0.95v0.95h-0.95zM259.1,381.9h0.95v0.95h-0.95zM259.7,387.7h0.95v0.95h-0.95zM259.1,386.5h0.95v0.95h-0.95zM261.2,385.0h0.95v0.95h-0.95zM257.7,387.6h0.95v0.95h-0.95zM258.0,387.0h0.95v0.95h-0.95zM259.3,379.6h0.95v0.95h-0.95zM260.5,385.3h0.95v0.95h-0.95zM260.1,383.2h0.95v0.95h-0.95zM259.9,384.7h0.95v0.95h-0.95zM260.1,383.3h0.95v0.95h-0.95zM260.1,381.0h0.95v0.95h-0.95zM257.7,382.9h0.95v0.95h-0.95zM259.9,381.5h0.95v0.95h-0.95zM257.3,386.7h0.95v0.95h-0.95zM260.8,379.2h0.95v0.95h-0.95zM259.1,379.0h0.95v0.95h-0.95zM260.7,384.1h0.95v0.95h-0.95zM214.0,390.8h0.95v0.95h-0.95zM200.6,394.7h0.95v0.95h-0.95zM241.6,390.7h0.95v0.95h-0.95zM238.3,392.1h0.95v0.95h-0.95zM208.2,398.4h0.95v0.95h-0.95zM208.3,398.7h0.95v0.95h-0.95zM209.3,398.1h0.95v0.95h-0.95zM214.3,400.2h0.95v0.95h-0.95zM214.4,400.0h0.95v0.95h-0.95zM214.3,399.6h0.95v0.95h-0.95zM213.0,398.6h0.95v0.95h-0.95zM200.5,400.0h0.95v0.95h-0.95zM201.4,399.5h0.95v0.95h-0.95zM200.5,398.3h0.95v0.95h-0.95zM224.6,397.8h0.95v0.95h-0.95zM224.4,397.9h0.95v0.95h-0.95zM224.3,399.4h0.95v0.95h-0.95zM222.8,398.0h0.95v0.95h-0.95zM223.4,400.0h0.95v0.95h-0.95zM215.6,399.7h0.95v0.95h-0.95zM214.1,400.1h0.95v0.95h-0.95zM213.8,398.6h0.95v0.95h-0.95zM215.0,398.8h0.95v0.95h-0.95zM214.5,399.6h0.95v0.95h-0.95zM188.3,395.1h0.95v0.95h-0.95zM187.3,394.4h0.95v0.95h-0.95zM187.8,391.8h0.95v0.95h-0.95zM188.2,396.0h0.95v0.95h-0.95zM195.8,398.3h0.95v0.95h-0.95zM195.3,390.4h0.95v0.95h-0.95zM196.5,398.9h0.95v0.95h-0.95zM196.8,393.1h0.95v0.95h-0.95zM196.5,391.6h0.95v0.95h-0.95zM195.9,391.3h0.95v0.95h-0.95zM196.8,394.7h0.95v0.95h-0.95zM197.6,396.5h0.95v0.95h-0.95zM197.0,392.4h0.95v0.95h-0.95zM197.8,397.6h0.95v0.95h-0.95zM197.9,389.5h0.95v0.95h-0.95zM197.8,394.7h0.95v0.95h-0.95zM197.3,389.1h0.95v0.95h-0.95zM203.4,394.7h0.95v0.95h-0.95zM203.0,396.5h0.95v0.95h-0.95zM203.4,394.2h0.95v0.95h-0.95zM203.8,398.6h0.95v0.95h-0.95zM204.1,391.9h0.95v0.95h-0.95zM203.9,393.9h0.95v0.95h-0.95zM206.8,391.0h0.95v0.95h-0.95zM207.3,397.1h0.95v0.95h-0.95zM206.2,394.9h0.95v0.95h-0.95zM206.4,396.8h0.95v0.95h-0.95zM206.2,394.2h0.95v0.95h-0.95zM219.9,390.2h0.95v0.95h-0.95zM219.9,392.3h0.95v0.95h-0.95zM219.4,395.3h0.95v0.95h-0.95zM220.7,396.7h0.95v0.95h-0.95zM220.3,398.9h0.95v0.95h-0.95zM219.5,397.0h0.95v0.95h-0.95zM220.2,391.1h0.95v0.95h-0.95zM229.1,392.0h0.95v0.95h-0.95zM232.8,398.8h0.95v0.95h-0.95zM232.6,389.6h0.95v0.95h-0.95zM232.3,397.2h0.95v0.95h-0.95zM233.6,395.5h0.95v0.95h-0.95zM233.2,395.2h0.95v0.95h-0.95zM233.3,399.0h0.95v0.95h-0.95zM237.2,398.5h0.95v0.95h-0.95zM237.0,391.3h0.95v0.95h-0.95zM236.5,391.4h0.95v0.95h-0.95zM237.8,398.5h0.95v0.95h-0.95zM236.4,394.7h0.95v0.95h-0.95zM244.5,397.4h0.95v0.95h-0.95zM251.2,397.2h0.95v0.95h-0.95zM251.6,399.2h0.95v0.95h-0.95zM252.2,391.1h0.95v0.95h-0.95zM258.8,392.3h0.95v0.95h-0.95zM260.6,389.8h0.95v0.95h-0.95zM257.8,399.2h0.95v0.95h-0.95zM258.3,389.1h0.95v0.95h-0.95zM260.0,399.2h0.95v0.95h-0.95zM257.9,392.8h0.95v0.95h-0.95zM259.1,394.6h0.95v0.95h-0.95zM259.3,391.0h0.95v0.95h-0.95zM260.8,392.0h0.95v0.95h-0.95zM259.5,395.3h0.95v0.95h-0.95zM260.5,397.9h0.95v0.95h-0.95zM260.9,398.3h0.95v0.95h-0.95zM260.2,392.1h0.95v0.95h-0.95zM260.7,397.8h0.95v0.95h-0.95zM257.8,394.5h0.95v0.95h-0.95zM260.5,393.2h0.95v0.95h-0.95zM259.4,395.3h0.95v0.95h-0.95zM260.9,392.4h0.95v0.95h-0.95zM258.1,397.7h0.95v0.95h-0.95zM257.6,396.0h0.95v0.95h-0.95zM259.2,395.7h0.95v0.95h-0.95zM257.2,393.9h0.95v0.95h-0.95zM260.9,388.8h0.95v0.95h-0.95zM257.9,394.6h0.95v0.95h-0.95zM261.0,388.6h0.95v0.95h-0.95zM260.9,391.0h0.95v0.95h-0.95zM258.4,389.6h0.95v0.95h-0.95zM260.9,396.4h0.95v0.95h-0.95zM195.0,402.3h0.95v0.95h-0.95zM248.9,406.2h0.95v0.95h-0.95zM194.3,406.2h0.95v0.95h-0.95zM250.0,402.5h0.95v0.95h-0.95zM248.5,401.3h0.95v0.95h-0.95zM187.9,409.1h0.95v0.95h-0.95zM187.2,410.5h0.95v0.95h-0.95zM185.9,408.7h0.95v0.95h-0.95zM188.1,409.1h0.95v0.95h-0.95zM228.5,409.8h0.95v0.95h-0.95zM227.8,410.2h0.95v0.95h-0.95zM228.5,409.9h0.95v0.95h-0.95zM228.3,410.3h0.95v0.95h-0.95zM209.4,410.8h0.95v0.95h-0.95zM209.6,409.4h0.95v0.95h-0.95zM208.5,410.7h0.95v0.95h-0.95zM209.6,409.1h0.95v0.95h-0.95zM188.2,410.6h0.95v0.95h-0.95zM206.0,409.5h0.95v0.95h-0.95zM205.8,409.2h0.95v0.95h-0.95zM245.8,409.8h0.95v0.95h-0.95zM247.7,408.5h0.95v0.95h-0.95zM246.9,408.5h0.95v0.95h-0.95zM246.9,408.8h0.95v0.95h-0.95zM206.0,409.4h0.95v0.95h-0.95zM207.9,410.0h0.95v0.95h-0.95zM187.5,408.7h0.95v0.95h-0.95zM187.2,405.2h0.95v0.95h-0.95zM188.3,402.8h0.95v0.95h-0.95zM187.5,403.3h0.95v0.95h-0.95zM195.8,403.9h0.95v0.95h-0.95zM195.8,409.0h0.95v0.95h-0.95zM196.2,408.1h0.95v0.95h-0.95zM195.4,402.4h0.95v0.95h-0.95zM195.6,408.5h0.95v0.95h-0.95zM196.5,404.1h0.95v0.95h-0.95zM195.3,402.1h0.95v0.95h-0.95zM195.5,401.8h0.95v0.95h-0.95zM196.6,404.9h0.95v0.95h-0.95zM197.7,399.5h0.95v0.95h-0.95zM198.2,409.4h0.95v0.95h-0.95zM197.8,409.4h0.95v0.95h-0.95zM196.9,407.8h0.95v0.95h-0.95zM198.0,404.2h0.95v0.95h-0.95zM197.5,399.5h0.95v0.95h-0.95zM203.9,408.7h0.95v0.95h-0.95zM203.8,401.2h0.95v0.95h-0.95zM203.6,401.4h0.95v0.95h-0.95zM204.1,406.9h0.95v0.95h-0.95zM204.0,405.3h0.95v0.95h-0.95zM206.6,406.0h0.95v0.95h-0.95zM206.8,402.5h0.95v0.95h-0.95zM206.2,399.5h0.95v0.95h-0.95zM207.3,403.2h0.95v0.95h-0.95zM207.5,407.2h0.95v0.95h-0.95zM206.6,400.6h0.95v0.95h-0.95zM219.7,402.0h0.95v0.95h-0.95zM219.2,405.0h0.95v0.95h-0.95zM220.5,409.2h0.95v0.95h-0.95zM220.4,403.7h0.95v0.95h-0.95zM228.0,399.6h0.95v0.95h-0.95zM233.3,402.5h0.95v0.95h-0.95zM232.8,406.0h0.95v0.95h-0.95zM232.6,402.1h0.95v0.95h-0.95zM232.8,400.6h0.95v0.95h-0.95zM233.3,404.1h0.95v0.95h-0.95zM233.4,404.4h0.95v0.95h-0.95zM236.8,404.8h0.95v0.95h-0.95zM237.5,400.2h0.95v0.95h-0.95zM236.3,404.1h0.95v0.95h-0.95zM236.8,402.4h0.95v0.95h-0.95zM236.7,405.9h0.95v0.95h-0.95zM251.3,400.0h0.95v0.95h-0.95zM251.7,407.6h0.95v0.95h-0.95zM251.8,405.0h0.95v0.95h-0.95zM257.5,404.3h0.95v0.95h-0.95zM259.0,401.9h0.95v0.95h-0.95zM260.8,407.4h0.95v0.95h-0.95zM260.7,405.5h0.95v0.95h-0.95zM259.5,400.9h0.95v0.95h-0.95zM259.3,407.5h0.95v0.95h-0.95zM257.9,400.1h0.95v0.95h-0.95zM258.2,405.0h0.95v0.95h-0.95zM259.0,404.4h0.95v0.95h-0.95zM258.6,400.1h0.95v0.95h-0.95zM257.4,402.7h0.95v0.95h-0.95zM257.8,405.4h0.95v0.95h-0.95zM258.0,406.6h0.95v0.95h-0.95zM257.9,407.3h0.95v0.95h-0.95zM260.3,403.0h0.95v0.95h-0.95zM260.3,402.3h0.95v0.95h-0.95zM260.6,409.1h0.95v0.95h-0.95zM258.8,409.3h0.95v0.95h-0.95zM257.7,407.6h0.95v0.95h-0.95zM259.6,401.4h0.95v0.95h-0.95zM259.4,402.3h0.95v0.95h-0.95zM260.0,404.7h0.95v0.95h-0.95zM258.6,402.1h0.95v0.95h-0.95zM257.8,406.5h0.95v0.95h-0.95zM258.6,400.9h0.95v0.95h-0.95zM258.1,409.9h0.95v0.95h-0.95zM259.4,404.2h0.95v0.95h-0.95zM241.1,412.7h0.95v0.95h-0.95zM230.5,417.7h0.95v0.95h-0.95zM191.6,413.5h0.95v0.95h-0.95zM250.3,419.4h0.95v0.95h-0.95zM202.7,420.2h0.95v0.95h-0.95zM201.9,418.9h0.95v0.95h-0.95zM201.9,418.0h0.95v0.95h-0.95zM202.5,418.9h0.95v0.95h-0.95zM202.5,418.7h0.95v0.95h-0.95zM202.6,419.9h0.95v0.95h-0.95zM204.6,417.9h0.95v0.95h-0.95zM224.5,418.4h0.95v0.95h-0.95zM225.0,419.2h0.95v0.95h-0.95zM226.4,419.7h0.95v0.95h-0.95zM212.9,418.5h0.95v0.95h-0.95zM213.7,419.1h0.95v0.95h-0.95zM213.2,417.8h0.95v0.95h-0.95zM187.8,418.2h0.95v0.95h-0.95zM186.9,417.9h0.95v0.95h-0.95zM234.3,420.2h0.95v0.95h-0.95zM234.2,420.1h0.95v0.95h-0.95zM187.7,416.2h0.95v0.95h-0.95zM187.0,411.6h0.95v0.95h-0.95zM187.8,414.5h0.95v0.95h-0.95zM187.0,410.4h0.95v0.95h-0.95zM196.0,416.3h0.95v0.95h-0.95zM196.1,417.7h0.95v0.95h-0.95zM195.5,418.0h0.95v0.95h-0.95zM195.8,412.2h0.95v0.95h-0.95zM195.4,414.1h0.95v0.95h-0.95zM196.8,418.1h0.95v0.95h-0.95zM197.3,410.6h0.95v0.95h-0.95zM197.0,418.6h0.95v0.95h-0.95zM198.1,418.2h0.95v0.95h-0.95zM198.0,419.1h0.95v0.95h-0.95zM196.9,417.9h0.95v0.95h-0.95zM203.8,418.2h0.95v0.95h-0.95zM204.1,413.0h0.95v0.95h-0.95zM203.1,412.7h0.95v0.95h-0.95zM203.1,418.9h0.95v0.95h-0.95zM203.0,415.6h0.95v0.95h-0.95zM204.0,412.9h0.95v0.95h-0.95zM207.0,412.6h0.95v0.95h-0.95zM206.6,412.9h0.95v0.95h-0.95zM207.4,414.8h0.95v0.95h-0.95zM207.3,417.6h0.95v0.95h-0.95zM206.3,415.1h0.95v0.95h-0.95zM220.7,419.1h0.95v0.95h-0.95zM220.5,410.2h0.95v0.95h-0.95zM219.4,412.9h0.95v0.95h-0.95zM220.1,419.1h0.95v0.95h-0.95zM219.7,412.9h0.95v0.95h-0.95zM219.9,416.3h0.95v0.95h-0.95zM220.4,411.9h0.95v0.95h-0.95zM233.2,414.2h0.95v0.95h-0.95zM233.4,417.5h0.95v0.95h-0.95zM232.3,413.8h0.95v0.95h-0.95zM232.9,417.9h0.95v0.95h-0.95zM233.4,411.1h0.95v0.95h-0.95zM237.5,414.9h0.95v0.95h-0.95zM237.7,418.6h0.95v0.95h-0.95zM236.4,419.0h0.95v0.95h-0.95zM237.5,410.2h0.95v0.95h-0.95zM237.3,411.3h0.95v0.95h-0.95zM251.8,410.0h0.95v0.95h-0.95zM252.4,415.0h0.95v0.95h-0.95zM261.1,419.3h0.95v0.95h-0.95zM257.3,419.0h0.95v0.95h-0.95zM258.5,417.1h0.95v0.95h-0.95zM257.2,412.6h0.95v0.95h-0.95zM258.3,411.4h0.95v0.95h-0.95zM258.8,415.4h0.95v0.95h-0.95zM259.4,411.3h0.95v0.95h-0.95zM259.2,416.6h0.95v0.95h-0.95zM259.1,412.2h0.95v0.95h-0.95zM259.0,412.7h0.95v0.95h-0.95zM257.4,411.5h0.95v0.95h-0.95zM259.3,413.2h0.95v0.95h-0.95zM259.6,412.0h0.95v0.95h-0.95zM260.5,412.9h0.95v0.95h-0.95zM258.3,410.0h0.95v0.95h-0.95zM260.9,411.8h0.95v0.95h-0.95zM258.4,410.5h0.95v0.95h-0.95zM258.9,411.7h0.95v0.95h-0.95zM257.6,411.8h0.95v0.95h-0.95zM261.0,416.3h0.95v0.95h-0.95zM260.7,411.4h0.95v0.95h-0.95zM258.9,416.5h0.95v0.95h-0.95zM260.3,416.4h0.95v0.95h-0.95zM257.5,413.6h0.95v0.95h-0.95zM257.7,410.9h0.95v0.95h-0.95zM259.0,418.4h0.95v0.95h-0.95zM257.7,410.5h0.95v0.95h-0.95zM258.8,410.1h0.95v0.95h-0.95zM259.1,419.4h0.95v0.95h-0.95zM246.0,428.9h0.95v0.95h-0.95zM248.2,428.9h0.95v0.95h-0.95zM189.3,422.7h0.95v0.95h-0.95zM226.0,427.5h0.95v0.95h-0.95zM233.2,428.8h0.95v0.95h-0.95zM233.7,430.6h0.95v0.95h-0.95zM233.6,430.1h0.95v0.95h-0.95zM233.2,428.5h0.95v0.95h-0.95zM215.0,430.5h0.95v0.95h-0.95zM214.4,429.9h0.95v0.95h-0.95zM214.1,429.0h0.95v0.95h-0.95zM215.3,428.4h0.95v0.95h-0.95zM216.9,429.8h0.95v0.95h-0.95zM216.6,428.6h0.95v0.95h-0.95zM216.7,429.1h0.95v0.95h-0.95zM224.3,428.3h0.95v0.95h-0.95zM223.6,428.2h0.95v0.95h-0.95zM225.2,428.6h0.95v0.95h-0.95zM254.0,429.3h0.95v0.95h-0.95zM253.5,430.3h0.95v0.95h-0.95zM254.5,429.0h0.95v0.95h-0.95zM199.2,428.9h0.95v0.95h-0.95zM199.0,429.5h0.95v0.95h-0.95zM195.1,430.6h0.95v0.95h-0.95zM188.0,422.6h0.95v0.95h-0.95zM187.9,428.9h0.95v0.95h-0.95zM188.3,422.9h0.95v0.95h-0.95zM187.8,425.1h0.95v0.95h-0.95zM196.0,420.6h0.95v0.95h-0.95zM195.3,421.1h0.95v0.95h-0.95zM196.1,423.2h0.95v0.95h-0.95zM195.6,425.0h0.95v0.95h-0.95zM196.0,419.9h0.95v0.95h-0.95zM195.5,429.7h0.95v0.95h-0.95zM196.6,421.2h0.95v0.95h-0.95zM195.4,429.6h0.95v0.95h-0.95zM197.4,421.6h0.95v0.95h-0.95zM197.2,422.0h0.95v0.95h-0.95zM197.8,420.9h0.95v0.95h-0.95zM196.7,422.0h0.95v0.95h-0.95zM198.1,423.3h0.95v0.95h-0.95zM197.3,426.4h0.95v0.95h-0.95zM196.7,423.0h0.95v0.95h-0.95zM197.1,427.6h0.95v0.95h-0.95zM203.9,422.2h0.95v0.95h-0.95zM203.8,421.3h0.95v0.95h-0.95zM203.5,426.1h0.95v0.95h-0.95zM203.3,429.7h0.95v0.95h-0.95zM204.0,426.0h0.95v0.95h-0.95zM204.2,426.6h0.95v0.95h-0.95zM206.2,420.8h0.95v0.95h-0.95zM206.2,427.9h0.95v0.95h-0.95zM207.6,424.1h0.95v0.95h-0.95zM207.4,428.5h0.95v0.95h-0.95zM207.0,422.2h0.95v0.95h-0.95zM220.1,423.2h0.95v0.95h-0.95zM219.3,422.8h0.95v0.95h-0.95zM220.3,425.7h0.95v0.95h-0.95zM219.4,419.6h0.95v0.95h-0.95zM219.4,422.2h0.95v0.95h-0.95zM228.2,429.3h0.95v0.95h-0.95zM228.3,422.4h0.95v0.95h-0.95zM232.3,428.4h0.95v0.95h-0.95zM232.3,419.5h0.95v0.95h-0.95zM233.1,422.6h0.95v0.95h-0.95zM233.5,420.4h0.95v0.95h-0.95zM237.3,422.4h0.95v0.95h-0.95zM237.0,422.6h0.95v0.95h-0.95zM237.2,429.1h0.95v0.95h-0.95zM237.3,422.9h0.95v0.95h-0.95zM252.0,429.0h0.95v0.95h-0.95zM251.1,419.6h0.95v0.95h-0.95zM251.4,423.1h0.95v0.95h-0.95zM259.3,429.1h0.95v0.95h-0.95zM257.7,427.6h0.95v0.95h-0.95zM261.1,419.6h0.95v0.95h-0.95zM258.5,419.5h0.95v0.95h-0.95zM258.7,426.4h0.95v0.95h-0.95zM261.1,424.6h0.95v0.95h-0.95zM257.9,422.3h0.95v0.95h-0.95zM260.7,426.6h0.95v0.95h-0.95zM257.5,426.5h0.95v0.95h-0.95zM258.7,426.7h0.95v0.95h-0.95zM258.3,424.6h0.95v0.95h-0.95zM259.6,429.4h0.95v0.95h-0.95zM258.6,423.8h0.95v0.95h-0.95zM258.8,427.4h0.95v0.95h-0.95zM260.1,423.0h0.95v0.95h-0.95zM260.2,426.3h0.95v0.95h-0.95zM260.2,421.8h0.95v0.95h-0.95zM257.3,425.9h0.95v0.95h-0.95zM259.2,420.1h0.95v0.95h-0.95zM258.8,425.4h0.95v0.95h-0.95zM260.1,424.2h0.95v0.95h-0.95zM260.8,428.0h0.95v0.95h-0.95zM257.8,421.6h0.95v0.95h-0.95zM261.1,422.1h0.95v0.95h-0.95zM258.4,427.9h0.95v0.95h-0.95zM258.5,428.5h0.95v0.95h-0.95zM219.2,431.4h0.95v0.95h-0.95zM217.0,432.7h0.95v0.95h-0.95zM189.2,436.2h0.95v0.95h-0.95zM230.3,437.7h0.95v0.95h-0.95zM230.2,438.1h0.95v0.95h-0.95zM206.4,439.5h0.95v0.95h-0.95zM206.3,438.5h0.95v0.95h-0.95zM251.9,437.6h0.95v0.95h-0.95zM252.0,438.0h0.95v0.95h-0.95zM251.7,437.5h0.95v0.95h-0.95zM250.1,437.5h0.95v0.95h-0.95zM239.3,438.8h0.95v0.95h-0.95zM238.4,439.6h0.95v0.95h-0.95zM239.1,439.6h0.95v0.95h-0.95zM247.8,437.6h0.95v0.95h-0.95zM249.3,437.6h0.95v0.95h-0.95zM229.0,437.4h0.95v0.95h-0.95zM228.2,438.0h0.95v0.95h-0.95zM241.3,438.1h0.95v0.95h-0.95zM241.7,438.1h0.95v0.95h-0.95zM241.9,437.8h0.95v0.95h-0.95zM188.3,430.0h0.95v0.95h-0.95zM187.4,435.7h0.95v0.95h-0.95zM188.2,433.5h0.95v0.95h-0.95zM187.5,437.5h0.95v0.95h-0.95zM196.6,437.6h0.95v0.95h-0.95zM196.4,435.4h0.95v0.95h-0.95zM196.2,437.5h0.95v0.95h-0.95zM196.5,437.0h0.95v0.95h-0.95zM195.4,434.4h0.95v0.95h-0.95zM195.8,431.4h0.95v0.95h-0.95zM196.3,434.6h0.95v0.95h-0.95zM196.7,431.1h0.95v0.95h-0.95zM197.9,435.3h0.95v0.95h-0.95zM197.2,436.2h0.95v0.95h-0.95zM198.1,433.9h0.95v0.95h-0.95zM197.9,431.3h0.95v0.95h-0.95zM197.2,435.4h0.95v0.95h-0.95zM196.9,431.6h0.95v0.95h-0.95zM203.5,437.9h0.95v0.95h-0.95zM204.0,431.8h0.95v0.95h-0.95zM203.1,438.1h0.95v0.95h-0.95zM203.5,438.2h0.95v0.95h-0.95zM204.2,437.6h0.95v0.95h-0.95zM203.6,438.4h0.95v0.95h-0.95zM206.0,431.3h0.95v0.95h-0.95zM207.5,435.6h0.95v0.95h-0.95zM206.1,434.7h0.95v0.95h-0.95zM207.0,431.7h0.95v0.95h-0.95zM206.4,433.8h0.95v0.95h-0.95zM219.3,432.1h0.95v0.95h-0.95zM219.2,435.2h0.95v0.95h-0.95zM220.2,435.6h0.95v0.95h-0.95zM219.8,434.4h0.95v0.95h-0.95zM220.5,436.4h0.95v0.95h-0.95zM220.7,430.9h0.95v0.95h-0.95zM220.8,430.0h0.95v0.95h-0.95zM232.5,430.6h0.95v0.95h-0.95zM232.5,433.1h0.95v0.95h-0.95zM233.1,433.1h0.95v0.95h-0.95zM232.4,429.9h0.95v0.95h-0.95zM232.2,436.8h0.95v0.95h-0.95zM233.2,436.6h0.95v0.95h-0.95zM233.7,437.0h0.95v0.95h-0.95zM237.1,438.6h0.95v0.95h-0.95zM237.2,434.7h0.95v0.95h-0.95zM237.8,433.8h0.95v0.95h-0.95zM237.6,434.2h0.95v0.95h-0.95zM236.7,430.7h0.95v0.95h-0.95zM252.2,437.8h0.95v0.95h-0.95zM252.1,433.7h0.95v0.95h-0.95zM259.4,436.4h0.95v0.95h-0.95zM257.7,433.9h0.95v0.95h-0.95zM260.4,431.4h0.95v0.95h-0.95zM258.0,434.6h0.95v0.95h-0.95zM259.2,438.2h0.95v0.95h-0.95zM260.6,431.7h0.95v0.95h-0.95zM259.1,435.8h0.95v0.95h-0.95zM257.8,435.9h0.95v0.95h-0.95zM259.2,433.0h0.95v0.95h-0.95zM260.8,436.4h0.95v0.95h-0.95zM259.7,432.9h0.95v0.95h-0.95zM259.5,433.7h0.95v0.95h-0.95zM258.6,434.8h0.95v0.95h-0.95zM259.3,431.1h0.95v0.95h-0.95zM258.5,434.4h0.95v0.95h-0.95zM260.9,434.6h0.95v0.95h-0.95zM261.1,433.2h0.95v0.95h-0.95zM260.3,433.3h0.95v0.95h-0.95zM259.9,431.6h0.95v0.95h-0.95zM260.6,433.0h0.95v0.95h-0.95zM257.5,436.3h0.95v0.95h-0.95zM257.7,433.4h0.95v0.95h-0.95zM257.6,434.6h0.95v0.95h-0.95zM214.6,443.5h0.95v0.95h-0.95zM221.0,444.1h0.95v0.95h-0.95zM239.2,442.4h0.95v0.95h-0.95zM191.5,439.2h0.95v0.95h-0.95zM250.9,441.7h0.95v0.95h-0.95zM232.8,448.2h0.95v0.95h-0.95zM234.8,448.9h0.95v0.95h-0.95zM234.2,449.2h0.95v0.95h-0.95zM234.9,448.4h0.95v0.95h-0.95zM234.4,449.0h0.95v0.95h-0.95zM237.7,449.2h0.95v0.95h-0.95zM237.9,449.6h0.95v0.95h-0.95zM187.4,448.8h0.95v0.95h-0.95zM188.4,448.0h0.95v0.95h-0.95zM188.6,447.7h0.95v0.95h-0.95zM188.0,447.9h0.95v0.95h-0.95zM247.8,448.9h0.95v0.95h-0.95zM249.0,447.3h0.95v0.95h-0.95zM215.3,449.4h0.95v0.95h-0.95zM215.4,447.6h0.95v0.95h-0.95zM216.4,448.7h0.95v0.95h-0.95zM234.0,448.2h0.95v0.95h-0.95zM233.3,448.5h0.95v0.95h-0.95zM233.7,448.4h0.95v0.95h-0.95zM233.6,447.9h0.95v0.95h-0.95zM226.9,449.2h0.95v0.95h-0.95zM227.2,447.2h0.95v0.95h-0.95zM228.3,447.4h0.95v0.95h-0.95zM187.8,438.8h0.95v0.95h-0.95zM188.5,446.4h0.95v0.95h-0.95zM187.1,445.5h0.95v0.95h-0.95zM187.0,446.2h0.95v0.95h-0.95zM196.0,440.6h0.95v0.95h-0.95zM196.5,442.7h0.95v0.95h-0.95zM196.4,440.9h0.95v0.95h-0.95zM195.4,443.5h0.95v0.95h-0.95zM196.4,446.8h0.95v0.95h-0.95zM196.1,440.5h0.95v0.95h-0.95zM196.7,445.1h0.95v0.95h-0.95zM195.7,442.9h0.95v0.95h-0.95zM197.3,443.2h0.95v0.95h-0.95zM198.1,440.2h0.95v0.95h-0.95zM197.3,441.5h0.95v0.95h-0.95zM196.9,439.7h0.95v0.95h-0.95zM197.2,445.1h0.95v0.95h-0.95zM197.0,439.7h0.95v0.95h-0.95zM197.2,448.7h0.95v0.95h-0.95zM197.2,447.4h0.95v0.95h-0.95zM203.1,439.8h0.95v0.95h-0.95zM203.3,442.9h0.95v0.95h-0.95zM203.2,443.8h0.95v0.95h-0.95zM203.3,440.0h0.95v0.95h-0.95zM203.8,445.5h0.95v0.95h-0.95zM207.0,444.9h0.95v0.95h-0.95zM206.9,444.9h0.95v0.95h-0.95zM206.8,439.8h0.95v0.95h-0.95zM207.5,441.9h0.95v0.95h-0.95zM206.3,441.8h0.95v0.95h-0.95zM206.4,442.3h0.95v0.95h-0.95zM220.5,448.2h0.95v0.95h-0.95zM219.9,446.6h0.95v0.95h-0.95zM220.8,447.3h0.95v0.95h-0.95zM219.2,442.0h0.95v0.95h-0.95zM220.1,445.0h0.95v0.95h-0.95zM219.8,443.2h0.95v0.95h-0.95zM219.4,444.0h0.95v0.95h-0.95zM232.3,441.6h0.95v0.95h-0.95zM233.8,444.6h0.95v0.95h-0.95zM233.2,441.1h0.95v0.95h-0.95zM233.8,442.9h0.95v0.95h-0.95zM232.8,445.9h0.95v0.95h-0.95zM232.5,444.0h0.95v0.95h-0.95zM232.3,445.1h0.95v0.95h-0.95zM237.2,445.2h0.95v0.95h-0.95zM237.1,446.2h0.95v0.95h-0.95zM237.6,444.4h0.95v0.95h-0.95zM237.3,439.9h0.95v0.95h-0.95zM237.6,445.8h0.95v0.95h-0.95zM244.5,444.8h0.95v0.95h-0.95zM250.9,439.6h0.95v0.95h-0.95zM252.2,445.4h0.95v0.95h-0.95zM258.9,440.5h0.95v0.95h-0.95zM257.8,446.6h0.95v0.95h-0.95zM260.8,446.0h0.95v0.95h-0.95zM258.0,442.3h0.95v0.95h-0.95zM260.1,439.4h0.95v0.95h-0.95zM258.2,447.2h0.95v0.95h-0.95zM259.2,444.7h0.95v0.95h-0.95zM260.2,442.7h0.95v0.95h-0.95zM258.2,443.5h0.95v0.95h-0.95zM257.6,445.8h0.95v0.95h-0.95zM259.8,441.6h0.95v0.95h-0.95zM260.8,444.6h0.95v0.95h-0.95zM260.2,441.0h0.95v0.95h-0.95zM260.1,441.5h0.95v0.95h-0.95zM257.8,445.2h0.95v0.95h-0.95zM260.8,440.3h0.95v0.95h-0.95zM259.4,442.8h0.95v0.95h-0.95zM261.1,440.1h0.95v0.95h-0.95zM258.7,443.2h0.95v0.95h-0.95zM261.0,447.4h0.95v0.95h-0.95zM260.9,442.8h0.95v0.95h-0.95zM260.0,439.2h0.95v0.95h-0.95zM258.7,446.0h0.95v0.95h-0.95zM259.0,440.5h0.95v0.95h-0.95zM258.6,447.0h0.95v0.95h-0.95zM260.6,444.1h0.95v0.95h-0.95zM257.6,446.8h0.95v0.95h-0.95zM261.0,441.5h0.95v0.95h-0.95zM258.4,443.3h0.95v0.95h-0.95zM199.7,458.8h0.95v0.95h-0.95zM187.7,459.1h0.95v0.95h-0.95zM243.5,457.7h0.95v0.95h-0.95zM233.3,454.0h0.95v0.95h-0.95zM189.4,458.0h0.95v0.95h-0.95zM209.0,458.3h0.95v0.95h-0.95zM209.2,458.3h0.95v0.95h-0.95zM209.0,457.9h0.95v0.95h-0.95zM215.2,459.9h0.95v0.95h-0.95zM215.3,458.6h0.95v0.95h-0.95zM213.1,459.4h0.95v0.95h-0.95zM194.4,459.5h0.95v0.95h-0.95zM196.0,459.5h0.95v0.95h-0.95zM196.5,457.9h0.95v0.95h-0.95zM234.0,458.2h0.95v0.95h-0.95zM235.1,459.2h0.95v0.95h-0.95zM234.2,458.4h0.95v0.95h-0.95zM247.4,459.6h0.95v0.95h-0.95zM247.3,457.9h0.95v0.95h-0.95zM248.2,460.2h0.95v0.95h-0.95zM196.6,459.4h0.95v0.95h-0.95zM196.7,459.6h0.95v0.95h-0.95zM198.1,458.0h0.95v0.95h-0.95zM198.7,458.5h0.95v0.95h-0.95zM248.5,458.8h0.95v0.95h-0.95zM187.8,455.5h0.95v0.95h-0.95zM187.7,450.0h0.95v0.95h-0.95zM188.3,450.0h0.95v0.95h-0.95zM187.7,454.7h0.95v0.95h-0.95zM195.7,453.7h0.95v0.95h-0.95zM196.0,458.2h0.95v0.95h-0.95zM196.6,457.3h0.95v0.95h-0.95zM195.8,456.5h0.95v0.95h-0.95zM195.2,450.7h0.95v0.95h-0.95zM196.5,453.2h0.95v0.95h-0.95zM195.3,452.3h0.95v0.95h-0.95zM198.1,453.1h0.95v0.95h-0.95zM196.8,455.2h0.95v0.95h-0.95zM197.2,456.1h0.95v0.95h-0.95zM198.1,458.1h0.95v0.95h-0.95zM198.1,456.5h0.95v0.95h-0.95zM197.4,453.0h0.95v0.95h-0.95zM197.5,454.1h0.95v0.95h-0.95zM204.2,449.8h0.95v0.95h-0.95zM203.2,453.8h0.95v0.95h-0.95zM203.9,450.1h0.95v0.95h-0.95zM207.5,452.0h0.95v0.95h-0.95zM206.6,459.2h0.95v0.95h-0.95zM206.8,456.1h0.95v0.95h-0.95zM207.6,457.3h0.95v0.95h-0.95zM207.0,457.5h0.95v0.95h-0.95zM219.8,459.0h0.95v0.95h-0.95zM220.4,455.9h0.95v0.95h-0.95zM220.3,456.7h0.95v0.95h-0.95zM220.2,451.7h0.95v0.95h-0.95zM219.5,456.0h0.95v0.95h-0.95zM220.6,449.1h0.95v0.95h-0.95zM220.3,457.1h0.95v0.95h-0.95zM233.4,456.7h0.95v0.95h-0.95zM232.7,451.8h0.95v0.95h-0.95zM233.8,453.5h0.95v0.95h-0.95zM233.4,449.8h0.95v0.95h-0.95zM232.5,450.1h0.95v0.95h-0.95zM232.4,456.0h0.95v0.95h-0.95zM237.1,459.2h0.95v0.95h-0.95zM237.6,458.2h0.95v0.95h-0.95zM237.0,457.4h0.95v0.95h-0.95zM236.7,455.9h0.95v0.95h-0.95zM236.7,450.5h0.95v0.95h-0.95zM243.5,452.1h0.95v0.95h-0.95zM252.3,451.2h0.95v0.95h-0.95zM251.4,458.7h0.95v0.95h-0.95zM251.3,453.1h0.95v0.95h-0.95zM258.4,449.6h0.95v0.95h-0.95zM257.6,453.6h0.95v0.95h-0.95zM257.8,452.1h0.95v0.95h-0.95zM259.7,452.7h0.95v0.95h-0.95zM258.9,459.4h0.95v0.95h-0.95zM261.0,454.3h0.95v0.95h-0.95zM258.4,452.9h0.95v0.95h-0.95zM257.9,458.3h0.95v0.95h-0.95zM258.8,456.2h0.95v0.95h-0.95zM258.8,453.0h0.95v0.95h-0.95zM260.7,457.2h0.95v0.95h-0.95zM257.8,457.5h0.95v0.95h-0.95zM260.7,449.2h0.95v0.95h-0.95zM257.5,456.7h0.95v0.95h-0.95zM258.3,457.8h0.95v0.95h-0.95zM259.3,450.2h0.95v0.95h-0.95zM260.1,457.7h0.95v0.95h-0.95zM258.6,453.5h0.95v0.95h-0.95zM258.1,452.4h0.95v0.95h-0.95zM261.2,456.8h0.95v0.95h-0.95zM259.2,457.2h0.95v0.95h-0.95zM260.9,458.8h0.95v0.95h-0.95zM257.6,452.3h0.95v0.95h-0.95zM259.4,453.7h0.95v0.95h-0.95zM257.4,451.5h0.95v0.95h-0.95zM259.4,451.0h0.95v0.95h-0.95zM260.3,458.2h0.95v0.95h-0.95zM259.1,458.4h0.95v0.95h-0.95zM205.6,467.6h0.95v0.95h-0.95zM204.2,462.9h0.95v0.95h-0.95zM209.8,467.8h0.95v0.95h-0.95zM217.2,467.8h0.95v0.95h-0.95zM246.6,468.7h0.95v0.95h-0.95zM251.0,469.7h0.95v0.95h-0.95zM252.2,469.2h0.95v0.95h-0.95zM200.0,468.2h0.95v0.95h-0.95zM201.2,470.0h0.95v0.95h-0.95zM198.0,468.4h0.95v0.95h-0.95zM197.9,469.7h0.95v0.95h-0.95zM199.8,468.3h0.95v0.95h-0.95zM247.1,469.9h0.95v0.95h-0.95zM246.2,469.8h0.95v0.95h-0.95zM194.0,468.3h0.95v0.95h-0.95zM194.6,468.8h0.95v0.95h-0.95zM193.7,470.5h0.95v0.95h-0.95zM194.3,469.2h0.95v0.95h-0.95zM251.9,469.0h0.95v0.95h-0.95zM251.2,468.4h0.95v0.95h-0.95zM187.4,459.7h0.95v0.95h-0.95zM188.2,469.1h0.95v0.95h-0.95zM196.0,466.0h0.95v0.95h-0.95zM196.8,466.6h0.95v0.95h-0.95zM195.5,462.8h0.95v0.95h-0.95zM196.5,467.4h0.95v0.95h-0.95zM195.4,461.1h0.95v0.95h-0.95zM195.9,466.6h0.95v0.95h-0.95zM196.2,469.6h0.95v0.95h-0.95zM195.4,468.4h0.95v0.95h-0.95zM198.1,466.7h0.95v0.95h-0.95zM197.8,468.1h0.95v0.95h-0.95zM196.7,461.5h0.95v0.95h-0.95zM197.1,463.6h0.95v0.95h-0.95zM197.9,469.7h0.95v0.95h-0.95zM196.9,468.1h0.95v0.95h-0.95zM203.1,464.2h0.95v0.95h-0.95zM203.6,461.6h0.95v0.95h-0.95zM204.0,468.4h0.95v0.95h-0.95zM204.3,460.4h0.95v0.95h-0.95zM202.9,461.7h0.95v0.95h-0.95zM206.5,459.5h0.95v0.95h-0.95zM206.9,468.4h0.95v0.95h-0.95zM206.4,464.6h0.95v0.95h-0.95zM207.3,469.0h0.95v0.95h-0.95zM206.7,466.9h0.95v0.95h-0.95zM206.5,469.4h0.95v0.95h-0.95zM220.4,467.7h0.95v0.95h-0.95zM219.7,466.3h0.95v0.95h-0.95zM220.0,467.9h0.95v0.95h-0.95zM219.6,459.8h0.95v0.95h-0.95zM219.9,462.9h0.95v0.95h-0.95zM232.4,467.4h0.95v0.95h-0.95zM233.7,466.9h0.95v0.95h-0.95zM233.0,467.4h0.95v0.95h-0.95zM233.4,469.7h0.95v0.95h-0.95zM233.2,462.5h0.95v0.95h-0.95zM233.7,459.9h0.95v0.95h-0.95zM233.0,464.5h0.95v0.95h-0.95zM236.3,460.3h0.95v0.95h-0.95zM237.4,464.7h0.95v0.95h-0.95zM237.2,469.3h0.95v0.95h-0.95zM236.2,461.4h0.95v0.95h-0.95zM236.3,461.0h0.95v0.95h-0.95zM251.8,466.4h0.95v0.95h-0.95zM251.4,464.4h0.95v0.95h-0.95zM259.0,469.6h0.95v0.95h-0.95zM261.1,467.3h0.95v0.95h-0.95zM259.2,469.7h0.95v0.95h-0.95zM259.2,466.5h0.95v0.95h-0.95zM258.1,469.0h0.95v0.95h-0.95zM259.4,469.6h0.95v0.95h-0.95zM261.0,466.4h0.95v0.95h-0.95zM259.4,466.6h0.95v0.95h-0.95zM259.2,465.4h0.95v0.95h-0.95zM260.5,465.2h0.95v0.95h-0.95zM259.9,462.8h0.95v0.95h-0.95zM258.6,464.0h0.95v0.95h-0.95zM261.1,469.7h0.95v0.95h-0.95zM258.7,459.5h0.95v0.95h-0.95zM258.8,468.5h0.95v0.95h-0.95zM260.3,460.1h0.95v0.95h-0.95zM261.1,467.5h0.95v0.95h-0.95zM257.4,461.9h0.95v0.95h-0.95zM259.8,465.4h0.95v0.95h-0.95zM260.7,464.6h0.95v0.95h-0.95zM258.5,460.6h0.95v0.95h-0.95zM259.0,466.5h0.95v0.95h-0.95zM260.6,464.6h0.95v0.95h-0.95zM260.8,469.0h0.95v0.95h-0.95zM260.2,461.2h0.95v0.95h-0.95zM258.9,468.6h0.95v0.95h-0.95zM259.5,462.9h0.95v0.95h-0.95zM258.6,469.1h0.95v0.95h-0.95zM259.7,464.9h0.95v0.95h-0.95zM227.6,477.0h0.95v0.95h-0.95zM235.0,476.6h0.95v0.95h-0.95zM201.4,474.1h0.95v0.95h-0.95zM202.3,473.4h0.95v0.95h-0.95zM249.2,477.7h0.95v0.95h-0.95zM187.5,478.8h0.95v0.95h-0.95zM187.8,477.8h0.95v0.95h-0.95zM187.8,479.1h0.95v0.95h-0.95zM237.5,477.4h0.95v0.95h-0.95zM239.1,477.2h0.95v0.95h-0.95zM191.3,478.5h0.95v0.95h-0.95zM191.2,477.9h0.95v0.95h-0.95zM189.9,478.3h0.95v0.95h-0.95zM190.2,477.0h0.95v0.95h-0.95zM197.5,478.7h0.95v0.95h-0.95zM197.1,479.2h0.95v0.95h-0.95zM195.4,478.6h0.95v0.95h-0.95zM198.2,477.5h0.95v0.95h-0.95zM199.3,477.3h0.95v0.95h-0.95zM199.7,477.6h0.95v0.95h-0.95zM198.4,479.2h0.95v0.95h-0.95zM244.8,478.5h0.95v0.95h-0.95zM246.2,479.0h0.95v0.95h-0.95zM245.8,478.5h0.95v0.95h-0.95zM187.8,471.2h0.95v0.95h-0.95zM188.4,470.7h0.95v0.95h-0.95zM188.3,477.8h0.95v0.95h-0.95zM196.0,474.3h0.95v0.95h-0.95zM195.5,475.6h0.95v0.95h-0.95zM195.8,473.2h0.95v0.95h-0.95zM195.3,474.5h0.95v0.95h-0.95zM196.4,475.6h0.95v0.95h-0.95zM196.6,470.6h0.95v0.95h-0.95zM195.5,471.9h0.95v0.95h-0.95zM198.0,472.1h0.95v0.95h-0.95zM196.8,474.9h0.95v0.95h-0.95zM197.3,474.5h0.95v0.95h-0.95zM197.5,474.0h0.95v0.95h-0.95zM196.7,475.6h0.95v0.95h-0.95zM196.9,471.8h0.95v0.95h-0.95zM197.4,470.6h0.95v0.95h-0.95zM203.6,476.5h0.95v0.95h-0.95zM203.3,473.2h0.95v0.95h-0.95zM203.4,473.0h0.95v0.95h-0.95zM203.8,470.3h0.95v0.95h-0.95zM203.0,472.0h0.95v0.95h-0.95zM203.5,473.6h0.95v0.95h-0.95zM207.3,472.0h0.95v0.95h-0.95zM206.7,471.3h0.95v0.95h-0.95zM207.3,472.2h0.95v0.95h-0.95zM206.7,469.9h0.95v0.95h-0.95zM207.1,476.5h0.95v0.95h-0.95zM206.9,471.7h0.95v0.95h-0.95zM219.7,477.9h0.95v0.95h-0.95zM220.1,471.0h0.95v0.95h-0.95zM220.8,470.4h0.95v0.95h-0.95zM219.3,476.0h0.95v0.95h-0.95zM220.7,476.6h0.95v0.95h-0.95zM220.7,476.7h0.95v0.95h-0.95zM233.0,471.9h0.95v0.95h-0.95zM232.5,470.4h0.95v0.95h-0.95zM233.2,474.0h0.95v0.95h-0.95zM232.3,472.9h0.95v0.95h-0.95zM237.0,474.4h0.95v0.95h-0.95zM236.5,473.9h0.95v0.95h-0.95zM237.0,470.4h0.95v0.95h-0.95zM236.8,472.9h0.95v0.95h-0.95zM236.3,471.0h0.95v0.95h-0.95zM243.4,470.6h0.95v0.95h-0.95zM244.2,477.7h0.95v0.95h-0.95zM252.1,472.8h0.95v0.95h-0.95zM252.0,476.2h0.95v0.95h-0.95zM251.3,476.9h0.95v0.95h-0.95zM257.8,477.9h0.95v0.95h-0.95zM258.5,470.7h0.95v0.95h-0.95zM259.2,477.9h0.95v0.95h-0.95zM258.5,470.6h0.95v0.95h-0.95zM257.3,478.4h0.95v0.95h-0.95zM260.8,474.1h0.95v0.95h-0.95zM259.8,477.1h0.95v0.95h-0.95zM258.4,477.5h0.95v0.95h-0.95zM258.8,470.6h0.95v0.95h-0.95zM257.5,474.9h0.95v0.95h-0.95zM257.9,475.6h0.95v0.95h-0.95zM259.2,473.9h0.95v0.95h-0.95zM258.8,474.8h0.95v0.95h-0.95zM259.0,474.9h0.95v0.95h-0.95zM259.5,472.4h0.95v0.95h-0.95zM258.9,471.4h0.95v0.95h-0.95zM258.4,472.0h0.95v0.95h-0.95zM259.4,470.0h0.95v0.95h-0.95zM257.3,470.7h0.95v0.95h-0.95zM260.1,477.6h0.95v0.95h-0.95zM260.9,472.7h0.95v0.95h-0.95zM260.3,474.7h0.95v0.95h-0.95zM258.8,470.4h0.95v0.95h-0.95zM258.5,476.0h0.95v0.95h-0.95zM260.8,476.9h0.95v0.95h-0.95zM257.5,476.0h0.95v0.95h-0.95zM258.5,474.1h0.95v0.95h-0.95zM214.8,486.6h0.95v0.95h-0.95zM248.6,481.7h0.95v0.95h-0.95zM208.1,486.4h0.95v0.95h-0.95zM212.6,487.7h0.95v0.95h-0.95zM231.1,488.3h0.95v0.95h-0.95zM231.3,488.2h0.95v0.95h-0.95zM232.4,487.7h0.95v0.95h-0.95zM244.0,488.7h0.95v0.95h-0.95zM244.2,487.2h0.95v0.95h-0.95zM243.9,489.3h0.95v0.95h-0.95zM195.9,488.6h0.95v0.95h-0.95zM197.1,487.0h0.95v0.95h-0.95zM204.6,488.9h0.95v0.95h-0.95zM203.9,487.3h0.95v0.95h-0.95zM241.2,488.1h0.95v0.95h-0.95zM241.7,488.7h0.95v0.95h-0.95zM240.9,489.1h0.95v0.95h-0.95zM244.1,487.5h0.95v0.95h-0.95zM191.1,488.1h0.95v0.95h-0.95zM192.6,488.3h0.95v0.95h-0.95zM187.5,479.4h0.95v0.95h-0.95zM187.3,486.2h0.95v0.95h-0.95zM187.9,487.6h0.95v0.95h-0.95zM187.8,481.3h0.95v0.95h-0.95zM196.7,485.5h0.95v0.95h-0.95zM195.3,478.6h0.95v0.95h-0.95zM196.5,487.1h0.95v0.95h-0.95zM195.3,482.3h0.95v0.95h-0.95zM195.6,483.1h0.95v0.95h-0.95zM195.9,483.8h0.95v0.95h-0.95zM196.3,487.7h0.95v0.95h-0.95zM197.2,486.4h0.95v0.95h-0.95zM197.7,480.3h0.95v0.95h-0.95zM198.1,487.6h0.95v0.95h-0.95zM197.0,486.8h0.95v0.95h-0.95zM198.0,479.2h0.95v0.95h-0.95zM197.0,486.5h0.95v0.95h-0.95zM197.6,485.6h0.95v0.95h-0.95zM198.0,486.1h0.95v0.95h-0.95zM204.3,484.0h0.95v0.95h-0.95zM203.6,479.4h0.95v0.95h-0.95zM204.0,480.9h0.95v0.95h-0.95zM203.1,482.0h0.95v0.95h-0.95zM203.9,485.4h0.95v0.95h-0.95zM207.5,480.0h0.95v0.95h-0.95zM207.3,478.8h0.95v0.95h-0.95zM206.8,482.6h0.95v0.95h-0.95zM207.3,487.4h0.95v0.95h-0.95zM207.2,478.8h0.95v0.95h-0.95zM220.6,482.0h0.95v0.95h-0.95zM220.2,482.3h0.95v0.95h-0.95zM220.6,482.7h0.95v0.95h-0.95zM219.5,486.6h0.95v0.95h-0.95zM220.5,484.0h0.95v0.95h-0.95zM220.5,481.5h0.95v0.95h-0.95zM220.2,487.0h0.95v0.95h-0.95zM228.4,479.0h0.95v0.95h-0.95zM233.3,483.8h0.95v0.95h-0.95zM233.4,487.2h0.95v0.95h-0.95zM233.8,488.0h0.95v0.95h-0.95zM232.5,483.3h0.95v0.95h-0.95zM232.7,480.2h0.95v0.95h-0.95zM233.4,481.4h0.95v0.95h-0.95zM232.6,486.7h0.95v0.95h-0.95zM237.2,485.3h0.95v0.95h-0.95zM237.6,486.5h0.95v0.95h-0.95zM237.4,483.7h0.95v0.95h-0.95zM237.7,488.3h0.95v0.95h-0.95zM236.7,482.5h0.95v0.95h-0.95zM252.3,480.6h0.95v0.95h-0.95zM251.8,481.6h0.95v0.95h-0.95zM251.6,487.4h0.95v0.95h-0.95zM259.2,482.1h0.95v0.95h-0.95zM257.7,484.5h0.95v0.95h-0.95zM259.2,479.2h0.95v0.95h-0.95zM258.7,482.8h0.95v0.95h-0.95zM258.4,480.7h0.95v0.95h-0.95zM260.2,479.4h0.95v0.95h-0.95zM259.2,487.7h0.95v0.95h-0.95zM259.8,484.2h0.95v0.95h-0.95zM260.7,488.2h0.95v0.95h-0.95zM259.6,479.5h0.95v0.95h-0.95zM258.1,483.4h0.95v0.95h-0.95zM258.2,482.1h0.95v0.95h-0.95zM258.4,483.2h0.95v0.95h-0.95zM258.2,485.2h0.95v0.95h-0.95zM260.2,481.6h0.95v0.95h-0.95zM257.6,480.9h0.95v0.95h-0.95zM257.5,486.1h0.95v0.95h-0.95zM259.2,481.0h0.95v0.95h-0.95zM258.7,482.3h0.95v0.95h-0.95zM260.8,479.8h0.95v0.95h-0.95zM257.3,487.0h0.95v0.95h-0.95zM259.6,480.2h0.95v0.95h-0.95zM259.9,479.7h0.95v0.95h-0.95zM258.4,481.7h0.95v0.95h-0.95zM259.1,483.7h0.95v0.95h-0.95zM259.1,483.3h0.95v0.95h-0.95zM257.5,488.4h0.95v0.95h-0.95zM259.4,479.0h0.95v0.95h-0.95zM259.5,485.6h0.95v0.95h-0.95zM259.1,498.7h0.95v0.95h-0.95zM214.0,494.8h0.95v0.95h-0.95zM198.4,490.3h0.95v0.95h-0.95zM245.2,498.8h0.95v0.95h-0.95zM244.6,498.2h0.95v0.95h-0.95zM244.5,499.6h0.95v0.95h-0.95zM192.7,498.0h0.95v0.95h-0.95zM192.5,498.3h0.95v0.95h-0.95zM191.3,497.8h0.95v0.95h-0.95zM192.1,499.2h0.95v0.95h-0.95zM191.2,497.9h0.95v0.95h-0.95zM192.5,498.8h0.95v0.95h-0.95zM225.5,499.1h0.95v0.95h-0.95zM224.7,498.9h0.95v0.95h-0.95zM218.9,497.6h0.95v0.95h-0.95zM218.3,497.6h0.95v0.95h-0.95zM219.1,498.2h0.95v0.95h-0.95zM218.6,497.5h0.95v0.95h-0.95zM216.4,498.4h0.95v0.95h-0.95zM217.8,497.8h0.95v0.95h-0.95zM217.5,497.9h0.95v0.95h-0.95zM218.6,498.5h0.95v0.95h-0.95zM203.7,499.6h0.95v0.95h-0.95zM204.4,499.3h0.95v0.95h-0.95zM187.4,489.3h0.95v0.95h-0.95zM187.3,492.1h0.95v0.95h-0.95zM187.0,495.4h0.95v0.95h-0.95zM196.7,490.8h0.95v0.95h-0.95zM195.4,493.7h0.95v0.95h-0.95zM196.3,493.3h0.95v0.95h-0.95zM196.3,491.3h0.95v0.95h-0.95zM196.2,498.9h0.95v0.95h-0.95zM195.8,488.8h0.95v0.95h-0.95zM196.1,497.4h0.95v0.95h-0.95zM195.8,494.2h0.95v0.95h-0.95zM197.3,494.9h0.95v0.95h-0.95zM196.7,491.5h0.95v0.95h-0.95zM197.3,497.1h0.95v0.95h-0.95zM197.8,496.7h0.95v0.95h-0.95zM197.2,490.2h0.95v0.95h-0.95zM197.3,490.4h0.95v0.95h-0.95zM197.3,494.5h0.95v0.95h-0.95zM204.0,498.1h0.95v0.95h-0.95zM204.2,494.2h0.95v0.95h-0.95zM203.3,493.1h0.95v0.95h-0.95zM204.2,497.5h0.95v0.95h-0.95zM202.9,495.5h0.95v0.95h-0.95zM207.6,496.7h0.95v0.95h-0.95zM206.2,494.2h0.95v0.95h-0.95zM206.6,492.3h0.95v0.95h-0.95zM220.4,495.4h0.95v0.95h-0.95zM219.8,497.8h0.95v0.95h-0.95zM219.5,488.6h0.95v0.95h-0.95zM220.6,488.8h0.95v0.95h-0.95zM220.1,492.3h0.95v0.95h-0.95zM228.4,490.9h0.95v0.95h-0.95zM227.8,493.9h0.95v0.95h-0.95zM232.5,490.6h0.95v0.95h-0.95zM233.4,488.7h0.95v0.95h-0.95zM233.2,493.2h0.95v0.95h-0.95zM232.9,492.8h0.95v0.95h-0.95zM232.7,497.8h0.95v0.95h-0.95zM232.7,491.3h0.95v0.95h-0.95zM233.0,498.8h0.95v0.95h-0.95zM237.1,497.4h0.95v0.95h-0.95zM237.2,497.9h0.95v0.95h-0.95zM236.2,488.6h0.95v0.95h-0.95zM237.6,492.8h0.95v0.95h-0.95zM236.5,497.4h0.95v0.95h-0.95zM244.4,492.3h0.95v0.95h-0.95zM243.4,492.7h0.95v0.95h-0.95zM243.5,497.5h0.95v0.95h-0.95zM251.2,488.6h0.95v0.95h-0.95zM252.2,498.7h0.95v0.95h-0.95zM251.4,496.6h0.95v0.95h-0.95zM258.4,491.5h0.95v0.95h-0.95zM258.9,498.6h0.95v0.95h-0.95zM261.2,491.2h0.95v0.95h-0.95zM257.5,497.7h0.95v0.95h-0.95zM257.6,492.9h0.95v0.95h-0.95zM261.0,492.4h0.95v0.95h-0.95zM258.4,497.9h0.95v0.95h-0.95zM258.8,492.6h0.95v0.95h-0.95zM259.1,497.6h0.95v0.95h-0.95zM259.1,497.7h0.95v0.95h-0.95zM257.6,495.5h0.95v0.95h-0.95zM260.6,498.2h0.95v0.95h-0.95zM259.4,493.6h0.95v0.95h-0.95zM260.9,488.7h0.95v0.95h-0.95zM260.7,489.5h0.95v0.95h-0.95zM258.7,492.2h0.95v0.95h-0.95zM259.8,495.8h0.95v0.95h-0.95zM258.6,498.0h0.95v0.95h-0.95zM260.3,498.7h0.95v0.95h-0.95zM258.5,498.3h0.95v0.95h-0.95zM258.1,494.7h0.95v0.95h-0.95zM260.7,492.6h0.95v0.95h-0.95zM257.8,491.1h0.95v0.95h-0.95zM261.2,491.0h0.95v0.95h-0.95zM258.5,495.5h0.95v0.95h-0.95zM258.6,489.3h0.95v0.95h-0.95zM260.1,491.2h0.95v0.95h-0.95zM202.6,502.5h0.95v0.95h-0.95zM203.1,509.4h0.95v0.95h-0.95zM200.0,499.1h0.95v0.95h-0.95zM227.5,500.6h0.95v0.95h-0.95zM248.2,509.5h0.95v0.95h-0.95zM249.7,510.6h0.95v0.95h-0.95zM249.6,511.0h0.95v0.95h-0.95zM219.4,509.5h0.95v0.95h-0.95zM219.9,510.0h0.95v0.95h-0.95zM206.8,509.6h0.95v0.95h-0.95zM207.3,511.2h0.95v0.95h-0.95zM207.5,511.4h0.95v0.95h-0.95zM221.8,510.9h0.95v0.95h-0.95zM221.4,511.3h0.95v0.95h-0.95zM222.2,511.3h0.95v0.95h-0.95zM221.0,511.1h0.95v0.95h-0.95zM201.2,509.0h0.95v0.95h-0.95zM202.5,511.3h0.95v0.95h-0.95zM241.7,509.1h0.95v0.95h-0.95zM242.1,509.9h0.95v0.95h-0.95zM241.9,511.4h0.95v0.95h-0.95zM241.4,509.3h0.95v0.95h-0.95zM203.2,511.2h0.95v0.95h-0.95zM202.2,509.8h0.95v0.95h-0.95zM187.7,503.8h0.95v0.95h-0.95zM188.5,505.5h0.95v0.95h-0.95zM187.0,501.0h0.95v0.95h-0.95zM195.7,505.7h0.95v0.95h-0.95zM196.4,503.1h0.95v0.95h-0.95zM196.0,507.1h0.95v0.95h-0.95zM196.4,509.0h0.95v0.95h-0.95zM195.3,500.7h0.95v0.95h-0.95zM195.8,500.8h0.95v0.95h-0.95zM195.4,503.3h0.95v0.95h-0.95zM196.6,507.5h0.95v0.95h-0.95zM196.6,505.7h0.95v0.95h-0.95zM197.5,500.5h0.95v0.95h-0.95zM197.9,499.5h0.95v0.95h-0.95zM196.7,509.5h0.95v0.95h-0.95zM197.7,503.0h0.95v0.95h-0.95zM197.1,500.7h0.95v0.95h-0.95zM203.0,504.1h0.95v0.95h-0.95zM203.4,505.3h0.95v0.95h-0.95zM204.4,508.6h0.95v0.95h-0.95zM203.5,506.5h0.95v0.95h-0.95zM203.1,506.7h0.95v0.95h-0.95zM203.8,504.7h0.95v0.95h-0.95zM207.1,509.9h0.95v0.95h-0.95zM206.0,507.3h0.95v0.95h-0.95zM206.4,508.6h0.95v0.95h-0.95zM206.5,509.6h0.95v0.95h-0.95zM207.3,503.4h0.95v0.95h-0.95zM220.4,502.5h0.95v0.95h-0.95zM219.6,502.7h0.95v0.95h-0.95zM220.7,499.7h0.95v0.95h-0.95zM220.1,506.0h0.95v0.95h-0.95zM219.6,503.8h0.95v0.95h-0.95zM228.9,503.3h0.95v0.95h-0.95zM233.6,499.6h0.95v0.95h-0.95zM233.8,508.4h0.95v0.95h-0.95zM233.3,500.0h0.95v0.95h-0.95zM232.6,508.5h0.95v0.95h-0.95zM233.0,505.7h0.95v0.95h-0.95zM233.0,508.4h0.95v0.95h-0.95zM233.7,502.5h0.95v0.95h-0.95zM237.2,506.5h0.95v0.95h-0.95zM237.3,508.9h0.95v0.95h-0.95zM237.4,502.0h0.95v0.95h-0.95zM236.2,507.1h0.95v0.95h-0.95zM251.0,503.5h0.95v0.95h-0.95zM260.0,507.6h0.95v0.95h-0.95zM260.2,506.1h0.95v0.95h-0.95zM258.6,509.7h0.95v0.95h-0.95zM260.6,500.8h0.95v0.95h-0.95zM259.1,505.3h0.95v0.95h-0.95zM258.1,507.3h0.95v0.95h-0.95zM257.2,509.0h0.95v0.95h-0.95zM258.5,500.4h0.95v0.95h-0.95zM257.8,502.9h0.95v0.95h-0.95zM260.9,505.3h0.95v0.95h-0.95zM259.3,510.6h0.95v0.95h-0.95zM260.6,502.1h0.95v0.95h-0.95zM260.8,499.9h0.95v0.95h-0.95zM257.5,501.3h0.95v0.95h-0.95zM261.2,500.8h0.95v0.95h-0.95zM261.1,501.3h0.95v0.95h-0.95zM257.6,500.2h0.95v0.95h-0.95zM259.6,506.4h0.95v0.95h-0.95zM261.1,508.3h0.95v0.95h-0.95zM260.3,501.1h0.95v0.95h-0.95zM258.9,502.4h0.95v0.95h-0.95zM261.0,508.6h0.95v0.95h-0.95zM257.9,509.1h0.95v0.95h-0.95zM257.5,503.3h0.95v0.95h-0.95zM261.1,504.1h0.95v0.95h-0.95zM257.8,508.8h0.95v0.95h-0.95zM259.2,509.2h0.95v0.95h-0.95zM259.2,508.2h0.95v0.95h-0.95zM260.4,503.0h0.95v0.95h-0.95zM257.6,505.6h0.95v0.95h-0.95zM230.7,522.2h0.95v0.95h-0.95zM206.8,513.3h0.95v0.95h-0.95zM258.8,512.2h0.95v0.95h-0.95zM227.2,517.3h0.95v0.95h-0.95zM233.2,512.1h0.95v0.95h-0.95zM202.7,523.1h0.95v0.95h-0.95zM240.2,522.6h0.95v0.95h-0.95zM240.5,523.4h0.95v0.95h-0.95zM240.7,521.3h0.95v0.95h-0.95zM249.2,522.4h0.95v0.95h-0.95zM221.3,521.0h0.95v0.95h-0.95zM205.9,521.6h0.95v0.95h-0.95zM206.2,522.4h0.95v0.95h-0.95zM234.9,522.8h0.95v0.95h-0.95zM236.0,522.3h0.95v0.95h-0.95zM202.5,521.6h0.95v0.95h-0.95zM203.6,521.9h0.95v0.95h-0.95zM204.1,522.3h0.95v0.95h-0.95zM202.6,522.5h0.95v0.95h-0.95zM203.4,522.9h0.95v0.95h-0.95zM187.4,518.9h0.95v0.95h-0.95zM187.4,511.8h0.95v0.95h-0.95zM187.2,514.2h0.95v0.95h-0.95zM187.2,517.2h0.95v0.95h-0.95zM196.0,514.1h0.95v0.95h-0.95zM196.3,519.5h0.95v0.95h-0.95zM196.5,514.2h0.95v0.95h-0.95zM196.7,512.4h0.95v0.95h-0.95zM196.2,513.1h0.95v0.95h-0.95zM196.5,510.7h0.95v0.95h-0.95zM195.9,522.3h0.95v0.95h-0.95zM197.8,519.5h0.95v0.95h-0.95zM197.3,518.7h0.95v0.95h-0.95zM196.9,518.3h0.95v0.95h-0.95zM197.6,521.8h0.95v0.95h-0.95zM198.1,511.0h0.95v0.95h-0.95zM196.8,521.1h0.95v0.95h-0.95zM197.9,514.6h0.95v0.95h-0.95zM203.8,512.2h0.95v0.95h-0.95zM204.2,518.6h0.95v0.95h-0.95zM202.9,511.4h0.95v0.95h-0.95zM202.9,516.7h0.95v0.95h-0.95zM203.0,512.4h0.95v0.95h-0.95zM206.9,518.8h0.95v0.95h-0.95zM207.6,517.3h0.95v0.95h-0.95zM206.0,516.1h0.95v0.95h-0.95zM207.3,518.8h0.95v0.95h-0.95zM206.3,513.2h0.95v0.95h-0.95zM220.1,518.5h0.95v0.95h-0.95zM219.6,516.3h0.95v0.95h-0.95zM220.5,521.2h0.95v0.95h-0.95zM220.1,521.1h0.95v0.95h-0.95zM220.1,520.9h0.95v0.95h-0.95zM220.2,518.4h0.95v0.95h-0.95zM228.7,512.7h0.95v0.95h-0.95zM232.4,520.6h0.95v0.95h-0.95zM232.5,519.1h0.95v0.95h-0.95zM232.6,514.6h0.95v0.95h-0.95zM232.4,522.3h0.95v0.95h-0.95zM232.9,517.1h0.95v0.95h-0.95zM232.3,515.9h0.95v0.95h-0.95zM237.3,512.1h0.95v0.95h-0.95zM236.3,521.7h0.95v0.95h-0.95zM236.5,520.6h0.95v0.95h-0.95zM244.5,516.6h0.95v0.95h-0.95zM244.8,516.0h0.95v0.95h-0.95zM251.0,520.7h0.95v0.95h-0.95zM251.1,520.8h0.95v0.95h-0.95zM258.7,511.4h0.95v0.95h-0.95zM259.4,521.3h0.95v0.95h-0.95zM257.4,521.4h0.95v0.95h-0.95zM258.2,515.4h0.95v0.95h-0.95zM260.2,511.2h0.95v0.95h-0.95zM259.9,511.6h0.95v0.95h-0.95zM258.0,513.7h0.95v0.95h-0.95zM259.7,519.6h0.95v0.95h-0.95zM260.9,514.1h0.95v0.95h-0.95zM260.8,513.4h0.95v0.95h-0.95zM259.4,518.1h0.95v0.95h-0.95zM260.6,520.5h0.95v0.95h-0.95zM260.3,513.9h0.95v0.95h-0.95zM260.5,517.5h0.95v0.95h-0.95zM257.5,520.1h0.95v0.95h-0.95zM259.0,511.8h0.95v0.95h-0.95zM259.7,522.2h0.95v0.95h-0.95zM258.5,516.4h0.95v0.95h-0.95zM260.7,515.6h0.95v0.95h-0.95zM261.2,520.6h0.95v0.95h-0.95zM257.8,522.4h0.95v0.95h-0.95zM259.5,520.1h0.95v0.95h-0.95zM257.5,513.5h0.95v0.95h-0.95zM259.2,520.4h0.95v0.95h-0.95zM258.3,519.7h0.95v0.95h-0.95zM257.9,518.7h0.95v0.95h-0.95zM258.0,518.1h0.95v0.95h-0.95zM245.6,523.1h0.95v0.95h-0.95zM229.4,532.3h0.95v0.95h-0.95zM254.0,531.5h0.95v0.95h-0.95zM254.7,528.0h0.95v0.95h-0.95zM207.9,532.3h0.95v0.95h-0.95zM207.2,532.7h0.95v0.95h-0.95zM207.8,532.3h0.95v0.95h-0.95zM206.9,533.2h0.95v0.95h-0.95zM196.8,533.3h0.95v0.95h-0.95zM196.0,534.1h0.95v0.95h-0.95zM189.3,532.3h0.95v0.95h-0.95zM188.2,534.0h0.95v0.95h-0.95zM213.1,531.9h0.95v0.95h-0.95zM212.7,533.7h0.95v0.95h-0.95zM221.9,532.4h0.95v0.95h-0.95zM221.3,533.8h0.95v0.95h-0.95zM195.1,532.6h0.95v0.95h-0.95zM195.2,532.9h0.95v0.95h-0.95zM201.4,532.5h0.95v0.95h-0.95zM203.3,534.0h0.95v0.95h-0.95zM202.9,532.9h0.95v0.95h-0.95zM188.4,528.6h0.95v0.95h-0.95zM187.8,525.8h0.95v0.95h-0.95zM187.4,530.8h0.95v0.95h-0.95zM195.7,527.3h0.95v0.95h-0.95zM196.0,532.5h0.95v0.95h-0.95zM195.8,530.0h0.95v0.95h-0.95zM196.2,531.0h0.95v0.95h-0.95zM195.2,526.5h0.95v0.95h-0.95zM196.8,530.1h0.95v0.95h-0.95zM195.8,528.8h0.95v0.95h-0.95zM196.7,532.8h0.95v0.95h-0.95zM197.8,526.8h0.95v0.95h-0.95zM198.0,524.6h0.95v0.95h-0.95zM198.2,532.3h0.95v0.95h-0.95zM197.1,527.0h0.95v0.95h-0.95zM197.3,522.7h0.95v0.95h-0.95zM196.8,526.2h0.95v0.95h-0.95zM196.7,529.3h0.95v0.95h-0.95zM197.2,529.1h0.95v0.95h-0.95zM204.4,524.7h0.95v0.95h-0.95zM203.8,525.0h0.95v0.95h-0.95zM203.4,528.0h0.95v0.95h-0.95zM204.1,532.8h0.95v0.95h-0.95zM207.5,526.0h0.95v0.95h-0.95zM207.6,524.2h0.95v0.95h-0.95zM206.6,529.3h0.95v0.95h-0.95zM206.5,524.2h0.95v0.95h-0.95zM206.9,525.6h0.95v0.95h-0.95zM206.3,525.3h0.95v0.95h-0.95zM220.8,522.5h0.95v0.95h-0.95zM219.7,530.6h0.95v0.95h-0.95zM220.3,529.8h0.95v0.95h-0.95zM219.5,529.2h0.95v0.95h-0.95zM219.5,522.5h0.95v0.95h-0.95zM220.1,529.0h0.95v0.95h-0.95zM219.9,528.9h0.95v0.95h-0.95zM228.6,529.7h0.95v0.95h-0.95zM232.7,529.3h0.95v0.95h-0.95zM233.6,530.7h0.95v0.95h-0.95zM232.9,531.3h0.95v0.95h-0.95zM232.8,531.4h0.95v0.95h-0.95zM232.3,531.6h0.95v0.95h-0.95zM233.3,523.2h0.95v0.95h-0.95zM237.1,527.9h0.95v0.95h-0.95zM236.7,531.8h0.95v0.95h-0.95zM237.4,528.5h0.95v0.95h-0.95zM237.6,523.2h0.95v0.95h-0.95zM244.1,533.4h0.95v0.95h-0.95zM252.2,525.9h0.95v0.95h-0.95zM252.0,525.6h0.95v0.95h-0.95zM259.5,526.3h0.95v0.95h-0.95zM258.5,525.0h0.95v0.95h-0.95zM259.3,523.6h0.95v0.95h-0.95zM261.0,523.2h0.95v0.95h-0.95zM260.1,525.0h0.95v0.95h-0.95zM258.1,526.7h0.95v0.95h-0.95zM261.0,529.6h0.95v0.95h-0.95zM257.9,523.3h0.95v0.95h-0.95zM258.7,525.6h0.95v0.95h-0.95zM259.0,530.1h0.95v0.95h-0.95zM260.2,532.1h0.95v0.95h-0.95zM258.5,529.9h0.95v0.95h-0.95zM257.7,526.5h0.95v0.95h-0.95zM257.3,524.9h0.95v0.95h-0.95zM260.8,530.2h0.95v0.95h-0.95zM258.5,523.4h0.95v0.95h-0.95zM261.1,527.8h0.95v0.95h-0.95zM259.7,528.1h0.95v0.95h-0.95zM260.2,524.4h0.95v0.95h-0.95zM261.2,531.1h0.95v0.95h-0.95zM261.0,525.7h0.95v0.95h-0.95zM259.2,527.8h0.95v0.95h-0.95zM260.4,529.8h0.95v0.95h-0.95zM258.7,524.1h0.95v0.95h-0.95zM257.4,532.2h0.95v0.95h-0.95zM260.8,527.2h0.95v0.95h-0.95zM258.6,531.5h0.95v0.95h-0.95zM251.9,539.6h0.95v0.95h-0.95zM211.1,540.6h0.95v0.95h-0.95zM227.0,537.8h0.95v0.95h-0.95zM252.0,543.2h0.95v0.95h-0.95zM216.9,541.1h0.95v0.95h-0.95zM191.8,544.2h0.95v0.95h-0.95zM192.4,543.7h0.95v0.95h-0.95zM201.6,545.3h0.95v0.95h-0.95zM202.8,544.2h0.95v0.95h-0.95zM204.9,543.5h0.95v0.95h-0.95zM205.1,543.7h0.95v0.95h-0.95zM206.4,544.9h0.95v0.95h-0.95zM213.4,545.0h0.95v0.95h-0.95zM209.0,543.0h0.95v0.95h-0.95zM209.4,543.3h0.95v0.95h-0.95zM209.5,544.5h0.95v0.95h-0.95zM209.5,543.9h0.95v0.95h-0.95zM213.5,545.3h0.95v0.95h-0.95zM213.5,544.9h0.95v0.95h-0.95zM252.6,544.7h0.95v0.95h-0.95zM252.5,543.5h0.95v0.95h-0.95zM187.4,533.7h0.95v0.95h-0.95zM187.8,538.7h0.95v0.95h-0.95zM187.7,543.8h0.95v0.95h-0.95zM187.7,536.0h0.95v0.95h-0.95zM196.0,536.8h0.95v0.95h-0.95zM196.1,541.3h0.95v0.95h-0.95zM196.5,535.1h0.95v0.95h-0.95zM195.4,541.8h0.95v0.95h-0.95zM196.5,535.3h0.95v0.95h-0.95zM195.6,538.2h0.95v0.95h-0.95zM195.8,533.9h0.95v0.95h-0.95zM196.1,535.4h0.95v0.95h-0.95zM197.4,536.9h0.95v0.95h-0.95zM198.1,541.5h0.95v0.95h-0.95zM197.4,539.9h0.95v0.95h-0.95zM196.9,533.6h0.95v0.95h-0.95zM197.8,541.2h0.95v0.95h-0.95zM197.4,541.7h0.95v0.95h-0.95zM197.9,538.6h0.95v0.95h-0.95zM197.2,534.5h0.95v0.95h-0.95zM203.2,537.7h0.95v0.95h-0.95zM204.3,537.6h0.95v0.95h-0.95zM203.3,542.6h0.95v0.95h-0.95zM204.1,539.8h0.95v0.95h-0.95zM202.9,540.9h0.95v0.95h-0.95zM203.2,542.2h0.95v0.95h-0.95zM207.3,534.5h0.95v0.95h-0.95zM206.9,535.3h0.95v0.95h-0.95zM206.4,542.9h0.95v0.95h-0.95zM206.0,537.7h0.95v0.95h-0.95zM207.1,539.0h0.95v0.95h-0.95zM207.0,536.8h0.95v0.95h-0.95zM219.8,541.4h0.95v0.95h-0.95zM219.4,535.8h0.95v0.95h-0.95zM219.8,534.0h0.95v0.95h-0.95zM219.7,541.2h0.95v0.95h-0.95zM219.9,535.0h0.95v0.95h-0.95zM219.3,538.0h0.95v0.95h-0.95zM219.9,542.7h0.95v0.95h-0.95zM232.3,533.8h0.95v0.95h-0.95zM233.6,534.0h0.95v0.95h-0.95zM233.7,535.3h0.95v0.95h-0.95zM233.5,538.8h0.95v0.95h-0.95zM232.3,542.7h0.95v0.95h-0.95zM233.2,540.6h0.95v0.95h-0.95zM232.8,535.1h0.95v0.95h-0.95zM237.3,535.6h0.95v0.95h-0.95zM237.3,543.4h0.95v0.95h-0.95zM237.1,534.5h0.95v0.95h-0.95zM237.1,537.9h0.95v0.95h-0.95zM237.4,540.3h0.95v0.95h-0.95zM243.7,543.5h0.95v0.95h-0.95zM243.8,536.3h0.95v0.95h-0.95zM251.9,535.7h0.95v0.95h-0.95zM251.4,539.6h0.95v0.95h-0.95zM257.6,539.4h0.95v0.95h-0.95zM258.2,535.6h0.95v0.95h-0.95zM259.0,543.1h0.95v0.95h-0.95zM258.2,542.9h0.95v0.95h-0.95zM258.9,535.4h0.95v0.95h-0.95zM259.1,534.5h0.95v0.95h-0.95zM258.2,539.4h0.95v0.95h-0.95zM257.8,541.3h0.95v0.95h-0.95zM259.1,542.6h0.95v0.95h-0.95zM260.2,534.1h0.95v0.95h-0.95zM257.7,540.6h0.95v0.95h-0.95zM260.3,534.6h0.95v0.95h-0.95zM258.6,543.3h0.95v0.95h-0.95zM259.0,536.2h0.95v0.95h-0.95zM258.5,538.9h0.95v0.95h-0.95zM260.2,538.2h0.95v0.95h-0.95zM258.5,536.5h0.95v0.95h-0.95zM258.7,534.2h0.95v0.95h-0.95zM260.3,534.1h0.95v0.95h-0.95zM260.6,544.1h0.95v0.95h-0.95zM259.0,533.9h0.95v0.95h-0.95zM257.6,541.9h0.95v0.95h-0.95zM258.8,538.8h0.95v0.95h-0.95zM260.1,537.4h0.95v0.95h-0.95zM259.4,541.2h0.95v0.95h-0.95zM206.4,552.6h0.95v0.95h-0.95zM217.7,555.9h0.95v0.95h-0.95zM257.5,553.2h0.95v0.95h-0.95zM200.3,554.9h0.95v0.95h-0.95zM222.9,555.5h0.95v0.95h-0.95zM223.1,554.8h0.95v0.95h-0.95zM228.5,554.7h0.95v0.95h-0.95zM219.5,556.0h0.95v0.95h-0.95zM245.4,554.9h0.95v0.95h-0.95zM195.8,555.9h0.95v0.95h-0.95zM195.6,556.0h0.95v0.95h-0.95zM194.5,556.3h0.95v0.95h-0.95zM232.8,556.4h0.95v0.95h-0.95zM232.9,556.9h0.95v0.95h-0.95zM233.0,555.5h0.95v0.95h-0.95zM233.3,556.9h0.95v0.95h-0.95zM231.5,555.4h0.95v0.95h-0.95zM188.3,555.7h0.95v0.95h-0.95zM187.6,554.9h0.95v0.95h-0.95zM186.9,554.2h0.95v0.95h-0.95zM195.2,552.8h0.95v0.95h-0.95zM196.0,549.2h0.95v0.95h-0.95zM195.9,547.5h0.95v0.95h-0.95zM196.6,547.8h0.95v0.95h-0.95zM196.1,545.3h0.95v0.95h-0.95zM196.3,549.0h0.95v0.95h-0.95zM195.8,550.5h0.95v0.95h-0.95zM197.4,548.8h0.95v0.95h-0.95zM197.2,554.8h0.95v0.95h-0.95zM197.0,548.0h0.95v0.95h-0.95zM197.6,546.8h0.95v0.95h-0.95zM198.2,546.1h0.95v0.95h-0.95zM196.8,548.2h0.95v0.95h-0.95zM197.6,555.6h0.95v0.95h-0.95zM203.8,555.6h0.95v0.95h-0.95zM203.3,551.8h0.95v0.95h-0.95zM204.2,553.4h0.95v0.95h-0.95zM203.4,552.9h0.95v0.95h-0.95zM203.9,547.8h0.95v0.95h-0.95zM206.4,546.4h0.95v0.95h-0.95zM207.5,550.4h0.95v0.95h-0.95zM207.6,553.3h0.95v0.95h-0.95zM207.4,551.4h0.95v0.95h-0.95zM206.4,553.9h0.95v0.95h-0.95zM220.0,550.2h0.95v0.95h-0.95zM219.4,549.1h0.95v0.95h-0.95zM219.9,546.6h0.95v0.95h-0.95zM220.7,552.9h0.95v0.95h-0.95zM219.6,553.7h0.95v0.95h-0.95zM220.8,549.6h0.95v0.95h-0.95zM229.1,553.1h0.95v0.95h-0.95zM233.3,549.9h0.95v0.95h-0.95zM232.9,551.7h0.95v0.95h-0.95zM232.4,551.9h0.95v0.95h-0.95zM233.2,555.4h0.95v0.95h-0.95zM233.0,545.9h0.95v0.95h-0.95zM233.2,551.8h0.95v0.95h-0.95zM232.9,550.9h0.95v0.95h-0.95zM236.5,547.8h0.95v0.95h-0.95zM237.5,548.0h0.95v0.95h-0.95zM237.4,553.2h0.95v0.95h-0.95zM236.8,548.2h0.95v0.95h-0.95zM236.3,545.2h0.95v0.95h-0.95zM250.8,545.6h0.95v0.95h-0.95zM252.3,545.2h0.95v0.95h-0.95zM259.3,547.5h0.95v0.95h-0.95zM258.3,548.8h0.95v0.95h-0.95zM258.3,547.1h0.95v0.95h-0.95zM258.6,549.1h0.95v0.95h-0.95zM259.1,544.9h0.95v0.95h-0.95zM260.3,544.8h0.95v0.95h-0.95zM260.6,551.8h0.95v0.95h-0.95zM258.2,555.6h0.95v0.95h-0.95zM259.0,554.4h0.95v0.95h-0.95zM257.5,553.7h0.95v0.95h-0.95zM258.8,546.4h0.95v0.95h-0.95zM259.7,546.0h0.95v0.95h-0.95zM257.3,553.8h0.95v0.95h-0.95zM258.7,549.3h0.95v0.95h-0.95zM259.5,554.0h0.95v0.95h-0.95zM258.9,554.5h0.95v0.95h-0.95zM260.6,553.8h0.95v0.95h-0.95zM261.1,545.6h0.95v0.95h-0.95zM257.6,546.4h0.95v0.95h-0.95zM258.9,548.1h0.95v0.95h-0.95zM259.1,554.0h0.95v0.95h-0.95zM259.4,553.5h0.95v0.95h-0.95zM260.5,554.5h0.95v0.95h-0.95zM261.1,548.0h0.95v0.95h-0.95zM258.0,553.4h0.95v0.95h-0.95zM257.8,546.9h0.95v0.95h-0.95zM259.7,555.1h0.95v0.95h-0.95zM259.1,555.9h0.95v0.95h-0.95zM234.9,557.7h0.95v0.95h-0.95zM252.6,560.6h0.95v0.95h-0.95zM228.6,566.3h0.95v0.95h-0.95zM228.4,558.2h0.95v0.95h-0.95zM242.4,566.1h0.95v0.95h-0.95zM243.6,566.2h0.95v0.95h-0.95zM241.6,566.1h0.95v0.95h-0.95zM192.5,567.0h0.95v0.95h-0.95zM193.2,567.2h0.95v0.95h-0.95zM193.9,566.9h0.95v0.95h-0.95zM202.3,566.4h0.95v0.95h-0.95zM201.6,565.9h0.95v0.95h-0.95zM202.0,567.0h0.95v0.95h-0.95zM202.5,568.1h0.95v0.95h-0.95zM206.4,566.2h0.95v0.95h-0.95zM208.2,568.3h0.95v0.95h-0.95zM207.2,566.5h0.95v0.95h-0.95zM206.6,568.4h0.95v0.95h-0.95zM206.8,567.6h0.95v0.95h-0.95zM208.0,567.4h0.95v0.95h-0.95zM220.0,567.0h0.95v0.95h-0.95zM220.5,566.3h0.95v0.95h-0.95zM225.7,566.6h0.95v0.95h-0.95zM226.6,566.3h0.95v0.95h-0.95zM226.2,567.8h0.95v0.95h-0.95zM227.5,566.8h0.95v0.95h-0.95zM188.0,556.7h0.95v0.95h-0.95zM188.2,563.1h0.95v0.95h-0.95zM187.4,566.4h0.95v0.95h-0.95zM188.0,566.4h0.95v0.95h-0.95zM196.1,567.3h0.95v0.95h-0.95zM196.5,560.4h0.95v0.95h-0.95zM196.4,565.9h0.95v0.95h-0.95zM196.6,561.0h0.95v0.95h-0.95zM195.6,567.3h0.95v0.95h-0.95zM196.2,558.5h0.95v0.95h-0.95zM196.0,564.0h0.95v0.95h-0.95zM198.1,562.9h0.95v0.95h-0.95zM198.1,560.3h0.95v0.95h-0.95zM196.6,561.7h0.95v0.95h-0.95zM197.1,563.8h0.95v0.95h-0.95zM196.7,559.0h0.95v0.95h-0.95zM197.7,561.7h0.95v0.95h-0.95zM196.8,561.9h0.95v0.95h-0.95zM203.3,564.5h0.95v0.95h-0.95zM203.1,559.4h0.95v0.95h-0.95zM202.9,564.9h0.95v0.95h-0.95zM203.5,562.4h0.95v0.95h-0.95zM203.1,562.4h0.95v0.95h-0.95zM203.7,559.3h0.95v0.95h-0.95zM207.0,559.5h0.95v0.95h-0.95zM206.1,565.1h0.95v0.95h-0.95zM207.5,557.0h0.95v0.95h-0.95zM207.2,560.6h0.95v0.95h-0.95zM206.7,561.2h0.95v0.95h-0.95zM206.0,563.8h0.95v0.95h-0.95zM220.0,557.2h0.95v0.95h-0.95zM219.3,562.4h0.95v0.95h-0.95zM220.3,561.2h0.95v0.95h-0.95zM220.5,559.1h0.95v0.95h-0.95zM219.6,562.1h0.95v0.95h-0.95zM219.6,563.8h0.95v0.95h-0.95zM228.9,558.4h0.95v0.95h-0.95zM233.0,561.6h0.95v0.95h-0.95zM232.6,559.8h0.95v0.95h-0.95zM233.8,557.3h0.95v0.95h-0.95zM233.0,564.8h0.95v0.95h-0.95zM232.5,562.2h0.95v0.95h-0.95zM232.9,567.2h0.95v0.95h-0.95zM237.7,563.8h0.95v0.95h-0.95zM236.4,556.5h0.95v0.95h-0.95zM237.6,565.8h0.95v0.95h-0.95zM237.6,564.8h0.95v0.95h-0.95zM236.9,564.0h0.95v0.95h-0.95zM243.3,565.6h0.95v0.95h-0.95zM252.2,561.3h0.95v0.95h-0.95zM251.9,566.8h0.95v0.95h-0.95zM251.5,567.1h0.95v0.95h-0.95zM259.9,564.1h0.95v0.95h-0.95zM258.9,561.9h0.95v0.95h-0.95zM260.8,564.3h0.95v0.95h-0.95zM260.7,559.7h0.95v0.95h-0.95zM260.7,565.4h0.95v0.95h-0.95zM260.2,561.3h0.95v0.95h-0.95zM261.2,556.3h0.95v0.95h-0.95zM260.3,567.5h0.95v0.95h-0.95zM259.1,566.4h0.95v0.95h-0.95zM258.5,565.5h0.95v0.95h-0.95zM258.1,557.5h0.95v0.95h-0.95zM261.1,558.0h0.95v0.95h-0.95zM260.4,565.1h0.95v0.95h-0.95zM261.2,556.9h0.95v0.95h-0.95zM258.1,563.9h0.95v0.95h-0.95zM260.1,561.1h0.95v0.95h-0.95zM257.6,564.3h0.95v0.95h-0.95zM257.3,557.3h0.95v0.95h-0.95zM260.9,564.8h0.95v0.95h-0.95zM259.4,558.7h0.95v0.95h-0.95zM258.4,567.4h0.95v0.95h-0.95zM260.4,557.0h0.95v0.95h-0.95zM190.2,575.2h0.95v0.95h-0.95zM239.7,571.5h0.95v0.95h-0.95zM223.8,573.5h0.95v0.95h-0.95zM193.5,568.3h0.95v0.95h-0.95zM187.6,569.1h0.95v0.95h-0.95zM242.7,577.0h0.95v0.95h-0.95zM243.1,577.7h0.95v0.95h-0.95zM198.6,576.2h0.95v0.95h-0.95zM197.4,577.8h0.95v0.95h-0.95zM218.4,577.9h0.95v0.95h-0.95zM217.9,577.4h0.95v0.95h-0.95zM217.5,577.5h0.95v0.95h-0.95zM217.1,576.3h0.95v0.95h-0.95zM195.2,576.4h0.95v0.95h-0.95zM196.8,575.9h0.95v0.95h-0.95zM195.0,576.8h0.95v0.95h-0.95zM196.8,577.5h0.95v0.95h-0.95zM196.5,577.1h0.95v0.95h-0.95zM214.2,576.0h0.95v0.95h-0.95zM212.6,576.2h0.95v0.95h-0.95zM248.3,577.6h0.95v0.95h-0.95zM248.5,577.8h0.95v0.95h-0.95zM248.4,576.8h0.95v0.95h-0.95zM213.5,576.7h0.95v0.95h-0.95zM188.4,569.9h0.95v0.95h-0.95zM188.2,568.1h0.95v0.95h-0.95zM187.8,572.2h0.95v0.95h-0.95zM188.1,573.3h0.95v0.95h-0.95zM196.2,571.2h0.95v0.95h-0.95zM196.3,569.4h0.95v0.95h-0.95zM195.3,569.5h0.95v0.95h-0.95zM196.4,572.7h0.95v0.95h-0.95zM196.2,571.7h0.95v0.95h-0.95zM196.0,576.1h0.95v0.95h-0.95zM197.6,569.1h0.95v0.95h-0.95zM197.5,572.6h0.95v0.95h-0.95zM196.7,569.7h0.95v0.95h-0.95zM196.8,575.2h0.95v0.95h-0.95zM196.9,575.3h0.95v0.95h-0.95zM197.9,572.6h0.95v0.95h-0.95zM197.5,571.7h0.95v0.95h-0.95zM203.8,572.9h0.95v0.95h-0.95zM203.5,568.9h0.95v0.95h-0.95zM203.1,570.4h0.95v0.95h-0.95zM203.9,572.8h0.95v0.95h-0.95zM202.9,568.7h0.95v0.95h-0.95zM207.1,567.6h0.95v0.95h-0.95zM207.6,571.1h0.95v0.95h-0.95zM207.3,574.5h0.95v0.95h-0.95zM206.5,568.9h0.95v0.95h-0.95zM207.2,569.2h0.95v0.95h-0.95zM206.3,568.5h0.95v0.95h-0.95zM219.8,576.8h0.95v0.95h-0.95zM220.4,575.1h0.95v0.95h-0.95zM220.4,569.2h0.95v0.95h-0.95zM219.3,573.0h0.95v0.95h-0.95zM219.6,567.6h0.95v0.95h-0.95zM220.5,569.6h0.95v0.95h-0.95zM228.9,567.6h0.95v0.95h-0.95zM229.1,574.8h0.95v0.95h-0.95zM233.4,570.5h0.95v0.95h-0.95zM233.4,573.0h0.95v0.95h-0.95zM233.0,573.5h0.95v0.95h-0.95zM233.7,573.1h0.95v0.95h-0.95zM232.3,575.6h0.95v0.95h-0.95zM237.3,576.9h0.95v0.95h-0.95zM236.5,571.5h0.95v0.95h-0.95zM237.4,573.3h0.95v0.95h-0.95zM237.3,574.8h0.95v0.95h-0.95zM243.4,567.9h0.95v0.95h-0.95zM251.2,575.1h0.95v0.95h-0.95zM252.4,577.0h0.95v0.95h-0.95zM251.2,569.5h0.95v0.95h-0.95zM260.9,569.1h0.95v0.95h-0.95zM261.1,572.6h0.95v0.95h-0.95zM259.6,571.7h0.95v0.95h-0.95zM259.4,575.0h0.95v0.95h-0.95zM258.2,575.1h0.95v0.95h-0.95zM258.1,571.1h0.95v0.95h-0.95zM259.5,567.7h0.95v0.95h-0.95zM258.4,572.3h0.95v0.95h-0.95zM259.9,575.7h0.95v0.95h-0.95zM261.0,574.6h0.95v0.95h-0.95zM259.3,577.0h0.95v0.95h-0.95zM260.5,568.0h0.95v0.95h-0.95zM259.9,572.9h0.95v0.95h-0.95zM259.8,567.5h0.95v0.95h-0.95zM258.2,569.3h0.95v0.95h-0.95zM257.2,571.3h0.95v0.95h-0.95zM260.6,569.5h0.95v0.95h-0.95zM257.2,576.0h0.95v0.95h-0.95zM258.8,576.9h0.95v0.95h-0.95zM258.5,575.9h0.95v0.95h-0.95zM257.5,574.8h0.95v0.95h-0.95zM257.6,570.2h0.95v0.95h-0.95zM257.5,569.9h0.95v0.95h-0.95zM259.3,568.7h0.95v0.95h-0.95zM261.1,569.7h0.95v0.95h-0.95zM234.1,584.4h0.95v0.95h-0.95zM216.4,579.3h0.95v0.95h-0.95zM225.9,577.7h0.95v0.95h-0.95zM214.6,586.5h0.95v0.95h-0.95zM190.7,587.0h0.95v0.95h-0.95zM238.7,585.7h0.95v0.95h-0.95zM239.5,586.0h0.95v0.95h-0.95zM213.3,585.3h0.95v0.95h-0.95zM239.6,586.0h0.95v0.95h-0.95zM238.9,586.0h0.95v0.95h-0.95zM239.6,586.2h0.95v0.95h-0.95zM238.3,587.6h0.95v0.95h-0.95zM219.3,587.4h0.95v0.95h-0.95zM219.2,586.1h0.95v0.95h-0.95zM220.0,585.6h0.95v0.95h-0.95zM220.9,586.7h0.95v0.95h-0.95zM221.7,587.2h0.95v0.95h-0.95zM220.8,586.7h0.95v0.95h-0.95zM222.0,586.5h0.95v0.95h-0.95zM220.8,585.2h0.95v0.95h-0.95zM202.8,586.4h0.95v0.95h-0.95zM202.7,586.2h0.95v0.95h-0.95zM187.4,586.6h0.95v0.95h-0.95zM187.5,583.6h0.95v0.95h-0.95zM187.1,585.6h0.95v0.95h-0.95zM196.4,577.4h0.95v0.95h-0.95zM195.8,584.4h0.95v0.95h-0.95zM196.1,580.1h0.95v0.95h-0.95zM195.7,581.5h0.95v0.95h-0.95zM195.9,585.8h0.95v0.95h-0.95zM195.6,583.5h0.95v0.95h-0.95zM196.4,578.7h0.95v0.95h-0.95zM196.4,580.1h0.95v0.95h-0.95zM197.4,577.4h0.95v0.95h-0.95zM197.5,578.5h0.95v0.95h-0.95zM197.9,585.4h0.95v0.95h-0.95zM197.9,578.9h0.95v0.95h-0.95zM197.3,579.2h0.95v0.95h-0.95zM197.8,577.7h0.95v0.95h-0.95zM196.8,579.4h0.95v0.95h-0.95zM197.9,581.0h0.95v0.95h-0.95zM203.8,580.5h0.95v0.95h-0.95zM203.6,581.0h0.95v0.95h-0.95zM203.7,586.4h0.95v0.95h-0.95zM203.0,584.0h0.95v0.95h-0.95zM203.1,585.4h0.95v0.95h-0.95zM203.2,585.2h0.95v0.95h-0.95zM206.9,584.6h0.95v0.95h-0.95zM207.2,581.3h0.95v0.95h-0.95zM206.8,579.1h0.95v0.95h-0.95zM207.1,580.6h0.95v0.95h-0.95zM207.5,584.0h0.95v0.95h-0.95zM206.4,580.8h0.95v0.95h-0.95zM219.9,577.3h0.95v0.95h-0.95zM219.3,584.5h0.95v0.95h-0.95zM219.4,584.2h0.95v0.95h-0.95zM219.3,583.5h0.95v0.95h-0.95zM219.6,585.6h0.95v0.95h-0.95zM219.9,579.7h0.95v0.95h-0.95zM219.6,579.9h0.95v0.95h-0.95zM232.9,581.2h0.95v0.95h-0.95zM233.4,586.8h0.95v0.95h-0.95zM233.0,583.2h0.95v0.95h-0.95zM233.1,579.5h0.95v0.95h-0.95zM233.2,581.3h0.95v0.95h-0.95zM233.5,580.5h0.95v0.95h-0.95zM237.8,581.3h0.95v0.95h-0.95zM236.6,578.9h0.95v0.95h-0.95zM237.2,579.3h0.95v0.95h-0.95zM236.4,583.5h0.95v0.95h-0.95zM237.0,579.1h0.95v0.95h-0.95zM243.4,581.9h0.95v0.95h-0.95zM251.3,581.7h0.95v0.95h-0.95zM252.0,583.9h0.95v0.95h-0.95zM251.2,584.2h0.95v0.95h-0.95zM258.3,585.9h0.95v0.95h-0.95zM258.3,585.6h0.95v0.95h-0.95zM259.8,585.2h0.95v0.95h-0.95zM257.3,580.8h0.95v0.95h-0.95zM260.4,577.3h0.95v0.95h-0.95zM259.3,580.3h0.95v0.95h-0.95zM257.8,578.9h0.95v0.95h-0.95zM257.2,583.6h0.95v0.95h-0.95zM258.7,578.0h0.95v0.95h-0.95zM259.1,579.5h0.95v0.95h-0.95zM260.5,579.8h0.95v0.95h-0.95zM258.8,586.2h0.95v0.95h-0.95zM260.6,580.9h0.95v0.95h-0.95zM259.5,584.8h0.95v0.95h-0.95zM258.6,580.6h0.95v0.95h-0.95zM261.1,585.2h0.95v0.95h-0.95zM258.2,581.5h0.95v0.95h-0.95zM258.7,577.5h0.95v0.95h-0.95zM260.3,578.7h0.95v0.95h-0.95zM259.4,580.9h0.95v0.95h-0.95zM260.3,585.0h0.95v0.95h-0.95zM259.7,583.6h0.95v0.95h-0.95zM258.7,577.7h0.95v0.95h-0.95zM259.4,580.8h0.95v0.95h-0.95zM260.0,583.9h0.95v0.95h-0.95zM260.5,585.7h0.95v0.95h-0.95zM259.9,580.1h0.95v0.95h-0.95zM258.9,583.3h0.95v0.95h-0.95zM215.1,593.6h0.95v0.95h-0.95zM202.5,588.6h0.95v0.95h-0.95zM239.9,589.2h0.95v0.95h-0.95zM241.0,597.3h0.95v0.95h-0.95zM240.6,596.9h0.95v0.95h-0.95zM240.2,596.4h0.95v0.95h-0.95zM222.9,596.7h0.95v0.95h-0.95zM221.9,597.7h0.95v0.95h-0.95zM222.9,597.4h0.95v0.95h-0.95zM213.2,595.6h0.95v0.95h-0.95zM215.5,597.4h0.95v0.95h-0.95zM240.4,595.6h0.95v0.95h-0.95zM236.4,595.8h0.95v0.95h-0.95zM235.3,596.6h0.95v0.95h-0.95zM225.4,595.8h0.95v0.95h-0.95zM224.0,596.9h0.95v0.95h-0.95zM225.9,597.3h0.95v0.95h-0.95zM222.2,596.8h0.95v0.95h-0.95zM188.4,591.9h0.95v0.95h-0.95zM187.6,587.9h0.95v0.95h-0.95zM187.6,595.5h0.95v0.95h-0.95zM188.3,593.6h0.95v0.95h-0.95zM196.5,592.0h0.95v0.95h-0.95zM196.0,592.8h0.95v0.95h-0.95zM196.0,594.8h0.95v0.95h-0.95zM195.7,591.0h0.95v0.95h-0.95zM196.1,591.3h0.95v0.95h-0.95zM196.6,596.7h0.95v0.95h-0.95zM195.8,593.3h0.95v0.95h-0.95zM197.4,588.8h0.95v0.95h-0.95zM197.2,591.6h0.95v0.95h-0.95zM196.9,588.5h0.95v0.95h-0.95zM197.6,594.0h0.95v0.95h-0.95zM197.8,592.0h0.95v0.95h-0.95zM196.8,591.9h0.95v0.95h-0.95zM197.0,589.3h0.95v0.95h-0.95zM204.3,595.8h0.95v0.95h-0.95zM203.3,593.1h0.95v0.95h-0.95zM202.8,592.8h0.95v0.95h-0.95zM203.7,595.1h0.95v0.95h-0.95zM202.8,592.0h0.95v0.95h-0.95zM203.1,594.7h0.95v0.95h-0.95zM206.6,592.3h0.95v0.95h-0.95zM206.6,596.9h0.95v0.95h-0.95zM206.1,594.7h0.95v0.95h-0.95zM206.1,592.2h0.95v0.95h-0.95zM207.0,589.1h0.95v0.95h-0.95zM207.3,589.0h0.95v0.95h-0.95zM220.8,596.1h0.95v0.95h-0.95zM220.5,593.9h0.95v0.95h-0.95zM219.9,594.3h0.95v0.95h-0.95zM219.9,590.9h0.95v0.95h-0.95zM219.3,589.7h0.95v0.95h-0.95zM220.2,589.3h0.95v0.95h-0.95zM219.3,593.0h0.95v0.95h-0.95zM229.3,591.4h0.95v0.95h-0.95zM233.4,595.3h0.95v0.95h-0.95zM233.3,594.6h0.95v0.95h-0.95zM232.5,589.4h0.95v0.95h-0.95zM232.4,592.8h0.95v0.95h-0.95zM233.6,593.3h0.95v0.95h-0.95zM232.7,588.8h0.95v0.95h-0.95zM237.3,589.6h0.95v0.95h-0.95zM236.7,594.1h0.95v0.95h-0.95zM237.4,591.0h0.95v0.95h-0.95zM237.3,591.2h0.95v0.95h-0.95zM251.8,591.0h0.95v0.95h-0.95zM251.1,596.6h0.95v0.95h-0.95zM252.1,592.9h0.95v0.95h-0.95zM260.5,592.6h0.95v0.95h-0.95zM260.7,587.8h0.95v0.95h-0.95zM257.7,589.9h0.95v0.95h-0.95zM261.1,587.9h0.95v0.95h-0.95zM260.3,592.4h0.95v0.95h-0.95zM257.5,594.3h0.95v0.95h-0.95zM258.3,591.6h0.95v0.95h-0.95zM260.1,592.3h0.95v0.95h-0.95zM260.9,593.6h0.95v0.95h-0.95zM258.8,587.8h0.95v0.95h-0.95zM260.3,588.9h0.95v0.95h-0.95zM259.4,596.4h0.95v0.95h-0.95zM258.6,589.6h0.95v0.95h-0.95zM257.2,594.2h0.95v0.95h-0.95zM257.6,596.6h0.95v0.95h-0.95zM257.2,590.1h0.95v0.95h-0.95zM259.8,591.7h0.95v0.95h-0.95zM259.5,594.9h0.95v0.95h-0.95zM257.9,588.7h0.95v0.95h-0.95zM257.9,587.0h0.95v0.95h-0.95zM259.1,592.6h0.95v0.95h-0.95zM260.2,597.0h0.95v0.95h-0.95zM257.6,589.0h0.95v0.95h-0.95zM259.8,594.6h0.95v0.95h-0.95zM259.3,595.0h0.95v0.95h-0.95zM257.5,596.1h0.95v0.95h-0.95zM258.1,589.0h0.95v0.95h-0.95zM259.9,590.8h0.95v0.95h-0.95zM257.4,592.1h0.95v0.95h-0.95zM261.1,588.5h0.95v0.95h-0.95z" fill="#93bfdc" fill-opacity="0.9"/>
<path d="M255.1,387.7h0.95v0.95h-0.95zM201.9,388.3h0.95v0.95h-0.95zM234.1,387.4h0.95v0.95h-0.95zM196.9,384.6h0.95v0.95h-0.95zM203.4,384.1h0.95v0.95h-0.95zM206.8,384.4h0.95v0.95h-0.95zM207.2,381.7h0.95v0.95h-0.95zM207.0,382.3h0.95v0.95h-0.95zM232.8,381.0h0.95v0.95h-0.95zM237.5,382.2h0.95v0.95h-0.95zM251.8,387.9h0.95v0.95h-0.95zM257.9,380.6h0.95v0.95h-0.95zM258.1,384.9h0.95v0.95h-0.95zM259.2,386.4h0.95v0.95h-0.95zM259.9,381.3h0.95v0.95h-0.95zM213.2,398.2h0.95v0.95h-0.95zM190.8,399.6h0.95v0.95h-0.95zM192.1,397.9h0.95v0.95h-0.95zM213.6,398.7h0.95v0.95h-0.95zM215.9,399.4h0.95v0.95h-0.95zM213.9,399.7h0.95v0.95h-0.95zM196.5,388.6h0.95v0.95h-0.95zM195.5,392.4h0.95v0.95h-0.95zM197.8,392.0h0.95v0.95h-0.95zM206.5,397.6h0.95v0.95h-0.95zM233.5,398.5h0.95v0.95h-0.95zM259.9,397.8h0.95v0.95h-0.95zM259.2,397.3h0.95v0.95h-0.95zM206.2,408.6h0.95v0.95h-0.95zM204.5,409.8h0.95v0.95h-0.95zM198.1,409.6h0.95v0.95h-0.95zM203.8,403.5h0.95v0.95h-0.95zM220.0,408.6h0.95v0.95h-0.95zM220.6,404.0h0.95v0.95h-0.95zM220.0,401.5h0.95v0.95h-0.95zM229.0,408.7h0.95v0.95h-0.95zM233.0,400.2h0.95v0.95h-0.95zM258.0,400.9h0.95v0.95h-0.95zM260.5,403.7h0.95v0.95h-0.95zM258.8,401.0h0.95v0.95h-0.95zM218.7,411.8h0.95v0.95h-0.95zM187.0,420.0h0.95v0.95h-0.95zM203.4,419.9h0.95v0.95h-0.95zM225.0,419.8h0.95v0.95h-0.95zM186.8,418.9h0.95v0.95h-0.95zM236.2,418.2h0.95v0.95h-0.95zM195.6,410.3h0.95v0.95h-0.95zM196.1,413.7h0.95v0.95h-0.95zM196.3,410.4h0.95v0.95h-0.95zM197.9,411.6h0.95v0.95h-0.95zM198.2,410.7h0.95v0.95h-0.95zM207.3,415.1h0.95v0.95h-0.95zM233.4,413.8h0.95v0.95h-0.95zM233.0,411.7h0.95v0.95h-0.95zM244.7,419.0h0.95v0.95h-0.95zM252.4,417.0h0.95v0.95h-0.95zM259.4,418.1h0.95v0.95h-0.95zM253.7,428.4h0.95v0.95h-0.95zM214.8,430.3h0.95v0.95h-0.95zM224.2,428.5h0.95v0.95h-0.95zM198.6,430.6h0.95v0.95h-0.95zM195.8,430.2h0.95v0.95h-0.95zM207.4,428.3h0.95v0.95h-0.95zM220.8,427.2h0.95v0.95h-0.95zM219.4,429.7h0.95v0.95h-0.95zM233.3,422.5h0.95v0.95h-0.95zM233.7,424.5h0.95v0.95h-0.95zM232.7,420.9h0.95v0.95h-0.95zM237.4,425.0h0.95v0.95h-0.95zM257.7,421.7h0.95v0.95h-0.95zM257.6,419.7h0.95v0.95h-0.95zM258.8,426.2h0.95v0.95h-0.95zM260.7,422.9h0.95v0.95h-0.95zM224.9,435.4h0.95v0.95h-0.95zM259.8,431.5h0.95v0.95h-0.95zM230.5,439.1h0.95v0.95h-0.95zM251.5,437.9h0.95v0.95h-0.95zM239.0,437.3h0.95v0.95h-0.95zM228.5,438.2h0.95v0.95h-0.95zM241.8,437.6h0.95v0.95h-0.95zM197.9,433.3h0.95v0.95h-0.95zM197.2,430.7h0.95v0.95h-0.95zM206.6,431.7h0.95v0.95h-0.95zM229.0,433.9h0.95v0.95h-0.95zM228.9,430.9h0.95v0.95h-0.95zM251.2,433.5h0.95v0.95h-0.95zM258.3,432.8h0.95v0.95h-0.95zM260.7,432.8h0.95v0.95h-0.95zM260.6,436.8h0.95v0.95h-0.95zM258.8,429.8h0.95v0.95h-0.95zM257.9,430.8h0.95v0.95h-0.95zM260.0,438.0h0.95v0.95h-0.95zM258.3,431.7h0.95v0.95h-0.95zM248.1,448.0h0.95v0.95h-0.95zM216.8,447.5h0.95v0.95h-0.95zM227.1,448.7h0.95v0.95h-0.95zM203.7,440.6h0.95v0.95h-0.95zM251.3,445.2h0.95v0.95h-0.95zM258.5,443.8h0.95v0.95h-0.95zM196.1,457.8h0.95v0.95h-0.95zM236.1,459.7h0.95v0.95h-0.95zM236.1,458.5h0.95v0.95h-0.95zM248.0,459.2h0.95v0.95h-0.95zM196.8,459.1h0.95v0.95h-0.95zM248.5,457.9h0.95v0.95h-0.95zM196.3,450.7h0.95v0.95h-0.95zM197.2,453.9h0.95v0.95h-0.95zM204.1,451.5h0.95v0.95h-0.95zM202.9,451.2h0.95v0.95h-0.95zM202.9,456.6h0.95v0.95h-0.95zM206.1,458.7h0.95v0.95h-0.95zM232.8,457.6h0.95v0.95h-0.95zM243.5,449.1h0.95v0.95h-0.95zM260.0,450.3h0.95v0.95h-0.95zM259.4,456.4h0.95v0.95h-0.95zM248.3,469.2h0.95v0.95h-0.95zM251.5,468.4h0.95v0.95h-0.95zM199.9,469.7h0.95v0.95h-0.95zM198.2,468.9h0.95v0.95h-0.95zM194.9,468.4h0.95v0.95h-0.95zM188.1,460.1h0.95v0.95h-0.95zM188.2,469.1h0.95v0.95h-0.95zM197.1,466.9h0.95v0.95h-0.95zM197.6,465.5h0.95v0.95h-0.95zM203.6,461.6h0.95v0.95h-0.95zM220.1,467.7h0.95v0.95h-0.95zM220.7,461.7h0.95v0.95h-0.95zM251.5,460.5h0.95v0.95h-0.95zM258.5,464.5h0.95v0.95h-0.95zM188.1,476.9h0.95v0.95h-0.95zM190.3,477.3h0.95v0.95h-0.95zM198.8,477.9h0.95v0.95h-0.95zM244.6,477.4h0.95v0.95h-0.95zM187.5,477.3h0.95v0.95h-0.95zM196.3,475.8h0.95v0.95h-0.95zM196.6,478.1h0.95v0.95h-0.95zM220.1,471.8h0.95v0.95h-0.95zM233.6,472.0h0.95v0.95h-0.95zM233.0,476.7h0.95v0.95h-0.95zM233.4,474.3h0.95v0.95h-0.95zM244.9,477.8h0.95v0.95h-0.95zM260.8,477.5h0.95v0.95h-0.95zM258.0,471.0h0.95v0.95h-0.95zM258.7,470.2h0.95v0.95h-0.95zM232.5,488.3h0.95v0.95h-0.95zM244.2,488.5h0.95v0.95h-0.95zM195.4,487.3h0.95v0.95h-0.95zM203.5,488.6h0.95v0.95h-0.95zM244.2,489.3h0.95v0.95h-0.95zM245.4,488.7h0.95v0.95h-0.95zM191.9,488.1h0.95v0.95h-0.95zM191.1,488.0h0.95v0.95h-0.95zM196.8,487.5h0.95v0.95h-0.95zM204.4,487.5h0.95v0.95h-0.95zM207.6,484.5h0.95v0.95h-0.95zM257.4,484.5h0.95v0.95h-0.95zM215.3,495.1h0.95v0.95h-0.95zM260.2,496.0h0.95v0.95h-0.95zM192.9,499.4h0.95v0.95h-0.95zM205.4,499.4h0.95v0.95h-0.95zM188.4,491.9h0.95v0.95h-0.95zM196.7,491.6h0.95v0.95h-0.95zM203.6,493.9h0.95v0.95h-0.95zM206.1,494.0h0.95v0.95h-0.95zM206.3,494.0h0.95v0.95h-0.95zM206.3,489.2h0.95v0.95h-0.95zM220.6,492.1h0.95v0.95h-0.95zM220.7,495.0h0.95v0.95h-0.95zM228.9,488.9h0.95v0.95h-0.95zM258.3,492.2h0.95v0.95h-0.95zM260.5,495.1h0.95v0.95h-0.95zM260.1,490.5h0.95v0.95h-0.95zM214.4,503.6h0.95v0.95h-0.95zM248.7,509.7h0.95v0.95h-0.95zM248.5,510.0h0.95v0.95h-0.95zM220.0,509.4h0.95v0.95h-0.95zM219.7,510.1h0.95v0.95h-0.95zM202.2,510.7h0.95v0.95h-0.95zM200.7,511.2h0.95v0.95h-0.95zM203.7,510.9h0.95v0.95h-0.95zM202.5,509.2h0.95v0.95h-0.95zM187.6,510.4h0.95v0.95h-0.95zM196.7,503.0h0.95v0.95h-0.95zM197.7,505.5h0.95v0.95h-0.95zM207.5,507.2h0.95v0.95h-0.95zM219.5,510.5h0.95v0.95h-0.95zM220.3,510.0h0.95v0.95h-0.95zM236.9,501.1h0.95v0.95h-0.95zM243.6,502.2h0.95v0.95h-0.95zM251.2,506.3h0.95v0.95h-0.95zM251.8,506.2h0.95v0.95h-0.95zM203.9,521.0h0.95v0.95h-0.95zM239.3,521.1h0.95v0.95h-0.95zM248.7,523.3h0.95v0.95h-0.95zM221.5,521.2h0.95v0.95h-0.95zM206.1,521.3h0.95v0.95h-0.95zM204.7,521.9h0.95v0.95h-0.95zM196.5,513.3h0.95v0.95h-0.95zM197.7,514.5h0.95v0.95h-0.95zM203.0,513.7h0.95v0.95h-0.95zM207.5,518.3h0.95v0.95h-0.95zM219.7,518.7h0.95v0.95h-0.95zM229.1,511.5h0.95v0.95h-0.95zM232.9,521.1h0.95v0.95h-0.95zM236.4,516.5h0.95v0.95h-0.95zM236.4,516.8h0.95v0.95h-0.95zM250.9,517.4h0.95v0.95h-0.95zM258.3,513.0h0.95v0.95h-0.95zM257.2,521.4h0.95v0.95h-0.95zM259.7,522.1h0.95v0.95h-0.95zM208.3,533.6h0.95v0.95h-0.95zM195.6,532.6h0.95v0.95h-0.95zM202.7,532.7h0.95v0.95h-0.95zM201.3,533.1h0.95v0.95h-0.95zM187.3,524.9h0.95v0.95h-0.95zM203.6,528.3h0.95v0.95h-0.95zM204.0,524.1h0.95v0.95h-0.95zM233.2,523.0h0.95v0.95h-0.95zM236.9,527.3h0.95v0.95h-0.95zM250.9,530.2h0.95v0.95h-0.95zM257.6,528.6h0.95v0.95h-0.95zM259.2,524.5h0.95v0.95h-0.95zM259.2,532.3h0.95v0.95h-0.95zM203.7,543.4h0.95v0.95h-0.95zM205.7,543.9h0.95v0.95h-0.95zM214.6,544.0h0.95v0.95h-0.95zM208.5,545.2h0.95v0.95h-0.95zM211.8,544.1h0.95v0.95h-0.95zM253.4,544.5h0.95v0.95h-0.95zM244.0,539.7h0.95v0.95h-0.95zM251.5,540.3h0.95v0.95h-0.95zM261.2,536.0h0.95v0.95h-0.95zM258.6,541.9h0.95v0.95h-0.95zM258.1,536.2h0.95v0.95h-0.95zM259.8,543.1h0.95v0.95h-0.95zM260.2,539.2h0.95v0.95h-0.95zM222.3,550.7h0.95v0.95h-0.95zM223.1,555.8h0.95v0.95h-0.95zM224.0,555.8h0.95v0.95h-0.95zM200.3,554.7h0.95v0.95h-0.95zM201.6,555.8h0.95v0.95h-0.95zM202.4,556.3h0.95v0.95h-0.95zM230.8,554.8h0.95v0.95h-0.95zM218.7,554.7h0.95v0.95h-0.95zM244.8,555.7h0.95v0.95h-0.95zM194.4,555.3h0.95v0.95h-0.95zM187.3,552.6h0.95v0.95h-0.95zM196.6,547.1h0.95v0.95h-0.95zM197.5,554.8h0.95v0.95h-0.95zM202.9,554.7h0.95v0.95h-0.95zM206.0,545.1h0.95v0.95h-0.95zM220.0,549.0h0.95v0.95h-0.95zM228.7,545.6h0.95v0.95h-0.95zM243.6,550.1h0.95v0.95h-0.95zM251.0,549.4h0.95v0.95h-0.95zM258.5,548.0h0.95v0.95h-0.95zM258.9,546.3h0.95v0.95h-0.95zM225.4,562.6h0.95v0.95h-0.95zM207.9,567.2h0.95v0.95h-0.95zM206.7,568.3h0.95v0.95h-0.95zM196.3,563.0h0.95v0.95h-0.95zM197.0,563.3h0.95v0.95h-0.95zM219.5,567.2h0.95v0.95h-0.95zM233.3,563.0h0.95v0.95h-0.95zM244.3,558.8h0.95v0.95h-0.95zM258.0,563.9h0.95v0.95h-0.95zM260.9,566.2h0.95v0.95h-0.95zM260.0,557.5h0.95v0.95h-0.95zM258.4,565.2h0.95v0.95h-0.95zM261.0,564.2h0.95v0.95h-0.95zM258.2,565.5h0.95v0.95h-0.95zM261.0,565.1h0.95v0.95h-0.95zM260.9,563.2h0.95v0.95h-0.95zM216.2,575.8h0.95v0.95h-0.95zM214.0,577.9h0.95v0.95h-0.95zM196.5,569.4h0.95v0.95h-0.95zM196.5,573.8h0.95v0.95h-0.95zM197.2,574.1h0.95v0.95h-0.95zM204.2,573.4h0.95v0.95h-0.95zM220.0,568.6h0.95v0.95h-0.95zM233.1,573.6h0.95v0.95h-0.95zM233.2,576.4h0.95v0.95h-0.95zM236.6,568.2h0.95v0.95h-0.95zM258.1,572.5h0.95v0.95h-0.95zM258.0,570.6h0.95v0.95h-0.95zM259.4,568.4h0.95v0.95h-0.95zM259.4,570.2h0.95v0.95h-0.95zM257.9,567.9h0.95v0.95h-0.95zM191.7,586.4h0.95v0.95h-0.95zM238.5,586.3h0.95v0.95h-0.95zM212.7,586.9h0.95v0.95h-0.95zM214.3,586.7h0.95v0.95h-0.95zM220.4,587.1h0.95v0.95h-0.95zM202.7,585.9h0.95v0.95h-0.95zM187.8,580.9h0.95v0.95h-0.95zM228.9,585.6h0.95v0.95h-0.95zM227.9,578.7h0.95v0.95h-0.95zM228.9,580.3h0.95v0.95h-0.95zM232.5,578.4h0.95v0.95h-0.95zM243.3,585.0h0.95v0.95h-0.95zM243.7,580.6h0.95v0.95h-0.95zM257.6,578.9h0.95v0.95h-0.95zM258.7,583.6h0.95v0.95h-0.95zM231.7,587.0h0.95v0.95h-0.95zM205.1,589.5h0.95v0.95h-0.95zM240.5,597.6h0.95v0.95h-0.95zM221.7,596.5h0.95v0.95h-0.95zM196.5,590.6h0.95v0.95h-0.95zM197.6,589.3h0.95v0.95h-0.95zM229.4,595.5h0.95v0.95h-0.95zM232.8,596.2h0.95v0.95h-0.95zM236.9,596.4h0.95v0.95h-0.95zM244.8,592.4h0.95v0.95h-0.95z" fill="#fcc53a" fill-opacity="0.9"/>
<path d="M200.8,389.0h0.95v0.95h-0.95zM220.8,387.2h0.95v0.95h-0.95zM228.1,384.3h0.95v0.95h-0.95zM229.1,382.3h0.95v0.95h-0.95zM227.9,379.5h0.95v0.95h-0.95zM244.2,388.4h0.95v0.95h-0.95zM243.5,385.4h0.95v0.95h-0.95zM243.6,384.1h0.95v0.95h-0.95zM244.0,381.1h0.95v0.95h-0.95zM219.7,398.3h0.95v0.95h-0.95zM209.5,398.1h0.95v0.95h-0.95zM213.6,397.8h0.95v0.95h-0.95zM215.0,397.9h0.95v0.95h-0.95zM228.3,395.4h0.95v0.95h-0.95zM229.3,398.5h0.95v0.95h-0.95zM229.0,394.6h0.95v0.95h-0.95zM243.5,390.4h0.95v0.95h-0.95zM243.7,398.9h0.95v0.95h-0.95zM244.6,391.9h0.95v0.95h-0.95zM244.1,398.2h0.95v0.95h-0.95zM185.8,408.6h0.95v0.95h-0.95zM188.9,410.9h0.95v0.95h-0.95zM204.7,408.6h0.95v0.95h-0.95zM229.2,404.7h0.95v0.95h-0.95zM229.1,408.4h0.95v0.95h-0.95zM244.6,407.9h0.95v0.95h-0.95zM244.8,408.6h0.95v0.95h-0.95zM243.6,400.9h0.95v0.95h-0.95zM243.8,401.7h0.95v0.95h-0.95zM243.4,409.4h0.95v0.95h-0.95zM188.5,418.2h0.95v0.95h-0.95zM228.7,410.7h0.95v0.95h-0.95zM228.1,418.6h0.95v0.95h-0.95zM228.9,418.6h0.95v0.95h-0.95zM228.5,413.3h0.95v0.95h-0.95zM243.7,412.0h0.95v0.95h-0.95zM243.6,410.3h0.95v0.95h-0.95zM244.5,415.6h0.95v0.95h-0.95zM243.7,417.9h0.95v0.95h-0.95zM233.6,430.1h0.95v0.95h-0.95zM224.4,428.2h0.95v0.95h-0.95zM253.7,430.1h0.95v0.95h-0.95zM193.7,430.5h0.95v0.95h-0.95zM229.4,421.3h0.95v0.95h-0.95zM228.1,422.5h0.95v0.95h-0.95zM243.6,426.6h0.95v0.95h-0.95zM244.8,425.6h0.95v0.95h-0.95zM244.2,425.2h0.95v0.95h-0.95zM244.8,429.0h0.95v0.95h-0.95zM243.6,428.8h0.95v0.95h-0.95zM229.8,437.3h0.95v0.95h-0.95zM229.6,437.5h0.95v0.95h-0.95zM228.6,431.4h0.95v0.95h-0.95zM228.5,438.2h0.95v0.95h-0.95zM243.9,436.3h0.95v0.95h-0.95zM244.0,438.4h0.95v0.95h-0.95zM244.5,436.5h0.95v0.95h-0.95zM244.2,432.5h0.95v0.95h-0.95zM243.4,435.8h0.95v0.95h-0.95zM236.8,449.5h0.95v0.95h-0.95zM215.7,449.0h0.95v0.95h-0.95zM228.4,439.0h0.95v0.95h-0.95zM227.8,448.5h0.95v0.95h-0.95zM227.9,448.0h0.95v0.95h-0.95zM228.3,442.5h0.95v0.95h-0.95zM243.5,446.3h0.95v0.95h-0.95zM243.9,448.0h0.95v0.95h-0.95zM244.2,446.1h0.95v0.95h-0.95zM244.3,444.7h0.95v0.95h-0.95zM248.3,459.6h0.95v0.95h-0.95zM229.1,458.6h0.95v0.95h-0.95zM228.5,456.7h0.95v0.95h-0.95zM228.9,450.9h0.95v0.95h-0.95zM228.6,459.1h0.95v0.95h-0.95zM244.2,451.6h0.95v0.95h-0.95zM244.7,456.6h0.95v0.95h-0.95zM244.7,458.9h0.95v0.95h-0.95zM199.1,466.8h0.95v0.95h-0.95zM250.1,469.2h0.95v0.95h-0.95zM200.6,468.8h0.95v0.95h-0.95zM246.8,468.5h0.95v0.95h-0.95zM252.3,469.4h0.95v0.95h-0.95zM228.3,461.1h0.95v0.95h-0.95zM229.1,463.8h0.95v0.95h-0.95zM228.7,469.7h0.95v0.95h-0.95zM228.0,463.4h0.95v0.95h-0.95zM244.6,468.8h0.95v0.95h-0.95zM244.4,462.3h0.95v0.95h-0.95zM243.9,467.6h0.95v0.95h-0.95zM243.6,464.3h0.95v0.95h-0.95zM244.0,463.4h0.95v0.95h-0.95zM191.5,471.8h0.95v0.95h-0.95zM248.6,478.6h0.95v0.95h-0.95zM245.6,478.9h0.95v0.95h-0.95zM228.7,475.2h0.95v0.95h-0.95zM228.4,478.2h0.95v0.95h-0.95zM228.5,475.0h0.95v0.95h-0.95zM228.5,474.0h0.95v0.95h-0.95zM243.9,472.5h0.95v0.95h-0.95zM243.8,472.1h0.95v0.95h-0.95zM211.3,482.7h0.95v0.95h-0.95zM230.8,487.3h0.95v0.95h-0.95zM203.6,488.2h0.95v0.95h-0.95zM245.4,488.1h0.95v0.95h-0.95zM228.0,481.0h0.95v0.95h-0.95zM228.6,480.2h0.95v0.95h-0.95zM228.3,485.8h0.95v0.95h-0.95zM243.6,482.8h0.95v0.95h-0.95zM243.6,486.4h0.95v0.95h-0.95zM244.3,482.2h0.95v0.95h-0.95zM243.3,485.9h0.95v0.95h-0.95zM244.1,486.7h0.95v0.95h-0.95zM191.7,499.2h0.95v0.95h-0.95zM228.9,498.7h0.95v0.95h-0.95zM243.9,489.1h0.95v0.95h-0.95zM244.4,491.4h0.95v0.95h-0.95zM217.7,511.0h0.95v0.95h-0.95zM241.9,511.5h0.95v0.95h-0.95zM228.6,501.9h0.95v0.95h-0.95zM228.3,499.3h0.95v0.95h-0.95zM229.1,509.3h0.95v0.95h-0.95zM244.1,510.4h0.95v0.95h-0.95zM244.2,502.9h0.95v0.95h-0.95zM243.9,506.0h0.95v0.95h-0.95zM244.4,506.7h0.95v0.95h-0.95zM204.9,521.3h0.95v0.95h-0.95zM236.4,521.1h0.95v0.95h-0.95zM228.7,519.0h0.95v0.95h-0.95zM228.0,521.2h0.95v0.95h-0.95zM243.6,516.2h0.95v0.95h-0.95zM243.6,515.9h0.95v0.95h-0.95zM244.7,514.6h0.95v0.95h-0.95zM246.7,527.1h0.95v0.95h-0.95zM228.8,532.0h0.95v0.95h-0.95zM229.0,526.0h0.95v0.95h-0.95zM228.4,522.9h0.95v0.95h-0.95zM244.1,532.2h0.95v0.95h-0.95zM244.0,522.6h0.95v0.95h-0.95zM244.6,528.2h0.95v0.95h-0.95zM244.1,527.2h0.95v0.95h-0.95zM192.3,544.9h0.95v0.95h-0.95zM203.4,543.1h0.95v0.95h-0.95zM206.2,542.8h0.95v0.95h-0.95zM215.0,544.2h0.95v0.95h-0.95zM211.9,544.0h0.95v0.95h-0.95zM228.9,540.4h0.95v0.95h-0.95zM228.4,539.4h0.95v0.95h-0.95zM228.8,535.8h0.95v0.95h-0.95zM228.0,538.8h0.95v0.95h-0.95zM244.3,539.5h0.95v0.95h-0.95zM243.3,534.5h0.95v0.95h-0.95zM219.1,556.3h0.95v0.95h-0.95zM244.1,557.1h0.95v0.95h-0.95zM229.2,546.1h0.95v0.95h-0.95zM227.9,556.0h0.95v0.95h-0.95zM243.7,550.9h0.95v0.95h-0.95zM244.7,545.4h0.95v0.95h-0.95zM243.7,555.5h0.95v0.95h-0.95zM243.4,553.8h0.95v0.95h-0.95zM193.4,566.0h0.95v0.95h-0.95zM220.3,567.4h0.95v0.95h-0.95zM227.1,566.8h0.95v0.95h-0.95zM228.9,556.8h0.95v0.95h-0.95zM228.4,562.9h0.95v0.95h-0.95zM229.1,562.1h0.95v0.95h-0.95zM244.4,562.8h0.95v0.95h-0.95zM244.4,566.1h0.95v0.95h-0.95zM244.7,560.1h0.95v0.95h-0.95zM243.4,577.9h0.95v0.95h-0.95zM228.5,576.9h0.95v0.95h-0.95zM229.2,569.4h0.95v0.95h-0.95zM243.5,572.5h0.95v0.95h-0.95zM243.3,572.2h0.95v0.95h-0.95zM244.9,570.3h0.95v0.95h-0.95zM244.2,569.7h0.95v0.95h-0.95zM223.4,584.7h0.95v0.95h-0.95zM190.3,585.9h0.95v0.95h-0.95zM228.6,584.9h0.95v0.95h-0.95zM243.6,584.3h0.95v0.95h-0.95zM243.8,578.5h0.95v0.95h-0.95zM229.4,588.0h0.95v0.95h-0.95zM228.1,596.8h0.95v0.95h-0.95zM244.1,593.2h0.95v0.95h-0.95zM244.9,596.8h0.95v0.95h-0.95zM243.9,587.7h0.95v0.95h-0.95zM244.1,589.8h0.95v0.95h-0.95z" fill="#f7996f" fill-opacity="0.9"/>
<rect x="184.20" y="367.40" width="138.40" height="239.80" fill="none" stroke="#9a9a9a" stroke-width="0.9"/>
<rect x="184.70" y="367.90" width="137.00" height="10.00" fill="#fff"/>
<line x1="184.20" y1="377.20" x2="322.60" y2="377.20" stroke="#ffffff" stroke-width="0.6"/>
<line x1="265.80" y1="377.00" x2="265.80" y2="607.20" stroke="#8a8a8a" stroke-width="0.8"/>
<line x1="267.70" y1="377.00" x2="267.70" y2="607.20" stroke="#8a8a8a" stroke-width="0.8"/>
<text x="188.30" y="375.00" font-size="8.4" fill="#111">Only introgression lines</text>
<line x1="181.60" y1="383.50" x2="184.20" y2="383.50" stroke="#333" stroke-width="0.7"/>
<line x1="181.60" y1="393.60" x2="184.20" y2="393.60" stroke="#333" stroke-width="0.7"/>
<line x1="181.60" y1="405.40" x2="184.20" y2="405.40" stroke="#333" stroke-width="0.7"/>
<line x1="181.60" y1="414.50" x2="184.20" y2="414.50" stroke="#333" stroke-width="0.7"/>
<line x1="181.60" y1="423.40" x2="184.20" y2="423.40" stroke="#333" stroke-width="0.7"/>
<line x1="181.60" y1="434.30" x2="184.20" y2="434.30" stroke="#333" stroke-width="0.7"/>
<line x1="181.60" y1="443.00" x2="184.20" y2="443.00" stroke="#333" stroke-width="0.7"/>
<line x1="181.60" y1="453.60" x2="184.20" y2="453.60" stroke="#333" stroke-width="0.7"/>
<line x1="181.60" y1="464.00" x2="184.20" y2="464.00" stroke="#333" stroke-width="0.7"/>
<line x1="181.60" y1="473.80" x2="184.20" y2="473.80" stroke="#333" stroke-width="0.7"/>
<line x1="181.60" y1="483.20" x2="184.20" y2="483.20" stroke="#333" stroke-width="0.7"/>
<line x1="181.60" y1="494.00" x2="184.20" y2="494.00" stroke="#333" stroke-width="0.7"/>
<line x1="181.60" y1="504.50" x2="184.20" y2="504.50" stroke="#333" stroke-width="0.7"/>
<line x1="181.60" y1="515.40" x2="184.20" y2="515.40" stroke="#333" stroke-width="0.7"/>
<line x1="181.60" y1="527.50" x2="184.20" y2="527.50" stroke="#333" stroke-width="0.7"/>
<line x1="181.60" y1="538.90" x2="184.20" y2="538.90" stroke="#333" stroke-width="0.7"/>
<line x1="181.60" y1="550.90" x2="184.20" y2="550.90" stroke="#333" stroke-width="0.7"/>
<line x1="181.60" y1="562.50" x2="184.20" y2="562.50" stroke="#333" stroke-width="0.7"/>
<line x1="181.60" y1="571.80" x2="184.20" y2="571.80" stroke="#333" stroke-width="0.7"/>
<line x1="181.60" y1="581.00" x2="184.20" y2="581.00" stroke="#333" stroke-width="0.7"/>
<line x1="181.60" y1="591.50" x2="184.20" y2="591.50" stroke="#333" stroke-width="0.7"/>
<line x1="199.60" y1="607.20" x2="199.60" y2="609.40" stroke="#333" stroke-width="0.7"/>
<text x="199.60" y="618.20" font-size="8.6" text-anchor="middle" fill="#333">580</text>
<line x1="222.30" y1="607.20" x2="222.30" y2="609.40" stroke="#333" stroke-width="0.7"/>
<text x="222.30" y="618.20" font-size="8.6" text-anchor="middle" fill="#333">600</text>
<line x1="245.40" y1="607.20" x2="245.40" y2="609.40" stroke="#333" stroke-width="0.7"/>
<text x="245.40" y="618.20" font-size="8.6" text-anchor="middle" fill="#333">620</text>
<text x="252.20" y="618.20" font-size="8.6" fill="#333">(Mb)</text>
<line x1="267.90" y1="378.75" x2="322.60" y2="378.75" stroke="#e3e3e3" stroke-width="0.7"/>
<line x1="267.90" y1="388.50" x2="322.60" y2="388.50" stroke="#e3e3e3" stroke-width="0.7"/>
<line x1="267.90" y1="399.40" x2="322.60" y2="399.40" stroke="#e3e3e3" stroke-width="0.7"/>
<line x1="267.90" y1="410.00" x2="322.60" y2="410.00" stroke="#e3e3e3" stroke-width="0.7"/>
<line x1="267.90" y1="419.40" x2="322.60" y2="419.40" stroke="#e3e3e3" stroke-width="0.7"/>
<line x1="267.90" y1="429.75" x2="322.60" y2="429.75" stroke="#e3e3e3" stroke-width="0.7"/>
<line x1="267.90" y1="438.75" x2="322.60" y2="438.75" stroke="#e3e3e3" stroke-width="0.7"/>
<line x1="267.90" y1="448.75" x2="322.60" y2="448.75" stroke="#e3e3e3" stroke-width="0.7"/>
<line x1="267.90" y1="459.40" x2="322.60" y2="459.40" stroke="#e3e3e3" stroke-width="0.7"/>
<line x1="267.90" y1="469.75" x2="322.60" y2="469.75" stroke="#e3e3e3" stroke-width="0.7"/>
<line x1="267.90" y1="478.50" x2="322.60" y2="478.50" stroke="#e3e3e3" stroke-width="0.7"/>
<line x1="267.90" y1="488.50" x2="322.60" y2="488.50" stroke="#e3e3e3" stroke-width="0.7"/>
<line x1="267.90" y1="499.10" x2="322.60" y2="499.10" stroke="#e3e3e3" stroke-width="0.7"/>
<line x1="267.90" y1="510.60" x2="322.60" y2="510.60" stroke="#e3e3e3" stroke-width="0.7"/>
<line x1="267.90" y1="522.50" x2="322.60" y2="522.50" stroke="#e3e3e3" stroke-width="0.7"/>
<line x1="267.90" y1="533.50" x2="322.60" y2="533.50" stroke="#e3e3e3" stroke-width="0.7"/>
<line x1="267.90" y1="544.40" x2="322.60" y2="544.40" stroke="#e3e3e3" stroke-width="0.7"/>
<line x1="267.90" y1="556.25" x2="322.60" y2="556.25" stroke="#e3e3e3" stroke-width="0.7"/>
<line x1="267.90" y1="567.50" x2="322.60" y2="567.50" stroke="#e3e3e3" stroke-width="0.7"/>
<line x1="267.90" y1="577.30" x2="322.60" y2="577.30" stroke="#e3e3e3" stroke-width="0.7"/>
<line x1="267.90" y1="586.80" x2="322.60" y2="586.80" stroke="#e3e3e3" stroke-width="0.7"/>
<line x1="267.90" y1="597.00" x2="322.60" y2="597.00" stroke="#e3e3e3" stroke-width="0.7"/>
<rect x="269.90" y="380.10" width="4.80" height="6.80" fill="#a8cde3"/>
<rect x="274.70" y="380.10" width="1.30" height="6.80" fill="#fcc53a"/>
<rect x="276.00" y="380.10" width="2.00" height="6.80" fill="#fba987"/>
<rect x="269.90" y="390.20" width="12.10" height="6.80" fill="#a8cde3"/>
<rect x="282.00" y="390.20" width="2.00" height="6.80" fill="#fcc53a"/>
<rect x="284.00" y="390.20" width="5.30" height="6.80" fill="#fba987"/>
<rect x="269.90" y="402.00" width="12.70" height="6.80" fill="#a8cde3"/>
<rect x="282.60" y="402.00" width="4.40" height="6.80" fill="#fcc53a"/>
<rect x="287.00" y="402.00" width="5.90" height="6.80" fill="#fba987"/>
<rect x="269.90" y="411.10" width="4.50" height="6.80" fill="#a8cde3"/>
<rect x="274.40" y="411.10" width="1.30" height="6.80" fill="#fcc53a"/>
<rect x="275.70" y="411.10" width="1.30" height="6.80" fill="#fba987"/>
<rect x="269.90" y="420.00" width="24.90" height="6.80" fill="#a8cde3"/>
<rect x="294.80" y="420.00" width="7.50" height="6.80" fill="#fcc53a"/>
<rect x="302.30" y="420.00" width="15.50" height="6.80" fill="#fba987"/>
<rect x="269.90" y="430.90" width="8.40" height="6.80" fill="#a8cde3"/>
<rect x="278.30" y="430.90" width="2.70" height="6.80" fill="#fcc53a"/>
<rect x="281.00" y="430.90" width="1.90" height="6.80" fill="#fba987"/>
<rect x="269.90" y="439.60" width="3.30" height="6.80" fill="#a8cde3"/>
<rect x="273.20" y="439.60" width="1.50" height="6.80" fill="#fcc53a"/>
<rect x="274.70" y="439.60" width="1.10" height="6.80" fill="#fba987"/>
<rect x="269.90" y="450.20" width="13.10" height="6.80" fill="#a8cde3"/>
<rect x="283.00" y="450.20" width="3.60" height="6.80" fill="#fcc53a"/>
<rect x="286.60" y="450.20" width="2.90" height="6.80" fill="#fba987"/>
<rect x="269.90" y="460.60" width="10.40" height="6.80" fill="#a8cde3"/>
<rect x="280.30" y="460.60" width="2.80" height="6.80" fill="#fcc53a"/>
<rect x="283.10" y="460.60" width="2.60" height="6.80" fill="#fba987"/>
<rect x="269.90" y="470.40" width="1.90" height="6.80" fill="#a8cde3"/>
<rect x="271.80" y="470.40" width="1.30" height="6.80" fill="#fcc53a"/>
<rect x="273.10" y="470.40" width="0.10" height="6.80" fill="#fba987"/>
<rect x="269.90" y="479.80" width="4.70" height="6.80" fill="#a8cde3"/>
<rect x="274.60" y="479.80" width="1.40" height="6.80" fill="#fcc53a"/>
<rect x="276.00" y="479.80" width="0.10" height="6.80" fill="#fba987"/>
<rect x="269.90" y="490.60" width="8.30" height="6.80" fill="#a8cde3"/>
<rect x="278.20" y="490.60" width="1.50" height="6.80" fill="#fcc53a"/>
<rect x="279.70" y="490.60" width="2.30" height="6.80" fill="#fba987"/>
<rect x="269.90" y="501.10" width="3.60" height="6.80" fill="#a8cde3"/>
<rect x="273.50" y="501.10" width="1.10" height="6.80" fill="#fcc53a"/>
<rect x="274.60" y="501.10" width="1.40" height="6.80" fill="#fba987"/>
<rect x="269.90" y="512.00" width="20.50" height="6.80" fill="#a8cde3"/>
<rect x="290.40" y="512.00" width="4.30" height="6.80" fill="#fcc53a"/>
<rect x="294.70" y="512.00" width="2.30" height="6.80" fill="#fba987"/>
<rect x="269.90" y="524.10" width="12.10" height="6.80" fill="#a8cde3"/>
<rect x="282.00" y="524.10" width="5.00" height="6.80" fill="#fcc53a"/>
<rect x="287.00" y="524.10" width="6.90" height="6.80" fill="#fba987"/>
<rect x="269.90" y="535.50" width="7.80" height="6.80" fill="#a8cde3"/>
<rect x="277.70" y="535.50" width="5.60" height="6.80" fill="#fcc53a"/>
<rect x="283.30" y="535.50" width="4.60" height="6.80" fill="#fba987"/>
<rect x="269.90" y="547.50" width="24.00" height="6.80" fill="#a8cde3"/>
<rect x="293.90" y="547.50" width="11.20" height="6.80" fill="#fcc53a"/>
<rect x="305.10" y="547.50" width="14.50" height="6.80" fill="#fba987"/>
<rect x="269.90" y="559.10" width="14.30" height="6.80" fill="#a8cde3"/>
<rect x="284.20" y="559.10" width="4.30" height="6.80" fill="#fcc53a"/>
<rect x="288.50" y="559.10" width="5.40" height="6.80" fill="#fba987"/>
<rect x="269.90" y="568.40" width="4.60" height="6.80" fill="#a8cde3"/>
<rect x="274.50" y="568.40" width="2.30" height="6.80" fill="#fcc53a"/>
<rect x="276.80" y="568.40" width="0.40" height="6.80" fill="#fba987"/>
<rect x="269.90" y="577.60" width="13.90" height="6.80" fill="#a8cde3"/>
<rect x="283.80" y="577.60" width="5.10" height="6.80" fill="#fcc53a"/>
<rect x="288.90" y="577.60" width="3.10" height="6.80" fill="#fba987"/>
<rect x="269.90" y="588.10" width="13.40" height="6.80" fill="#a8cde3"/>
<rect x="283.30" y="588.10" width="3.70" height="6.80" fill="#fcc53a"/>
<rect x="287.00" y="588.10" width="2.80" height="6.80" fill="#fba987"/>
<line x1="269.60" y1="607.20" x2="269.60" y2="609.40" stroke="#333" stroke-width="0.7"/>
<line x1="283.50" y1="607.20" x2="283.50" y2="609.40" stroke="#333" stroke-width="0.7"/>
<text x="0" y="0" font-size="8.6" text-anchor="end" fill="#333" transform="translate(288.40,614.80) rotate(-45)">300</text>
<line x1="297.40" y1="607.20" x2="297.40" y2="609.40" stroke="#333" stroke-width="0.7"/>
<text x="0" y="0" font-size="8.6" text-anchor="end" fill="#333" transform="translate(302.30,614.80) rotate(-45)">600</text>
<line x1="311.30" y1="607.20" x2="311.30" y2="609.40" stroke="#333" stroke-width="0.7"/>
<text x="0" y="0" font-size="8.6" text-anchor="end" fill="#333" transform="translate(316.20,614.80) rotate(-45)">900</text>
<text x="296.00" y="637.00" font-size="10.0" text-anchor="middle" fill="#1a1a1a">eQTL count</text>
<text x="351.50" y="360.30" font-size="10.8" font-weight="bold" fill="#000">h</text>
<rect x="413.50" y="376.40" width="247.10" height="52.90" fill="none" stroke="#8a8a8a" stroke-width="0.9"/>
<line x1="410.80" y1="388.40" x2="413.50" y2="388.40" stroke="#333" stroke-width="0.7"/>
<text x="410.00" y="391.20" font-size="7.9" text-anchor="end" fill="#333">100</text>
<line x1="410.80" y1="408.20" x2="413.50" y2="408.20" stroke="#333" stroke-width="0.7"/>
<text x="410.00" y="411.00" font-size="7.9" text-anchor="end" fill="#333">50</text>
<line x1="410.80" y1="427.50" x2="413.50" y2="427.50" stroke="#333" stroke-width="0.7"/>
<text x="410.00" y="430.30" font-size="7.9" text-anchor="end" fill="#333">0</text>
<line x1="443.90" y1="429.30" x2="443.90" y2="431.70" stroke="#333" stroke-width="0.7"/>
<text x="443.90" y="440.90" font-size="8.6" text-anchor="middle" fill="#333">580</text>
<line x1="521.00" y1="429.30" x2="521.00" y2="431.70" stroke="#333" stroke-width="0.7"/>
<text x="521.00" y="440.90" font-size="8.6" text-anchor="middle" fill="#333">600</text>
<line x1="598.00" y1="429.30" x2="598.00" y2="431.70" stroke="#333" stroke-width="0.7"/>
<text x="598.00" y="440.90" font-size="8.6" text-anchor="middle" fill="#333">620</text>
<text x="642.30" y="440.90" font-size="8.6" fill="#333">(Mb)</text>
<text x="542.60" y="451.60" font-size="10.0" text-anchor="middle" fill="#1a1a1a">Renan2D</text>
<text x="0" y="0" font-size="8.5" text-anchor="middle" fill="#1a1a1a" transform="translate(383.60,410.70) rotate(-90)">Count of</text>
<text x="0" y="0" font-size="8.4" text-anchor="middle" fill="#1a1a1a" transform="translate(391.70,410.70) rotate(-90)">active−eQTG  in chr6B</text>
<path d="M424.0,427.5 L441.9,423.7 L447.9,427.5 L464.2,424.3 L511.5,427.4 L514.9,427.0 L515.8,426.2 L516.6,425.3 L549.9,426.5 L559.5,407.9 L573.8,425.4 L597.8,421.9 L597.8,427.4 L626.3,427.4 L635.7,427.4 L636.8,426.5 L641.2,424.7 L642.3,426.5 L643.4,422.6 L646.2,378.1 L649.3,427.4" stroke="#6a6a6a" fill="none" stroke-width="0.6"/>
<circle cx="424.00" cy="427.50" r="1.35" fill="#000"/>
<circle cx="441.90" cy="423.70" r="1.35" fill="#000"/>
<circle cx="447.90" cy="427.50" r="1.35" fill="#000"/>
<circle cx="464.20" cy="424.30" r="1.35" fill="#000"/>
<circle cx="511.50" cy="427.40" r="1.35" fill="#000"/>
<circle cx="514.90" cy="427.00" r="1.35" fill="#000"/>
<circle cx="515.80" cy="426.20" r="1.35" fill="#000"/>
<circle cx="516.60" cy="425.30" r="1.35" fill="#000"/>
<circle cx="549.90" cy="426.50" r="1.35" fill="#000"/>
<circle cx="573.80" cy="425.40" r="1.35" fill="#000"/>
<circle cx="597.80" cy="421.90" r="1.35" fill="#000"/>
<circle cx="597.80" cy="427.40" r="1.35" fill="#000"/>
<circle cx="626.30" cy="427.40" r="1.35" fill="#000"/>
<circle cx="635.70" cy="427.40" r="1.35" fill="#000"/>
<circle cx="636.80" cy="426.50" r="1.35" fill="#000"/>
<circle cx="641.20" cy="424.70" r="1.35" fill="#000"/>
<circle cx="642.30" cy="426.50" r="1.35" fill="#000"/>
<circle cx="643.40" cy="422.60" r="1.35" fill="#000"/>
<circle cx="649.30" cy="427.40" r="1.35" fill="#000"/>
<circle cx="559.50" cy="407.90" r="1.80" fill="#6db33f"/>
<circle cx="646.20" cy="409.40" r="1.80" fill="#f47a3c"/>
<circle cx="646.20" cy="414.40" r="1.80" fill="#22b5e0"/>
<circle cx="646.20" cy="378.10" r="1.80" fill="#d27fd8"/>
<path d="M523.4,522.4L517.3,470.4M523.4,522.4L527.4,470.4M523.4,522.4L510.8,472.5M523.4,522.4L534.4,472.5M523.4,522.4L505.0,474.3M523.4,522.4L522.9,473.9M523.4,522.4L540.1,474.3M523.4,522.4L498.9,476.9M523.4,522.4L547.9,477.8M523.4,522.4L493.6,480.4M523.4,522.4L503.3,480.9M523.4,522.4L511.5,479.5M523.4,522.4L518.7,478.1M523.4,522.4L529.5,477.4M523.4,522.4L534.8,480.9M523.4,522.4L542.7,480.9M523.4,522.4L553.7,481.6M523.4,522.4L485.8,487.0M523.4,522.4L491.9,486.2M523.4,522.4L506.8,486.5M523.4,522.4L515.9,485.6M523.4,522.4L527.8,484.4M523.4,522.4L541.8,487.4M523.4,522.4L550.6,486.9M523.4,522.4L559.0,487.9M523.4,522.4L487.5,493.5M523.4,522.4L495.4,492.7M523.4,522.4L501.2,490.9M523.4,522.4L516.4,492.7M523.4,522.4L523.4,489.2M523.4,522.4L536.2,491.8M523.4,522.4L548.5,492.7M523.4,522.4L558.1,494.9M523.4,522.4L564.0,495.6M523.4,522.4L481.9,496.7M523.4,522.4L491.9,501.9M523.4,522.4L498.0,498.8M523.4,522.4L505.9,496.5M523.4,522.4L512.9,501.4M523.4,522.4L522.5,500.5M523.4,522.4L532.2,502.3M523.4,522.4L542.7,499.7M523.4,522.4L552.7,499.7M523.4,522.4L564.6,501.9M523.4,522.4L479.1,503.2M523.4,522.4L485.8,504.9M523.4,522.4L479.6,510.7M523.4,522.4L567.2,508.4M523.4,522.4L484.0,517.2M523.4,522.4L478.8,519.4M523.4,522.4L493.6,517.7M523.4,522.4L504.2,518.4M523.4,522.4L540.9,520.7M523.4,522.4L550.6,516.3M523.4,522.4L559.3,518.4M523.4,522.4L565.1,522.4M523.4,522.4L481.4,526.5M523.4,522.4L488.9,525.4M523.4,522.4L503.3,526.8M523.4,522.4L552.0,525.1M523.4,522.4L559.3,527.7M523.4,522.4L566.8,529.4M523.4,522.4L486.1,532.9M523.4,522.4L495.4,532.1M523.4,522.4L560.2,533.8M523.4,522.4L481.9,538.2M523.4,522.4L495.4,539.4M523.4,522.4L509.9,538.2M523.4,522.4L526.9,538.2M523.4,522.4L537.4,534.7M523.4,522.4L544.4,534.7M523.4,522.4L553.7,537.7M523.4,522.4L562.8,539.9M523.4,522.4L487.5,542.6M523.4,522.4L502.4,544.3M523.4,522.4L495.9,546.9M523.4,522.4L547.1,542.6M523.4,522.4L556.7,545.2M523.4,522.4L491.9,551.0M523.4,522.4L547.4,542.6M523.4,522.4L556.2,545.3M523.4,522.4L481.9,537.9M523.4,522.4L488.1,543.1M523.4,522.4L502.1,544.0" stroke="#dca0e0" fill="none" stroke-width="0.45" stroke-opacity="0.8"/>
<path d="M523.4,522.4L512.9,559.6M523.4,522.4L522.0,557.5M523.4,522.4L527.6,557.0M523.4,522.4L534.6,557.5M523.4,522.4L539.2,559.6M523.4,522.4L543.9,560.5M523.4,522.4L505.4,563.6M523.4,522.4L509.8,564.2M523.4,522.4L517.7,561.0M523.4,522.4L525.9,564.0M523.4,522.4L530.8,561.4M523.4,522.4L538.7,564.5M523.4,522.4L546.2,565.4M523.4,522.4L506.3,568.9M523.4,522.4L514.7,566.8M523.4,522.4L521.2,565.9M523.4,522.4L532.0,567.1M523.4,522.4L526.4,569.8M523.4,522.4L542.7,568.4M523.4,522.4L511.2,571.5M523.4,522.4L516.3,572.4M523.4,522.4L522.0,572.4M523.4,522.4L530.8,572.4M523.4,522.4L536.9,570.6" stroke="#f6a09a" fill="none" stroke-width="0.45" stroke-opacity="0.8"/>
<path d="M523.4,522.4L480.7,557.1M523.4,522.4L483.7,559.8M523.4,522.4L480.2,562.0M523.4,522.4L484.2,564.7M523.4,522.4L481.1,567.3M523.4,522.4L484.0,570.6M523.4,522.4L481.9,585.2M523.4,522.4L481.9,588.1" stroke="#8ab0e8" fill="none" stroke-width="0.5" stroke-opacity="0.8"/>
<path d="M523.4,522.4L560.6,567.1M523.4,522.4L560.9,569.8M523.4,522.4L573.7,550.9M523.4,522.4L574.6,554.0M523.4,522.4L572.8,557.5" stroke="#b0b8a0" fill="none" stroke-width="0.5" stroke-opacity="0.9"/>
<path d="M528.2,591.7L512.9,559.6M528.2,591.7L522.0,557.5M528.2,591.7L527.6,557.0M528.2,591.7L534.6,557.5M528.2,591.7L539.2,559.6M528.2,591.7L543.9,560.5M528.2,591.7L505.4,563.6M528.2,591.7L509.8,564.2M528.2,591.7L517.7,561.0M528.2,591.7L525.9,564.0M528.2,591.7L530.8,561.4M528.2,591.7L538.7,564.5M528.2,591.7L546.2,565.4M528.2,591.7L506.3,568.9M528.2,591.7L514.7,566.8M528.2,591.7L521.2,565.9M528.2,591.7L532.0,567.1M528.2,591.7L526.4,569.8M528.2,591.7L542.7,568.4M528.2,591.7L511.2,571.5M528.2,591.7L516.3,572.4M528.2,591.7L522.0,572.4M528.2,591.7L530.8,572.4M528.2,591.7L536.9,570.6M528.2,591.7L500.1,620.6M528.2,591.7L508.0,620.9M528.2,591.7L515.9,623.7M528.2,591.7L523.8,626.3M528.2,591.7L529.9,624.1M528.2,591.7L538.7,622.3M528.2,591.7L546.5,620.2M528.2,591.7L554.4,621.1M528.2,591.7L503.6,627.0M528.2,591.7L509.8,631.1M528.2,591.7L515.0,630.7M528.2,591.7L518.2,635.4M528.2,591.7L524.1,636.3M528.2,591.7L529.9,635.4M528.2,591.7L536.4,635.4M528.2,591.7L536.9,629.0M528.2,591.7L543.9,632.8M528.2,591.7L549.2,627.6" stroke="#f8a78c" fill="none" stroke-width="0.45" stroke-opacity="0.85"/>
<path d="M528.2,591.7L481.9,585.2M528.2,591.7L481.9,588.1" stroke="#a8c0c8" fill="none" stroke-width="0.5" stroke-opacity="0.9"/>
<path d="M528.2,591.7L560.6,567.1M528.2,591.7L560.9,569.8" stroke="#c8c090" fill="none" stroke-width="0.5" stroke-opacity="0.9"/>
<path d="M460.9,573.4L425.9,548.9M460.9,573.4L433.4,547.0M460.9,573.4L438.2,552.4M460.9,573.4L419.8,555.4M460.9,573.4L427.3,556.8M460.9,573.4L434.7,561.5M460.9,573.4L414.5,563.3M460.9,573.4L422.0,562.9M460.9,573.4L418.4,570.3M460.9,573.4L426.8,568.9M460.9,573.4L434.7,571.7M460.9,573.4L412.8,574.7M460.9,573.4L412.8,582.5M460.9,573.4L419.4,585.2M460.9,573.4L428.9,586.9M460.9,573.4L436.4,589.0M460.9,573.4L416.6,592.2M460.9,573.4L425.0,592.7M460.9,573.4L421.9,599.2M460.9,573.4L433.4,599.2M460.9,573.4L442.0,600.4M460.9,573.4L427.7,603.6M460.9,573.4L436.4,607.0M460.9,573.4L480.7,557.1M460.9,573.4L483.7,559.8M460.9,573.4L480.2,562.0M460.9,573.4L484.2,564.7M460.9,573.4L481.1,567.3M460.9,573.4L484.0,570.6M460.9,573.4L481.9,585.2M460.9,573.4L481.9,588.1" stroke="#5cc8e0" fill="none" stroke-width="0.45" stroke-opacity="0.85"/>
<path d="M595.1,574.3L614.0,538.9M595.1,574.3L604.9,541.0M595.1,574.3L617.2,544.5M595.1,574.3L624.9,544.2M595.1,574.3L598.3,546.6M595.1,574.3L607.0,548.9M595.1,574.3L628.9,549.4M595.1,574.3L633.3,552.7M595.1,574.3L593.0,555.0M595.1,574.3L614.9,555.4M595.1,574.3L621.6,551.9M595.1,574.3L606.2,558.9M595.1,574.3L634.2,557.7M595.1,574.3L639.4,560.3M595.1,574.3L626.6,561.2M595.1,574.3L619.6,565.9M595.1,574.3L632.4,565.5M595.1,574.3L639.4,565.9M595.1,574.3L610.9,569.9M595.1,574.3L625.9,571.7M595.1,574.3L638.6,570.8M595.1,574.3L636.8,576.0M595.1,574.3L614.9,578.7M595.1,574.3L625.4,578.7M595.1,574.3L634.2,581.3M595.1,574.3L632.4,587.4M595.1,574.3L636.8,590.9M595.1,574.3L603.2,586.5M595.1,574.3L614.6,591.8M595.1,574.3L625.4,593.6M595.1,574.3L631.5,596.2M595.1,574.3L589.0,595.7M595.1,574.3L605.3,597.1M595.1,574.3L597.4,599.7M595.1,574.3L614.4,599.7M595.1,574.3L628.9,601.1M595.1,574.3L592.1,605.3M595.1,574.3L612.6,605.8M595.1,574.3L622.4,603.5M595.1,574.3L597.9,610.2M595.1,574.3L604.9,609.8M595.1,574.3L611.4,612.5M595.1,574.3L620.7,609.3M595.1,574.3L560.6,567.1M595.1,574.3L560.9,569.8M595.1,574.3L573.7,550.9M595.1,574.3L574.6,554.0M595.1,574.3L572.8,557.5" stroke="#a8d090" fill="none" stroke-width="0.45" stroke-opacity="0.85"/>
<circle cx="517.29" cy="470.41" r="2.05" fill="#c77fcb"/><circle cx="527.44" cy="470.41" r="2.05" fill="#c77fcb"/><circle cx="510.81" cy="472.51" r="2.05" fill="#c77fcb"/><circle cx="534.45" cy="472.51" r="2.05" fill="#c77fcb"/><circle cx="505.03" cy="474.26" r="2.05" fill="#c77fcb"/><circle cx="522.89" cy="473.91" r="2.05" fill="#c77fcb"/><circle cx="540.05" cy="474.26" r="2.05" fill="#c77fcb"/><circle cx="498.90" cy="476.89" r="2.05" fill="#c77fcb"/><circle cx="547.93" cy="477.77" r="2.05" fill="#c77fcb"/><circle cx="493.64" cy="480.39" r="2.05" fill="#c77fcb"/><circle cx="503.27" cy="480.92" r="2.05" fill="#c77fcb"/><circle cx="511.51" cy="479.52" r="2.05" fill="#c77fcb"/><circle cx="518.69" cy="478.12" r="2.05" fill="#c77fcb"/><circle cx="529.54" cy="477.42" r="2.05" fill="#c77fcb"/><circle cx="534.80" cy="480.92" r="2.05" fill="#c77fcb"/><circle cx="542.68" cy="480.92" r="2.05" fill="#c77fcb"/><circle cx="553.71" cy="481.62" r="2.05" fill="#c77fcb"/><circle cx="485.76" cy="487.05" r="2.05" fill="#c77fcb"/><circle cx="491.89" cy="486.17" r="2.05" fill="#c77fcb"/><circle cx="506.78" cy="486.52" r="2.05" fill="#c77fcb"/><circle cx="515.88" cy="485.65" r="2.05" fill="#c77fcb"/><circle cx="527.79" cy="484.42" r="2.05" fill="#c77fcb"/><circle cx="541.80" cy="487.40" r="2.05" fill="#c77fcb"/><circle cx="550.56" cy="486.87" r="2.05" fill="#c77fcb"/><circle cx="558.97" cy="487.92" r="2.05" fill="#c77fcb"/><circle cx="487.51" cy="493.53" r="2.05" fill="#c77fcb"/><circle cx="495.39" cy="492.65" r="2.05" fill="#c77fcb"/><circle cx="501.17" cy="490.90" r="2.05" fill="#c77fcb"/><circle cx="516.41" cy="492.65" r="2.05" fill="#c77fcb"/><circle cx="523.42" cy="489.15" r="2.05" fill="#c77fcb"/><circle cx="536.20" cy="491.78" r="2.05" fill="#c77fcb"/><circle cx="548.46" cy="492.65" r="2.05" fill="#c77fcb"/><circle cx="558.09" cy="494.93" r="2.05" fill="#c77fcb"/><circle cx="564.05" cy="495.63" r="2.05" fill="#c77fcb"/><circle cx="481.91" cy="496.68" r="2.05" fill="#c77fcb"/><circle cx="491.89" cy="501.94" r="2.05" fill="#c77fcb"/><circle cx="498.02" cy="498.78" r="2.05" fill="#c77fcb"/><circle cx="505.90" cy="496.51" r="2.05" fill="#c77fcb"/><circle cx="512.91" cy="501.41" r="2.05" fill="#c77fcb"/><circle cx="522.54" cy="500.53" r="2.05" fill="#c77fcb"/><circle cx="532.17" cy="502.29" r="2.05" fill="#c77fcb"/><circle cx="542.68" cy="499.66" r="2.05" fill="#c77fcb"/><circle cx="552.66" cy="499.66" r="2.05" fill="#c77fcb"/><circle cx="564.57" cy="501.94" r="2.05" fill="#c77fcb"/><circle cx="479.11" cy="503.16" r="2.05" fill="#c77fcb"/><circle cx="485.76" cy="504.91" r="2.05" fill="#c77fcb"/><circle cx="479.63" cy="510.69" r="2.05" fill="#c77fcb"/><circle cx="567.20" cy="508.42" r="2.05" fill="#c77fcb"/><circle cx="484.01" cy="517.17" r="2.05" fill="#c77fcb"/><circle cx="478.76" cy="519.45" r="2.05" fill="#c77fcb"/><circle cx="493.64" cy="517.70" r="2.05" fill="#c77fcb"/><circle cx="504.15" cy="518.40" r="2.05" fill="#c77fcb"/><circle cx="540.93" cy="520.67" r="2.05" fill="#c77fcb"/><circle cx="550.56" cy="516.30" r="2.05" fill="#c77fcb"/><circle cx="559.32" cy="518.40" r="2.05" fill="#c77fcb"/><circle cx="565.10" cy="522.43" r="2.05" fill="#c77fcb"/><circle cx="481.38" cy="526.45" r="2.05" fill="#c77fcb"/><circle cx="488.91" cy="525.40" r="2.05" fill="#c77fcb"/><circle cx="503.27" cy="526.80" r="2.05" fill="#c77fcb"/><circle cx="551.96" cy="525.05" r="2.05" fill="#c77fcb"/><circle cx="559.32" cy="527.68" r="2.05" fill="#c77fcb"/><circle cx="566.85" cy="529.43" r="2.05" fill="#c77fcb"/><circle cx="486.11" cy="532.93" r="2.05" fill="#c77fcb"/><circle cx="495.39" cy="532.06" r="2.05" fill="#c77fcb"/><circle cx="560.19" cy="533.81" r="2.05" fill="#c77fcb"/><circle cx="481.91" cy="538.19" r="2.05" fill="#c77fcb"/><circle cx="495.39" cy="539.41" r="2.05" fill="#c77fcb"/><circle cx="509.93" cy="538.19" r="2.05" fill="#c77fcb"/><circle cx="526.92" cy="538.19" r="2.05" fill="#c77fcb"/><circle cx="537.43" cy="534.68" r="2.05" fill="#c77fcb"/><circle cx="544.43" cy="534.68" r="2.05" fill="#c77fcb"/><circle cx="553.71" cy="537.66" r="2.05" fill="#c77fcb"/><circle cx="562.82" cy="539.94" r="2.05" fill="#c77fcb"/><circle cx="487.51" cy="542.57" r="2.05" fill="#c77fcb"/><circle cx="502.40" cy="544.32" r="2.05" fill="#c77fcb"/><circle cx="495.92" cy="546.94" r="2.05" fill="#c77fcb"/><circle cx="547.06" cy="542.57" r="2.05" fill="#c77fcb"/><circle cx="556.69" cy="545.19" r="2.05" fill="#c77fcb"/><circle cx="491.89" cy="550.97" r="2.05" fill="#c77fcb"/><circle cx="547.40" cy="542.60" r="2.05" fill="#c77fcb"/><circle cx="556.20" cy="545.30" r="2.05" fill="#c77fcb"/><circle cx="481.90" cy="537.90" r="2.05" fill="#c77fcb"/><circle cx="488.10" cy="543.10" r="2.05" fill="#c77fcb"/><circle cx="502.10" cy="544.00" r="2.05" fill="#c77fcb"/>
<circle cx="512.90" cy="559.60" r="2.05" fill="#f07a45"/><circle cx="522.00" cy="557.50" r="2.05" fill="#f07a45"/><circle cx="527.60" cy="557.00" r="2.05" fill="#f07a45"/><circle cx="534.60" cy="557.50" r="2.05" fill="#f07a45"/><circle cx="539.20" cy="559.60" r="2.05" fill="#f07a45"/><circle cx="543.90" cy="560.50" r="2.05" fill="#f07a45"/><circle cx="505.40" cy="563.60" r="2.05" fill="#f07a45"/><circle cx="509.80" cy="564.20" r="2.05" fill="#f07a45"/><circle cx="517.70" cy="561.00" r="2.05" fill="#f07a45"/><circle cx="525.90" cy="564.00" r="2.05" fill="#f07a45"/><circle cx="530.80" cy="561.40" r="2.05" fill="#f07a45"/><circle cx="538.70" cy="564.50" r="2.05" fill="#f07a45"/><circle cx="546.20" cy="565.40" r="2.05" fill="#f07a45"/><circle cx="506.30" cy="568.90" r="2.05" fill="#f07a45"/><circle cx="514.70" cy="566.80" r="2.05" fill="#f07a45"/><circle cx="521.20" cy="565.90" r="2.05" fill="#f07a45"/><circle cx="532.00" cy="567.10" r="2.05" fill="#f07a45"/><circle cx="526.40" cy="569.80" r="2.05" fill="#f07a45"/><circle cx="542.70" cy="568.40" r="2.05" fill="#f07a45"/><circle cx="511.20" cy="571.50" r="2.05" fill="#f07a45"/><circle cx="516.30" cy="572.40" r="2.05" fill="#f07a45"/><circle cx="522.00" cy="572.40" r="2.05" fill="#f07a45"/><circle cx="530.80" cy="572.40" r="2.05" fill="#f07a45"/><circle cx="536.90" cy="570.60" r="2.05" fill="#f07a45"/><circle cx="500.10" cy="620.60" r="2.05" fill="#f07a45"/><circle cx="508.00" cy="620.90" r="2.05" fill="#f07a45"/><circle cx="515.90" cy="623.70" r="2.05" fill="#f07a45"/><circle cx="523.80" cy="626.30" r="2.05" fill="#f07a45"/><circle cx="529.90" cy="624.10" r="2.05" fill="#f07a45"/><circle cx="538.70" cy="622.30" r="2.05" fill="#f07a45"/><circle cx="546.50" cy="620.20" r="2.05" fill="#f07a45"/><circle cx="554.40" cy="621.10" r="2.05" fill="#f07a45"/><circle cx="503.60" cy="627.00" r="2.05" fill="#f07a45"/><circle cx="509.80" cy="631.10" r="2.05" fill="#f07a45"/><circle cx="515.00" cy="630.70" r="2.05" fill="#f07a45"/><circle cx="518.20" cy="635.40" r="2.05" fill="#f07a45"/><circle cx="524.10" cy="636.30" r="2.05" fill="#f07a45"/><circle cx="529.90" cy="635.40" r="2.05" fill="#f07a45"/><circle cx="536.40" cy="635.40" r="2.05" fill="#f07a45"/><circle cx="536.90" cy="629.00" r="2.05" fill="#f07a45"/><circle cx="543.90" cy="632.80" r="2.05" fill="#f07a45"/><circle cx="549.20" cy="627.60" r="2.05" fill="#f07a45"/>
<circle cx="425.90" cy="548.90" r="2.05" fill="#1fb0d5"/><circle cx="433.40" cy="547.00" r="2.05" fill="#1fb0d5"/><circle cx="438.20" cy="552.40" r="2.05" fill="#1fb0d5"/><circle cx="419.80" cy="555.40" r="2.05" fill="#1fb0d5"/><circle cx="427.30" cy="556.80" r="2.05" fill="#1fb0d5"/><circle cx="434.70" cy="561.50" r="2.05" fill="#1fb0d5"/><circle cx="414.50" cy="563.30" r="2.05" fill="#1fb0d5"/><circle cx="422.00" cy="562.90" r="2.05" fill="#1fb0d5"/><circle cx="418.40" cy="570.30" r="2.05" fill="#1fb0d5"/><circle cx="426.80" cy="568.90" r="2.05" fill="#1fb0d5"/><circle cx="434.70" cy="571.70" r="2.05" fill="#1fb0d5"/><circle cx="412.80" cy="574.70" r="2.05" fill="#1fb0d5"/><circle cx="412.80" cy="582.50" r="2.05" fill="#1fb0d5"/><circle cx="419.40" cy="585.20" r="2.05" fill="#1fb0d5"/><circle cx="428.90" cy="586.90" r="2.05" fill="#1fb0d5"/><circle cx="436.40" cy="589.00" r="2.05" fill="#1fb0d5"/><circle cx="416.60" cy="592.20" r="2.05" fill="#1fb0d5"/><circle cx="425.00" cy="592.70" r="2.05" fill="#1fb0d5"/><circle cx="421.90" cy="599.20" r="2.05" fill="#1fb0d5"/><circle cx="433.40" cy="599.20" r="2.05" fill="#1fb0d5"/><circle cx="442.00" cy="600.40" r="2.05" fill="#1fb0d5"/><circle cx="427.70" cy="603.60" r="2.05" fill="#1fb0d5"/><circle cx="436.40" cy="607.00" r="2.05" fill="#1fb0d5"/><circle cx="480.70" cy="557.10" r="2.05" fill="#1fb0d5"/><circle cx="483.70" cy="559.80" r="2.05" fill="#1fb0d5"/><circle cx="480.20" cy="562.00" r="2.05" fill="#1fb0d5"/><circle cx="484.20" cy="564.70" r="2.05" fill="#1fb0d5"/><circle cx="481.10" cy="567.30" r="2.05" fill="#1fb0d5"/><circle cx="484.00" cy="570.60" r="2.05" fill="#1fb0d5"/><circle cx="481.90" cy="585.20" r="2.05" fill="#1fb0d5"/><circle cx="481.90" cy="588.10" r="2.05" fill="#1fb0d5"/>
<circle cx="614.00" cy="538.90" r="2.05" fill="#61a83c"/><circle cx="604.90" cy="541.00" r="2.05" fill="#61a83c"/><circle cx="617.20" cy="544.50" r="2.05" fill="#61a83c"/><circle cx="624.90" cy="544.20" r="2.05" fill="#61a83c"/><circle cx="598.30" cy="546.60" r="2.05" fill="#61a83c"/><circle cx="607.00" cy="548.90" r="2.05" fill="#61a83c"/><circle cx="628.90" cy="549.40" r="2.05" fill="#61a83c"/><circle cx="633.30" cy="552.70" r="2.05" fill="#61a83c"/><circle cx="593.00" cy="555.00" r="2.05" fill="#61a83c"/><circle cx="614.90" cy="555.40" r="2.05" fill="#61a83c"/><circle cx="621.60" cy="551.90" r="2.05" fill="#61a83c"/><circle cx="606.20" cy="558.90" r="2.05" fill="#61a83c"/><circle cx="634.20" cy="557.70" r="2.05" fill="#61a83c"/><circle cx="639.40" cy="560.30" r="2.05" fill="#61a83c"/><circle cx="626.60" cy="561.20" r="2.05" fill="#61a83c"/><circle cx="619.60" cy="565.90" r="2.05" fill="#61a83c"/><circle cx="632.40" cy="565.50" r="2.05" fill="#61a83c"/><circle cx="639.40" cy="565.90" r="2.05" fill="#61a83c"/><circle cx="610.90" cy="569.90" r="2.05" fill="#61a83c"/><circle cx="625.90" cy="571.70" r="2.05" fill="#61a83c"/><circle cx="638.60" cy="570.80" r="2.05" fill="#61a83c"/><circle cx="636.80" cy="576.00" r="2.05" fill="#61a83c"/><circle cx="614.90" cy="578.70" r="2.05" fill="#61a83c"/><circle cx="625.40" cy="578.70" r="2.05" fill="#61a83c"/><circle cx="634.20" cy="581.30" r="2.05" fill="#61a83c"/><circle cx="632.40" cy="587.40" r="2.05" fill="#61a83c"/><circle cx="636.80" cy="590.90" r="2.05" fill="#61a83c"/><circle cx="603.20" cy="586.50" r="2.05" fill="#61a83c"/><circle cx="614.60" cy="591.80" r="2.05" fill="#61a83c"/><circle cx="625.40" cy="593.60" r="2.05" fill="#61a83c"/><circle cx="631.50" cy="596.20" r="2.05" fill="#61a83c"/><circle cx="589.00" cy="595.70" r="2.05" fill="#61a83c"/><circle cx="605.30" cy="597.10" r="2.05" fill="#61a83c"/><circle cx="597.40" cy="599.70" r="2.05" fill="#61a83c"/><circle cx="614.40" cy="599.70" r="2.05" fill="#61a83c"/><circle cx="628.90" cy="601.10" r="2.05" fill="#61a83c"/><circle cx="592.10" cy="605.30" r="2.05" fill="#61a83c"/><circle cx="612.60" cy="605.80" r="2.05" fill="#61a83c"/><circle cx="622.40" cy="603.50" r="2.05" fill="#61a83c"/><circle cx="597.90" cy="610.20" r="2.05" fill="#61a83c"/><circle cx="604.90" cy="609.80" r="2.05" fill="#61a83c"/><circle cx="611.40" cy="612.50" r="2.05" fill="#61a83c"/><circle cx="620.70" cy="609.30" r="2.05" fill="#61a83c"/><circle cx="560.60" cy="567.10" r="2.05" fill="#61a83c"/><circle cx="560.90" cy="569.80" r="2.05" fill="#61a83c"/><circle cx="573.70" cy="550.90" r="2.05" fill="#61a83c"/><circle cx="574.60" cy="554.00" r="2.05" fill="#61a83c"/><circle cx="572.80" cy="557.50" r="2.05" fill="#61a83c"/>
<circle cx="523.40" cy="522.40" r="4.40" fill="#c77fcb" stroke="#8a4a90" stroke-width="0.5"/>
<circle cx="460.90" cy="573.40" r="2.70" fill="#1fb0d5"/>
<circle cx="528.20" cy="591.70" r="3.20" fill="#f07a45"/>
<circle cx="595.10" cy="574.30" r="3.50" fill="#61a83c"/>
<text x="485.20" y="515.40" font-size="11.4" fill="#111">TraesRN2D0101172800</text>
<text x="575.00" y="526.60" font-size="9.6" fill="#d27fd8">(metabolic process)</text>
<text x="400.90" y="582.00" font-size="9.1" fill="#111">TraesRN2D0101172700</text>
<text x="475.20" y="604.40" font-size="10.1" fill="#111">TraesRN2D0101172600</text>
<text x="570.30" y="586.60" font-size="10.5" fill="#111">TraesRN2D0101139800</text>
</svg>
</body></html>
